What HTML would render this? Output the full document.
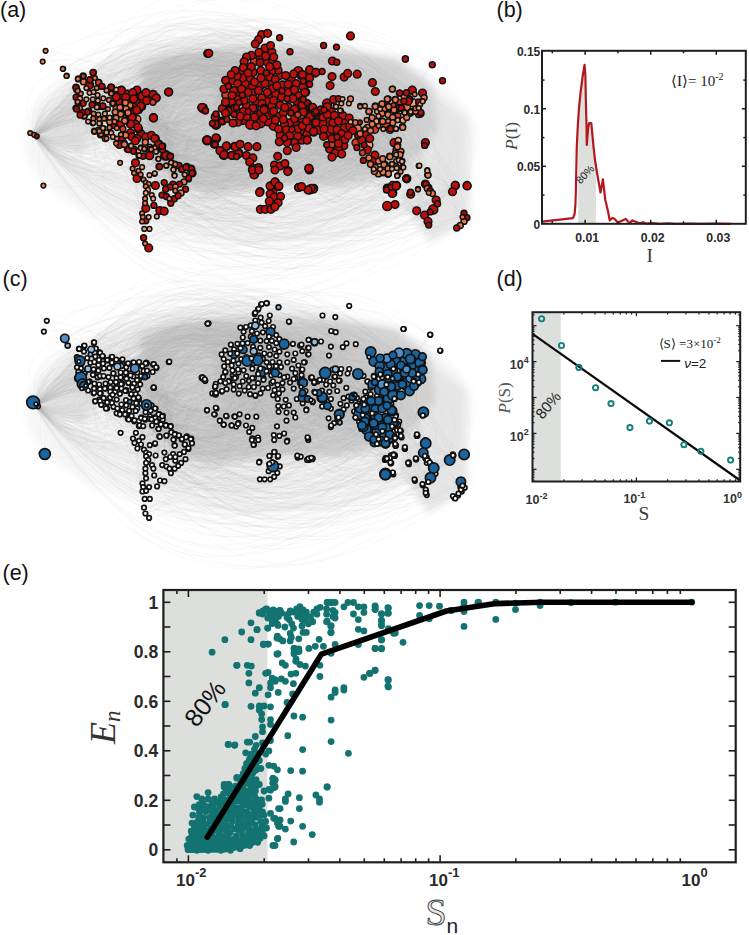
<!DOCTYPE html>
<html><head><meta charset="utf-8"><style>
html,body{margin:0;padding:0;background:#fff;width:749px;height:935px;overflow:hidden}
svg{display:block}
</style></head><body>
<svg width="749" height="935" viewBox="0 0 749 935">
<rect width="749" height="935" fill="#fff"/>
<text x="0" y="16.5" font-family='"Liberation Sans", sans-serif' font-size="21.5" fill="#111">(a)</text>
<text x="496.5" y="16.5" font-family='"Liberation Sans", sans-serif' font-size="21.5" fill="#111">(b)</text>
<text x="2.5" y="285.8" font-family='"Liberation Sans", sans-serif' font-size="21.5" fill="#111">(c)</text>
<text x="496.5" y="285.8" font-family='"Liberation Sans", sans-serif' font-size="21.5" fill="#111">(d)</text>
<text x="2.5" y="579.6" font-family='"Liberation Sans", sans-serif' font-size="21.5" fill="#111">(e)</text>
<defs><clipPath id="bclip"><rect x="578.2" y="40" width="17.7" height="184"/></clipPath></defs>
<polygon clip-path="url(#bclip)" points="542,221.6 573,218.2 574.6,214 575.4,205 575.9,190 576.2,175 576.5,160 576.8,145.6 577.9,124.2 579,108.1 580.6,92.1 582.7,76 584.6,64.8 585.4,76 585.9,102.8 586.5,124.2 586.8,145 588.1,128.4 589.1,123.1 591.3,123.1 592.4,134.9 593.4,145.6 595,160 596.9,172 600.5,192.5 602.9,179.3 605.3,200 607.9,210.8 609.7,220.4 612.6,217.9 614.1,218.5 617.8,222.6 625.8,218.9 629.5,223.3 632.4,220.4 637.6,222.6 640.5,223.3 643,222.3 646,223.6 652,223.2 660,223.8 668,223.4 676,223.8 690,223.6 700,223.8 715,223.6 730.7,223.8 730.7,224 542,224" fill="#dddfdd"/>
<polyline points="542,221.6 573,218.2 574.6,214 575.4,205 575.9,190 576.2,175 576.5,160 576.8,145.6 577.9,124.2 579,108.1 580.6,92.1 582.7,76 584.6,64.8 585.4,76 585.9,102.8 586.5,124.2 586.8,145 588.1,128.4 589.1,123.1 591.3,123.1 592.4,134.9 593.4,145.6 595,160 596.9,172 600.5,192.5 602.9,179.3 605.3,200 607.9,210.8 609.7,220.4 612.6,217.9 614.1,218.5 617.8,222.6 625.8,218.9 629.5,223.3 632.4,220.4 637.6,222.6 640.5,223.3 643,222.3 646,223.6 652,223.2 660,223.8 668,223.4 676,223.8 690,223.6 700,223.8 715,223.6 730.7,223.8" fill="none" stroke="#b2191f" stroke-width="2.2" stroke-linejoin="round"/>
<rect x="542" y="50.8" width="203.8" height="173" fill="none" stroke="#1e1e1e" stroke-width="2"/>
<line x1="552.3" y1="223.8" x2="552.3" y2="221.3" stroke="#1e1e1e" stroke-width="1.5"/>
<line x1="552.3" y1="50.8" x2="552.3" y2="53.3" stroke="#1e1e1e" stroke-width="1.5"/>
<line x1="585.1" y1="223.8" x2="585.1" y2="219.8" stroke="#1e1e1e" stroke-width="1.5"/>
<line x1="585.1" y1="50.8" x2="585.1" y2="54.8" stroke="#1e1e1e" stroke-width="1.5"/>
<line x1="617.9" y1="223.8" x2="617.9" y2="221.3" stroke="#1e1e1e" stroke-width="1.5"/>
<line x1="617.9" y1="50.8" x2="617.9" y2="53.3" stroke="#1e1e1e" stroke-width="1.5"/>
<line x1="650.7" y1="223.8" x2="650.7" y2="219.8" stroke="#1e1e1e" stroke-width="1.5"/>
<line x1="650.7" y1="50.8" x2="650.7" y2="54.8" stroke="#1e1e1e" stroke-width="1.5"/>
<line x1="683.5" y1="223.8" x2="683.5" y2="221.3" stroke="#1e1e1e" stroke-width="1.5"/>
<line x1="683.5" y1="50.8" x2="683.5" y2="53.3" stroke="#1e1e1e" stroke-width="1.5"/>
<line x1="716.3" y1="223.8" x2="716.3" y2="219.8" stroke="#1e1e1e" stroke-width="1.5"/>
<line x1="716.3" y1="50.8" x2="716.3" y2="54.8" stroke="#1e1e1e" stroke-width="1.5"/>
<line x1="542" y1="195.1" x2="544.5" y2="195.1" stroke="#1e1e1e" stroke-width="1.5"/>
<line x1="745.8" y1="195.1" x2="743.3" y2="195.1" stroke="#1e1e1e" stroke-width="1.5"/>
<line x1="542" y1="166.3" x2="546" y2="166.3" stroke="#1e1e1e" stroke-width="1.5"/>
<line x1="745.8" y1="166.3" x2="741.8" y2="166.3" stroke="#1e1e1e" stroke-width="1.5"/>
<line x1="542" y1="137.6" x2="544.5" y2="137.6" stroke="#1e1e1e" stroke-width="1.5"/>
<line x1="745.8" y1="137.6" x2="743.3" y2="137.6" stroke="#1e1e1e" stroke-width="1.5"/>
<line x1="542" y1="108.8" x2="546" y2="108.8" stroke="#1e1e1e" stroke-width="1.5"/>
<line x1="745.8" y1="108.8" x2="741.8" y2="108.8" stroke="#1e1e1e" stroke-width="1.5"/>
<line x1="542" y1="80.1" x2="544.5" y2="80.1" stroke="#1e1e1e" stroke-width="1.5"/>
<line x1="745.8" y1="80.1" x2="743.3" y2="80.1" stroke="#1e1e1e" stroke-width="1.5"/>
<text x="540.3" y="56.2" font-family='"Liberation Sans", sans-serif' font-weight="bold" fill="#2a2a2a" font-size="12" text-anchor="end">0.15</text>
<text x="540.3" y="113.7" font-family='"Liberation Sans", sans-serif' font-weight="bold" fill="#2a2a2a" font-size="12" text-anchor="end">0.1</text>
<text x="540.3" y="171.2" font-family='"Liberation Sans", sans-serif' font-weight="bold" fill="#2a2a2a" font-size="12" text-anchor="end">0.05</text>
<text x="540.3" y="228.7" font-family='"Liberation Sans", sans-serif' font-weight="bold" fill="#2a2a2a" font-size="12" text-anchor="end">0</text>
<text x="587.1" y="242.4" font-family='"Liberation Sans", sans-serif' font-weight="bold" fill="#2a2a2a" font-size="12.3" text-anchor="middle">0.01</text>
<text x="652.7" y="242.4" font-family='"Liberation Sans", sans-serif' font-weight="bold" fill="#2a2a2a" font-size="12.3" text-anchor="middle">0.02</text>
<text x="718.3" y="242.4" font-family='"Liberation Sans", sans-serif' font-weight="bold" fill="#2a2a2a" font-size="12.3" text-anchor="middle">0.03</text>
<text x="649.7" y="261.5" font-family='"Liberation Serif", serif' font-size="19.5" fill="#3a3a3a" text-anchor="middle">I</text>
<text transform="translate(517,150) rotate(-90)" font-family='"Liberation Serif", serif' font-size="17.5" fill="#444"><tspan font-style="italic">P</tspan>(I)</text>
<text x="671" y="85.7" font-family='"Liberation Serif", serif' font-size="15" fill="#222">⟨I⟩= 10<tspan font-size="10" dy="-6">-2</tspan></text>
<text transform="translate(580.5,184.5) rotate(-47)" font-family='"Liberation Sans", sans-serif' font-size="10.5" fill="#222">80%</text>
<rect x="532.5" y="312.2" width="28.299999999999955" height="169.3" fill="#dddfdd"/>
<line x1="532.5" y1="333.9" x2="740.2" y2="480.5" stroke="#0a0a0a" stroke-width="2.2"/>
<circle cx="541.6" cy="318.75" r="2.6" fill="none" stroke="#167d7a" stroke-width="1.9"/>
<circle cx="561.5" cy="345.5" r="2.6" fill="none" stroke="#167d7a" stroke-width="1.9"/>
<circle cx="578.9" cy="367.4" r="2.6" fill="none" stroke="#167d7a" stroke-width="1.9"/>
<circle cx="595.6" cy="387.7" r="2.6" fill="none" stroke="#167d7a" stroke-width="1.9"/>
<circle cx="611" cy="403.6" r="2.6" fill="none" stroke="#167d7a" stroke-width="1.9"/>
<circle cx="629.9" cy="427.6" r="2.6" fill="none" stroke="#167d7a" stroke-width="1.9"/>
<circle cx="649.5" cy="421.1" r="2.6" fill="none" stroke="#167d7a" stroke-width="1.9"/>
<circle cx="669.4" cy="422.8" r="2.6" fill="none" stroke="#167d7a" stroke-width="1.9"/>
<circle cx="683.9" cy="444.7" r="2.6" fill="none" stroke="#167d7a" stroke-width="1.9"/>
<circle cx="700.9" cy="451.2" r="2.6" fill="none" stroke="#167d7a" stroke-width="1.9"/>
<circle cx="730.6" cy="460.1" r="2.6" fill="none" stroke="#167d7a" stroke-width="1.9"/>
<rect x="532.5" y="312.2" width="207.70000000000005" height="169.3" fill="none" stroke="#1e1e1e" stroke-width="2"/>
<line x1="532.5" y1="481.5" x2="532.5" y2="477.5" stroke="#1e1e1e" stroke-width="1.2"/>
<line x1="532.5" y1="312.2" x2="532.5" y2="316.2" stroke="#1e1e1e" stroke-width="1.2"/>
<line x1="563.8" y1="481.5" x2="563.8" y2="479.3" stroke="#1e1e1e" stroke-width="1.2"/>
<line x1="563.8" y1="312.2" x2="563.8" y2="314.4" stroke="#1e1e1e" stroke-width="1.2"/>
<line x1="582.0" y1="481.5" x2="582.0" y2="479.3" stroke="#1e1e1e" stroke-width="1.2"/>
<line x1="582.0" y1="312.2" x2="582.0" y2="314.4" stroke="#1e1e1e" stroke-width="1.2"/>
<line x1="595.0" y1="481.5" x2="595.0" y2="479.3" stroke="#1e1e1e" stroke-width="1.2"/>
<line x1="595.0" y1="312.2" x2="595.0" y2="314.4" stroke="#1e1e1e" stroke-width="1.2"/>
<line x1="605.1" y1="481.5" x2="605.1" y2="479.3" stroke="#1e1e1e" stroke-width="1.2"/>
<line x1="605.1" y1="312.2" x2="605.1" y2="314.4" stroke="#1e1e1e" stroke-width="1.2"/>
<line x1="613.3" y1="481.5" x2="613.3" y2="479.3" stroke="#1e1e1e" stroke-width="1.2"/>
<line x1="613.3" y1="312.2" x2="613.3" y2="314.4" stroke="#1e1e1e" stroke-width="1.2"/>
<line x1="620.3" y1="481.5" x2="620.3" y2="479.3" stroke="#1e1e1e" stroke-width="1.2"/>
<line x1="620.3" y1="312.2" x2="620.3" y2="314.4" stroke="#1e1e1e" stroke-width="1.2"/>
<line x1="626.3" y1="481.5" x2="626.3" y2="479.3" stroke="#1e1e1e" stroke-width="1.2"/>
<line x1="626.3" y1="312.2" x2="626.3" y2="314.4" stroke="#1e1e1e" stroke-width="1.2"/>
<line x1="631.6" y1="481.5" x2="631.6" y2="479.3" stroke="#1e1e1e" stroke-width="1.2"/>
<line x1="631.6" y1="312.2" x2="631.6" y2="314.4" stroke="#1e1e1e" stroke-width="1.2"/>
<line x1="636.4" y1="481.5" x2="636.4" y2="477.5" stroke="#1e1e1e" stroke-width="1.2"/>
<line x1="636.4" y1="312.2" x2="636.4" y2="316.2" stroke="#1e1e1e" stroke-width="1.2"/>
<line x1="667.6" y1="481.5" x2="667.6" y2="479.3" stroke="#1e1e1e" stroke-width="1.2"/>
<line x1="667.6" y1="312.2" x2="667.6" y2="314.4" stroke="#1e1e1e" stroke-width="1.2"/>
<line x1="685.9" y1="481.5" x2="685.9" y2="479.3" stroke="#1e1e1e" stroke-width="1.2"/>
<line x1="685.9" y1="312.2" x2="685.9" y2="314.4" stroke="#1e1e1e" stroke-width="1.2"/>
<line x1="698.9" y1="481.5" x2="698.9" y2="479.3" stroke="#1e1e1e" stroke-width="1.2"/>
<line x1="698.9" y1="312.2" x2="698.9" y2="314.4" stroke="#1e1e1e" stroke-width="1.2"/>
<line x1="708.9" y1="481.5" x2="708.9" y2="479.3" stroke="#1e1e1e" stroke-width="1.2"/>
<line x1="708.9" y1="312.2" x2="708.9" y2="314.4" stroke="#1e1e1e" stroke-width="1.2"/>
<line x1="717.2" y1="481.5" x2="717.2" y2="479.3" stroke="#1e1e1e" stroke-width="1.2"/>
<line x1="717.2" y1="312.2" x2="717.2" y2="314.4" stroke="#1e1e1e" stroke-width="1.2"/>
<line x1="724.1" y1="481.5" x2="724.1" y2="479.3" stroke="#1e1e1e" stroke-width="1.2"/>
<line x1="724.1" y1="312.2" x2="724.1" y2="314.4" stroke="#1e1e1e" stroke-width="1.2"/>
<line x1="730.1" y1="481.5" x2="730.1" y2="479.3" stroke="#1e1e1e" stroke-width="1.2"/>
<line x1="730.1" y1="312.2" x2="730.1" y2="314.4" stroke="#1e1e1e" stroke-width="1.2"/>
<line x1="735.4" y1="481.5" x2="735.4" y2="479.3" stroke="#1e1e1e" stroke-width="1.2"/>
<line x1="735.4" y1="312.2" x2="735.4" y2="314.4" stroke="#1e1e1e" stroke-width="1.2"/>
<line x1="532.5" y1="480.1" x2="534.5" y2="480.1" stroke="#1e1e1e" stroke-width="1.2"/>
<line x1="740.2" y1="480.1" x2="738.2" y2="480.1" stroke="#1e1e1e" stroke-width="1.2"/>
<line x1="532.5" y1="477.3" x2="534.5" y2="477.3" stroke="#1e1e1e" stroke-width="1.2"/>
<line x1="740.2" y1="477.3" x2="738.2" y2="477.3" stroke="#1e1e1e" stroke-width="1.2"/>
<line x1="532.5" y1="474.9" x2="534.5" y2="474.9" stroke="#1e1e1e" stroke-width="1.2"/>
<line x1="740.2" y1="474.9" x2="738.2" y2="474.9" stroke="#1e1e1e" stroke-width="1.2"/>
<line x1="532.5" y1="472.8" x2="534.5" y2="472.8" stroke="#1e1e1e" stroke-width="1.2"/>
<line x1="740.2" y1="472.8" x2="738.2" y2="472.8" stroke="#1e1e1e" stroke-width="1.2"/>
<line x1="532.5" y1="470.9" x2="534.5" y2="470.9" stroke="#1e1e1e" stroke-width="1.2"/>
<line x1="740.2" y1="470.9" x2="738.2" y2="470.9" stroke="#1e1e1e" stroke-width="1.2"/>
<line x1="532.5" y1="469.3" x2="536.5" y2="469.3" stroke="#1e1e1e" stroke-width="1.2"/>
<line x1="740.2" y1="469.3" x2="736.2" y2="469.3" stroke="#1e1e1e" stroke-width="1.2"/>
<line x1="532.5" y1="458.5" x2="534.5" y2="458.5" stroke="#1e1e1e" stroke-width="1.2"/>
<line x1="740.2" y1="458.5" x2="738.2" y2="458.5" stroke="#1e1e1e" stroke-width="1.2"/>
<line x1="532.5" y1="452.2" x2="534.5" y2="452.2" stroke="#1e1e1e" stroke-width="1.2"/>
<line x1="740.2" y1="452.2" x2="738.2" y2="452.2" stroke="#1e1e1e" stroke-width="1.2"/>
<line x1="532.5" y1="447.7" x2="534.5" y2="447.7" stroke="#1e1e1e" stroke-width="1.2"/>
<line x1="740.2" y1="447.7" x2="738.2" y2="447.7" stroke="#1e1e1e" stroke-width="1.2"/>
<line x1="532.5" y1="444.2" x2="534.5" y2="444.2" stroke="#1e1e1e" stroke-width="1.2"/>
<line x1="740.2" y1="444.2" x2="738.2" y2="444.2" stroke="#1e1e1e" stroke-width="1.2"/>
<line x1="532.5" y1="441.4" x2="534.5" y2="441.4" stroke="#1e1e1e" stroke-width="1.2"/>
<line x1="740.2" y1="441.4" x2="738.2" y2="441.4" stroke="#1e1e1e" stroke-width="1.2"/>
<line x1="532.5" y1="439.0" x2="534.5" y2="439.0" stroke="#1e1e1e" stroke-width="1.2"/>
<line x1="740.2" y1="439.0" x2="738.2" y2="439.0" stroke="#1e1e1e" stroke-width="1.2"/>
<line x1="532.5" y1="436.9" x2="534.5" y2="436.9" stroke="#1e1e1e" stroke-width="1.2"/>
<line x1="740.2" y1="436.9" x2="738.2" y2="436.9" stroke="#1e1e1e" stroke-width="1.2"/>
<line x1="532.5" y1="435.0" x2="534.5" y2="435.0" stroke="#1e1e1e" stroke-width="1.2"/>
<line x1="740.2" y1="435.0" x2="738.2" y2="435.0" stroke="#1e1e1e" stroke-width="1.2"/>
<line x1="532.5" y1="433.4" x2="536.5" y2="433.4" stroke="#1e1e1e" stroke-width="1.2"/>
<line x1="740.2" y1="433.4" x2="736.2" y2="433.4" stroke="#1e1e1e" stroke-width="1.2"/>
<line x1="532.5" y1="422.6" x2="534.5" y2="422.6" stroke="#1e1e1e" stroke-width="1.2"/>
<line x1="740.2" y1="422.6" x2="738.2" y2="422.6" stroke="#1e1e1e" stroke-width="1.2"/>
<line x1="532.5" y1="416.3" x2="534.5" y2="416.3" stroke="#1e1e1e" stroke-width="1.2"/>
<line x1="740.2" y1="416.3" x2="738.2" y2="416.3" stroke="#1e1e1e" stroke-width="1.2"/>
<line x1="532.5" y1="411.8" x2="534.5" y2="411.8" stroke="#1e1e1e" stroke-width="1.2"/>
<line x1="740.2" y1="411.8" x2="738.2" y2="411.8" stroke="#1e1e1e" stroke-width="1.2"/>
<line x1="532.5" y1="408.3" x2="534.5" y2="408.3" stroke="#1e1e1e" stroke-width="1.2"/>
<line x1="740.2" y1="408.3" x2="738.2" y2="408.3" stroke="#1e1e1e" stroke-width="1.2"/>
<line x1="532.5" y1="405.5" x2="534.5" y2="405.5" stroke="#1e1e1e" stroke-width="1.2"/>
<line x1="740.2" y1="405.5" x2="738.2" y2="405.5" stroke="#1e1e1e" stroke-width="1.2"/>
<line x1="532.5" y1="403.1" x2="534.5" y2="403.1" stroke="#1e1e1e" stroke-width="1.2"/>
<line x1="740.2" y1="403.1" x2="738.2" y2="403.1" stroke="#1e1e1e" stroke-width="1.2"/>
<line x1="532.5" y1="401.0" x2="534.5" y2="401.0" stroke="#1e1e1e" stroke-width="1.2"/>
<line x1="740.2" y1="401.0" x2="738.2" y2="401.0" stroke="#1e1e1e" stroke-width="1.2"/>
<line x1="532.5" y1="399.1" x2="534.5" y2="399.1" stroke="#1e1e1e" stroke-width="1.2"/>
<line x1="740.2" y1="399.1" x2="738.2" y2="399.1" stroke="#1e1e1e" stroke-width="1.2"/>
<line x1="532.5" y1="397.5" x2="536.5" y2="397.5" stroke="#1e1e1e" stroke-width="1.2"/>
<line x1="740.2" y1="397.5" x2="736.2" y2="397.5" stroke="#1e1e1e" stroke-width="1.2"/>
<line x1="532.5" y1="386.7" x2="534.5" y2="386.7" stroke="#1e1e1e" stroke-width="1.2"/>
<line x1="740.2" y1="386.7" x2="738.2" y2="386.7" stroke="#1e1e1e" stroke-width="1.2"/>
<line x1="532.5" y1="380.4" x2="534.5" y2="380.4" stroke="#1e1e1e" stroke-width="1.2"/>
<line x1="740.2" y1="380.4" x2="738.2" y2="380.4" stroke="#1e1e1e" stroke-width="1.2"/>
<line x1="532.5" y1="375.9" x2="534.5" y2="375.9" stroke="#1e1e1e" stroke-width="1.2"/>
<line x1="740.2" y1="375.9" x2="738.2" y2="375.9" stroke="#1e1e1e" stroke-width="1.2"/>
<line x1="532.5" y1="372.4" x2="534.5" y2="372.4" stroke="#1e1e1e" stroke-width="1.2"/>
<line x1="740.2" y1="372.4" x2="738.2" y2="372.4" stroke="#1e1e1e" stroke-width="1.2"/>
<line x1="532.5" y1="369.6" x2="534.5" y2="369.6" stroke="#1e1e1e" stroke-width="1.2"/>
<line x1="740.2" y1="369.6" x2="738.2" y2="369.6" stroke="#1e1e1e" stroke-width="1.2"/>
<line x1="532.5" y1="367.2" x2="534.5" y2="367.2" stroke="#1e1e1e" stroke-width="1.2"/>
<line x1="740.2" y1="367.2" x2="738.2" y2="367.2" stroke="#1e1e1e" stroke-width="1.2"/>
<line x1="532.5" y1="365.1" x2="534.5" y2="365.1" stroke="#1e1e1e" stroke-width="1.2"/>
<line x1="740.2" y1="365.1" x2="738.2" y2="365.1" stroke="#1e1e1e" stroke-width="1.2"/>
<line x1="532.5" y1="363.2" x2="534.5" y2="363.2" stroke="#1e1e1e" stroke-width="1.2"/>
<line x1="740.2" y1="363.2" x2="738.2" y2="363.2" stroke="#1e1e1e" stroke-width="1.2"/>
<line x1="532.5" y1="361.6" x2="536.5" y2="361.6" stroke="#1e1e1e" stroke-width="1.2"/>
<line x1="740.2" y1="361.6" x2="736.2" y2="361.6" stroke="#1e1e1e" stroke-width="1.2"/>
<line x1="532.5" y1="350.8" x2="534.5" y2="350.8" stroke="#1e1e1e" stroke-width="1.2"/>
<line x1="740.2" y1="350.8" x2="738.2" y2="350.8" stroke="#1e1e1e" stroke-width="1.2"/>
<line x1="532.5" y1="344.5" x2="534.5" y2="344.5" stroke="#1e1e1e" stroke-width="1.2"/>
<line x1="740.2" y1="344.5" x2="738.2" y2="344.5" stroke="#1e1e1e" stroke-width="1.2"/>
<line x1="532.5" y1="340.0" x2="534.5" y2="340.0" stroke="#1e1e1e" stroke-width="1.2"/>
<line x1="740.2" y1="340.0" x2="738.2" y2="340.0" stroke="#1e1e1e" stroke-width="1.2"/>
<line x1="532.5" y1="336.5" x2="534.5" y2="336.5" stroke="#1e1e1e" stroke-width="1.2"/>
<line x1="740.2" y1="336.5" x2="738.2" y2="336.5" stroke="#1e1e1e" stroke-width="1.2"/>
<line x1="532.5" y1="333.7" x2="534.5" y2="333.7" stroke="#1e1e1e" stroke-width="1.2"/>
<line x1="740.2" y1="333.7" x2="738.2" y2="333.7" stroke="#1e1e1e" stroke-width="1.2"/>
<line x1="532.5" y1="331.3" x2="534.5" y2="331.3" stroke="#1e1e1e" stroke-width="1.2"/>
<line x1="740.2" y1="331.3" x2="738.2" y2="331.3" stroke="#1e1e1e" stroke-width="1.2"/>
<line x1="532.5" y1="329.2" x2="534.5" y2="329.2" stroke="#1e1e1e" stroke-width="1.2"/>
<line x1="740.2" y1="329.2" x2="738.2" y2="329.2" stroke="#1e1e1e" stroke-width="1.2"/>
<line x1="532.5" y1="327.3" x2="534.5" y2="327.3" stroke="#1e1e1e" stroke-width="1.2"/>
<line x1="740.2" y1="327.3" x2="738.2" y2="327.3" stroke="#1e1e1e" stroke-width="1.2"/>
<line x1="532.5" y1="325.7" x2="536.5" y2="325.7" stroke="#1e1e1e" stroke-width="1.2"/>
<line x1="740.2" y1="325.7" x2="736.2" y2="325.7" stroke="#1e1e1e" stroke-width="1.2"/>
<line x1="532.5" y1="314.9" x2="534.5" y2="314.9" stroke="#1e1e1e" stroke-width="1.2"/>
<line x1="740.2" y1="314.9" x2="738.2" y2="314.9" stroke="#1e1e1e" stroke-width="1.2"/>
<text x="509.8" y="368.8" font-family='"Liberation Sans", sans-serif' font-weight="bold" fill="#333" font-size="12.5">10<tspan font-size="9" dy="-5.5">4</tspan></text>
<text x="509.8" y="440.6" font-family='"Liberation Sans", sans-serif' font-weight="bold" fill="#333" font-size="12.5">10<tspan font-size="9" dy="-5.5">2</tspan></text>
<text x="525.6" y="504" font-family='"Liberation Sans", sans-serif' font-weight="bold" fill="#333" font-size="12.5">10<tspan font-size="9" dy="-5.5">-2</tspan></text>
<text x="623.4" y="503" font-family='"Liberation Sans", sans-serif' font-weight="bold" fill="#333" font-size="12.5">10<tspan font-size="9" dy="-5.5">-1</tspan></text>
<text x="723" y="503" font-family='"Liberation Sans", sans-serif' font-weight="bold" fill="#333" font-size="12.5">10<tspan font-size="9" dy="-5.5">0</tspan></text>
<text x="644" y="520.3" font-family='"Liberation Serif", serif' font-size="19.5" fill="#3a3a3a" text-anchor="middle">S</text>
<text transform="translate(509.5,413.5) rotate(-90)" font-family='"Liberation Serif", serif' font-size="17" fill="#555"><tspan font-style="italic">P</tspan>(S)</text>
<text x="658.6" y="348.3" font-family='"Liberation Serif", serif' font-size="13" fill="#222">⟨S⟩ =3×10<tspan font-size="9" dy="-5">-2</tspan></text>
<line x1="661" y1="360.9" x2="680.2" y2="360.9" stroke="#111" stroke-width="2"/>
<text x="684.2" y="367.7" font-family='"Liberation Sans", sans-serif' font-size="13.5" fill="#222"><tspan font-style="italic">ν</tspan>=2</text>
<text transform="translate(542.5,420) rotate(-50)" font-family='"Liberation Sans", sans-serif' font-size="15" fill="#222">80%</text>
<rect x="163.4" y="590" width="104.1" height="272.29999999999995" fill="#dddfdd"/>
<g id="edots"></g>
<polygon points="187.5,851 190,840 192,830 197,832 212,838 225,840 240,840 255,838 261,838 255,843 248,846 225,850.5 195,851" fill="#137371" stroke="#137371" stroke-width="4" stroke-linejoin="round"/>
<g fill="#137371">
<circle cx="232.4" cy="821.0" r="3.4"/>
<circle cx="238.6" cy="840.7" r="3.4"/>
<circle cx="238.6" cy="819.9" r="3.4"/>
<circle cx="227.4" cy="846.4" r="3.4"/>
<circle cx="260.7" cy="821.3" r="3.4"/>
<circle cx="235.3" cy="828.9" r="3.4"/>
<circle cx="221.5" cy="837.3" r="3.4"/>
<circle cx="259.5" cy="815.2" r="3.4"/>
<circle cx="193.4" cy="847.5" r="3.4"/>
<circle cx="257.2" cy="830.0" r="3.4"/>
<circle cx="212.3" cy="803.0" r="3.4"/>
<circle cx="238.8" cy="807.8" r="3.4"/>
<circle cx="225.1" cy="800.2" r="3.4"/>
<circle cx="230.1" cy="832.7" r="3.4"/>
<circle cx="213.1" cy="840.6" r="3.4"/>
<circle cx="226.7" cy="819.5" r="3.4"/>
<circle cx="224.3" cy="805.1" r="3.4"/>
<circle cx="227.6" cy="792.8" r="3.4"/>
<circle cx="219.3" cy="834.0" r="3.4"/>
<circle cx="203.2" cy="827.1" r="3.4"/>
<circle cx="246.1" cy="817.6" r="3.4"/>
<circle cx="228.0" cy="837.6" r="3.4"/>
<circle cx="209.7" cy="817.3" r="3.4"/>
<circle cx="203.5" cy="845.2" r="3.4"/>
<circle cx="194.6" cy="843.4" r="3.4"/>
<circle cx="220.5" cy="842.7" r="3.4"/>
<circle cx="248.4" cy="833.1" r="3.4"/>
<circle cx="245.4" cy="838.9" r="3.4"/>
<circle cx="262.6" cy="830.4" r="3.4"/>
<circle cx="236.1" cy="797.8" r="3.4"/>
<circle cx="214.9" cy="810.7" r="3.4"/>
<circle cx="249.8" cy="814.4" r="3.4"/>
<circle cx="212.4" cy="836.4" r="3.4"/>
<circle cx="249.0" cy="802.3" r="3.4"/>
<circle cx="204.3" cy="840.1" r="3.4"/>
<circle cx="210.7" cy="828.5" r="3.4"/>
<circle cx="207.0" cy="823.8" r="3.4"/>
<circle cx="196.7" cy="831.4" r="3.4"/>
<circle cx="199.5" cy="812.7" r="3.4"/>
<circle cx="218.2" cy="817.6" r="3.4"/>
<circle cx="226.6" cy="811.5" r="3.4"/>
<circle cx="212.7" cy="814.0" r="3.4"/>
<circle cx="251.6" cy="822.4" r="3.4"/>
<circle cx="236.3" cy="835.8" r="3.4"/>
<circle cx="214.1" cy="822.4" r="3.4"/>
<circle cx="220.9" cy="797.1" r="3.4"/>
<circle cx="202.6" cy="834.6" r="3.4"/>
<circle cx="214.7" cy="828.0" r="3.4"/>
<circle cx="246.4" cy="799.4" r="3.4"/>
<circle cx="230.9" cy="803.4" r="3.4"/>
<circle cx="245.7" cy="844.2" r="3.4"/>
<circle cx="252.0" cy="839.8" r="3.4"/>
<circle cx="241.7" cy="810.9" r="3.4"/>
<circle cx="205.2" cy="830.5" r="3.4"/>
<circle cx="226.6" cy="825.3" r="3.4"/>
<circle cx="248.6" cy="827.3" r="3.4"/>
<circle cx="202.4" cy="809.7" r="3.4"/>
<circle cx="242.5" cy="835.2" r="3.4"/>
<circle cx="203.2" cy="822.6" r="3.4"/>
<circle cx="239.2" cy="830.4" r="3.4"/>
<circle cx="255.5" cy="817.3" r="3.4"/>
<circle cx="254.1" cy="835.4" r="3.4"/>
<circle cx="213.4" cy="846.0" r="3.4"/>
<circle cx="225.6" cy="834.4" r="3.4"/>
<circle cx="254.7" cy="813.1" r="3.4"/>
<circle cx="217.3" cy="846.1" r="3.4"/>
<circle cx="261.6" cy="799.8" r="3.4"/>
<circle cx="220.5" cy="826.1" r="3.4"/>
<circle cx="224.5" cy="842.2" r="3.4"/>
<circle cx="207.3" cy="835.9" r="3.4"/>
<circle cx="258.2" cy="834.3" r="3.4"/>
<circle cx="262.0" cy="826.4" r="3.4"/>
<circle cx="193.5" cy="839.6" r="3.4"/>
<circle cx="196.8" cy="835.8" r="3.4"/>
<circle cx="237.0" cy="844.6" r="3.4"/>
<circle cx="233.9" cy="807.6" r="3.4"/>
<circle cx="197.4" cy="821.9" r="3.4"/>
<circle cx="208.7" cy="843.2" r="3.4"/>
<circle cx="232.1" cy="844.4" r="3.4"/>
<circle cx="235.5" cy="791.0" r="3.4"/>
<circle cx="249.4" cy="796.6" r="3.4"/>
<circle cx="205.8" cy="811.6" r="3.4"/>
<circle cx="203.7" cy="817.6" r="3.4"/>
<circle cx="241.9" cy="822.9" r="3.4"/>
<circle cx="242.3" cy="806.1" r="3.4"/>
<circle cx="199.1" cy="839.4" r="3.4"/>
<circle cx="244.7" cy="793.4" r="3.4"/>
<circle cx="223.5" cy="829.1" r="3.4"/>
<circle cx="208.1" cy="806.6" r="3.4"/>
<circle cx="243.0" cy="828.8" r="3.4"/>
<circle cx="255.3" cy="805.3" r="3.4"/>
<circle cx="200.4" cy="848.0" r="3.4"/>
<circle cx="248.2" cy="791.1" r="3.4"/>
<circle cx="219.6" cy="806.8" r="3.4"/>
<circle cx="238.9" cy="800.9" r="3.4"/>
<circle cx="223.0" cy="813.1" r="3.4"/>
<circle cx="216.4" cy="838.1" r="3.4"/>
<circle cx="230.9" cy="826.1" r="3.4"/>
<circle cx="191.9" cy="835.1" r="3.4"/>
<circle cx="233.5" cy="839.5" r="3.4"/>
<circle cx="241.4" cy="816.4" r="3.4"/>
<circle cx="198.8" cy="817.4" r="3.4"/>
<circle cx="230.2" cy="789.5" r="3.4"/>
<circle cx="229.8" cy="815.8" r="3.4"/>
<circle cx="260.2" cy="838.3" r="3.4"/>
<circle cx="257.8" cy="810.7" r="3.4"/>
<circle cx="229.9" cy="798.7" r="3.4"/>
<circle cx="234.5" cy="801.9" r="3.4"/>
<circle cx="255.3" cy="824.9" r="3.4"/>
<circle cx="212.7" cy="832.0" r="3.4"/>
<circle cx="214.2" cy="818.1" r="3.4"/>
<circle cx="238.0" cy="825.0" r="3.4"/>
<circle cx="222.4" cy="846.3" r="3.4"/>
<circle cx="221.8" cy="820.9" r="3.4"/>
<circle cx="252.2" cy="830.9" r="3.4"/>
<circle cx="236.6" cy="811.4" r="3.4"/>
<circle cx="253.9" cy="809.0" r="3.4"/>
<circle cx="210.5" cy="810.5" r="3.4"/>
<circle cx="223.5" cy="794.0" r="3.4"/>
<circle cx="194.4" cy="827.7" r="3.4"/>
<circle cx="246.4" cy="821.6" r="3.4"/>
<circle cx="241.7" cy="777.1" r="3.4"/>
<circle cx="251.7" cy="793.1" r="3.4"/>
<circle cx="232.2" cy="794.1" r="3.4"/>
<circle cx="190.7" cy="842.6" r="3.4"/>
<circle cx="242.4" cy="798.1" r="3.4"/>
<circle cx="199.6" cy="843.5" r="3.4"/>
<circle cx="227.9" cy="829.3" r="3.4"/>
<circle cx="199.2" cy="826.5" r="3.4"/>
<circle cx="223.6" cy="809.0" r="3.4"/>
<circle cx="251.2" cy="818.4" r="3.4"/>
<circle cx="227.6" cy="807.5" r="3.4"/>
<circle cx="258.5" cy="802.7" r="3.4"/>
<circle cx="241.5" cy="844.5" r="3.4"/>
<circle cx="218.4" cy="812.5" r="3.4"/>
<circle cx="253.0" cy="802.2" r="3.4"/>
<circle cx="199.2" cy="804.7" r="3.4"/>
<circle cx="240.2" cy="790.3" r="3.4"/>
<circle cx="228.9" cy="841.7" r="3.4"/>
<circle cx="219.0" cy="829.9" r="3.4"/>
<circle cx="223.5" cy="817.0" r="3.4"/>
<circle cx="251.1" cy="788.2" r="3.4"/>
<circle cx="245.0" cy="825.3" r="3.4"/>
<circle cx="262.2" cy="804.2" r="3.4"/>
<circle cx="201.0" cy="830.4" r="3.4"/>
<circle cx="210.3" cy="821.4" r="3.4"/>
<circle cx="221.6" cy="802.1" r="3.4"/>
<circle cx="247.3" cy="774.2" r="3.4"/>
<circle cx="246.1" cy="805.0" r="3.4"/>
<circle cx="237.6" cy="815.6" r="3.4"/>
<circle cx="218.1" cy="822.9" r="3.4"/>
<circle cx="249.1" cy="837.1" r="3.4"/>
<circle cx="208.7" cy="832.2" r="3.4"/>
<circle cx="212.1" cy="652.2" r="3.4"/>
<circle cx="224.9" cy="639.7" r="3.4"/>
<circle cx="241.7" cy="632.0" r="3.4"/>
<circle cx="251.0" cy="622.8" r="3.4"/>
<circle cx="256.9" cy="629.7" r="3.4"/>
<circle cx="251.0" cy="639.7" r="3.4"/>
<circle cx="267.7" cy="628.1" r="3.4"/>
<circle cx="263.3" cy="644.5" r="3.4"/>
<circle cx="267.7" cy="644.1" r="3.4"/>
<circle cx="259.3" cy="613.2" r="3.4"/>
<circle cx="265.7" cy="609.2" r="3.4"/>
<circle cx="268.9" cy="610.8" r="3.4"/>
<circle cx="262.5" cy="614.0" r="3.4"/>
<circle cx="268.9" cy="617.2" r="3.4"/>
<circle cx="272.1" cy="620.4" r="3.4"/>
<circle cx="275.3" cy="612.4" r="3.4"/>
<circle cx="278.6" cy="610.8" r="3.4"/>
<circle cx="276.9" cy="623.6" r="3.4"/>
<circle cx="276.9" cy="638.1" r="3.4"/>
<circle cx="276.9" cy="654.1" r="3.4"/>
<circle cx="236.6" cy="665.3" r="3.4"/>
<circle cx="247.3" cy="665.3" r="3.4"/>
<circle cx="251.3" cy="666.1" r="3.4"/>
<circle cx="248.9" cy="673.3" r="3.4"/>
<circle cx="248.9" cy="682.9" r="3.4"/>
<circle cx="259.3" cy="687.7" r="3.4"/>
<circle cx="265.7" cy="673.3" r="3.4"/>
<circle cx="268.1" cy="672.5" r="3.4"/>
<circle cx="272.1" cy="678.1" r="3.4"/>
<circle cx="270.5" cy="682.9" r="3.4"/>
<circle cx="275.3" cy="681.3" r="3.4"/>
<circle cx="270.5" cy="687.7" r="3.4"/>
<circle cx="272.1" cy="623.6" r="3.4"/>
<circle cx="275.3" cy="618.8" r="3.4"/>
<circle cx="259.3" cy="612.6" r="3.4"/>
<circle cx="263.0" cy="611.0" r="3.4"/>
<circle cx="266.7" cy="608.9" r="3.4"/>
<circle cx="268.9" cy="612.1" r="3.4"/>
<circle cx="267.8" cy="618.0" r="3.4"/>
<circle cx="272.1" cy="619.6" r="3.4"/>
<circle cx="275.3" cy="611.6" r="3.4"/>
<circle cx="280.1" cy="610.5" r="3.4"/>
<circle cx="278.5" cy="616.4" r="3.4"/>
<circle cx="275.3" cy="622.8" r="3.4"/>
<circle cx="278.0" cy="625.4" r="3.4"/>
<circle cx="257.1" cy="629.7" r="3.4"/>
<circle cx="267.8" cy="628.1" r="3.4"/>
<circle cx="284.9" cy="627.0" r="3.4"/>
<circle cx="288.1" cy="614.2" r="3.4"/>
<circle cx="289.2" cy="619.6" r="3.4"/>
<circle cx="291.8" cy="623.8" r="3.4"/>
<circle cx="293.5" cy="628.1" r="3.4"/>
<circle cx="290.2" cy="633.5" r="3.4"/>
<circle cx="291.3" cy="637.2" r="3.4"/>
<circle cx="290.2" cy="640.9" r="3.4"/>
<circle cx="296.7" cy="608.9" r="3.4"/>
<circle cx="299.9" cy="606.7" r="3.4"/>
<circle cx="303.1" cy="610.0" r="3.4"/>
<circle cx="306.3" cy="612.1" r="3.4"/>
<circle cx="302.0" cy="619.6" r="3.4"/>
<circle cx="305.2" cy="620.6" r="3.4"/>
<circle cx="310.5" cy="617.4" r="3.4"/>
<circle cx="312.7" cy="621.7" r="3.4"/>
<circle cx="308.4" cy="623.8" r="3.4"/>
<circle cx="302.0" cy="626.0" r="3.4"/>
<circle cx="303.1" cy="632.4" r="3.4"/>
<circle cx="306.3" cy="632.4" r="3.4"/>
<circle cx="298.8" cy="638.8" r="3.4"/>
<circle cx="316.9" cy="608.9" r="3.4"/>
<circle cx="320.2" cy="607.3" r="3.4"/>
<circle cx="316.9" cy="614.2" r="3.4"/>
<circle cx="327.6" cy="602.5" r="3.4"/>
<circle cx="331.9" cy="602.5" r="3.4"/>
<circle cx="326.6" cy="608.9" r="3.4"/>
<circle cx="326.6" cy="614.2" r="3.4"/>
<circle cx="333.0" cy="610.5" r="3.4"/>
<circle cx="333.0" cy="616.4" r="3.4"/>
<circle cx="326.6" cy="621.7" r="3.4"/>
<circle cx="330.8" cy="626.0" r="3.4"/>
<circle cx="330.8" cy="632.4" r="3.4"/>
<circle cx="277.4" cy="636.1" r="3.4"/>
<circle cx="279.6" cy="638.8" r="3.4"/>
<circle cx="282.8" cy="640.9" r="3.4"/>
<circle cx="263.5" cy="644.1" r="3.4"/>
<circle cx="268.4" cy="644.1" r="3.4"/>
<circle cx="294.0" cy="648.4" r="3.4"/>
<circle cx="298.8" cy="648.9" r="3.4"/>
<circle cx="294.0" cy="652.7" r="3.4"/>
<circle cx="298.8" cy="651.6" r="3.4"/>
<circle cx="308.9" cy="648.4" r="3.4"/>
<circle cx="315.3" cy="646.3" r="3.4"/>
<circle cx="319.1" cy="639.3" r="3.4"/>
<circle cx="323.4" cy="646.3" r="3.4"/>
<circle cx="278.0" cy="653.7" r="3.4"/>
<circle cx="296.1" cy="659.1" r="3.4"/>
<circle cx="271.0" cy="615.3" r="3.4"/>
<circle cx="273.2" cy="610.0" r="3.4"/>
<circle cx="276.4" cy="616.4" r="3.4"/>
<circle cx="281.7" cy="613.2" r="3.4"/>
<circle cx="299.9" cy="613.2" r="3.4"/>
<circle cx="297.7" cy="616.4" r="3.4"/>
<circle cx="293.5" cy="612.1" r="3.4"/>
<circle cx="290.2" cy="611.0" r="3.4"/>
<circle cx="308.4" cy="616.4" r="3.4"/>
<circle cx="313.7" cy="612.1" r="3.4"/>
<circle cx="304.1" cy="615.3" r="3.4"/>
<circle cx="287.0" cy="617.4" r="3.4"/>
<circle cx="327.1" cy="602.5" r="3.4"/>
<circle cx="331.1" cy="602.5" r="3.4"/>
<circle cx="335.1" cy="602.5" r="3.4"/>
<circle cx="347.9" cy="602.5" r="3.4"/>
<circle cx="353.5" cy="602.5" r="3.4"/>
<circle cx="343.9" cy="606.8" r="3.4"/>
<circle cx="358.3" cy="606.8" r="3.4"/>
<circle cx="363.9" cy="606.8" r="3.4"/>
<circle cx="375.1" cy="606.0" r="3.4"/>
<circle cx="375.1" cy="609.2" r="3.4"/>
<circle cx="387.9" cy="607.6" r="3.4"/>
<circle cx="387.9" cy="613.2" r="3.4"/>
<circle cx="335.1" cy="612.4" r="3.4"/>
<circle cx="335.1" cy="618.0" r="3.4"/>
<circle cx="353.5" cy="614.0" r="3.4"/>
<circle cx="363.9" cy="612.4" r="3.4"/>
<circle cx="358.3" cy="619.6" r="3.4"/>
<circle cx="381.5" cy="614.0" r="3.4"/>
<circle cx="381.5" cy="620.4" r="3.4"/>
<circle cx="381.5" cy="624.4" r="3.4"/>
<circle cx="327.1" cy="621.2" r="3.4"/>
<circle cx="331.1" cy="626.0" r="3.4"/>
<circle cx="331.1" cy="632.5" r="3.4"/>
<circle cx="358.3" cy="629.3" r="3.4"/>
<circle cx="363.9" cy="630.9" r="3.4"/>
<circle cx="393.6" cy="633.3" r="3.4"/>
<circle cx="381.5" cy="639.7" r="3.4"/>
<circle cx="358.3" cy="644.5" r="3.4"/>
<circle cx="375.1" cy="648.5" r="3.4"/>
<circle cx="381.5" cy="648.5" r="3.4"/>
<circle cx="335.1" cy="644.5" r="3.4"/>
<circle cx="331.1" cy="653.3" r="3.4"/>
<circle cx="282.2" cy="662.9" r="3.4"/>
<circle cx="285.4" cy="665.3" r="3.4"/>
<circle cx="295.8" cy="661.3" r="3.4"/>
<circle cx="299.8" cy="664.5" r="3.4"/>
<circle cx="305.4" cy="666.1" r="3.4"/>
<circle cx="319.9" cy="665.3" r="3.4"/>
<circle cx="319.9" cy="676.5" r="3.4"/>
<circle cx="291.0" cy="674.1" r="3.4"/>
<circle cx="295.8" cy="673.3" r="3.4"/>
<circle cx="275.0" cy="679.7" r="3.4"/>
<circle cx="281.4" cy="678.9" r="3.4"/>
<circle cx="285.4" cy="681.3" r="3.4"/>
<circle cx="293.4" cy="683.7" r="3.4"/>
<circle cx="343.9" cy="687.7" r="3.4"/>
<circle cx="363.9" cy="677.3" r="3.4"/>
<circle cx="369.5" cy="673.3" r="3.4"/>
<circle cx="375.1" cy="670.1" r="3.4"/>
<circle cx="387.9" cy="679.7" r="3.4"/>
<circle cx="387.9" cy="686.1" r="3.4"/>
<circle cx="335.1" cy="690.0" r="3.4"/>
<circle cx="277.4" cy="654.1" r="3.4"/>
<circle cx="294.2" cy="648.5" r="3.4"/>
<circle cx="299.0" cy="650.9" r="3.4"/>
<circle cx="294.2" cy="654.1" r="3.4"/>
<circle cx="224.9" cy="704.7" r="3.4"/>
<circle cx="251.0" cy="706.3" r="3.4"/>
<circle cx="255.3" cy="693.2" r="3.4"/>
<circle cx="268.1" cy="694.8" r="3.4"/>
<circle cx="259.3" cy="706.0" r="3.4"/>
<circle cx="264.1" cy="706.0" r="3.4"/>
<circle cx="270.5" cy="706.8" r="3.4"/>
<circle cx="259.3" cy="710.0" r="3.4"/>
<circle cx="261.7" cy="714.0" r="3.4"/>
<circle cx="261.7" cy="719.6" r="3.4"/>
<circle cx="270.5" cy="719.6" r="3.4"/>
<circle cx="270.5" cy="724.4" r="3.4"/>
<circle cx="262.5" cy="726.8" r="3.4"/>
<circle cx="262.5" cy="731.7" r="3.4"/>
<circle cx="255.3" cy="736.5" r="3.4"/>
<circle cx="247.3" cy="742.1" r="3.4"/>
<circle cx="249.7" cy="742.1" r="3.4"/>
<circle cx="228.1" cy="744.5" r="3.4"/>
<circle cx="234.5" cy="745.3" r="3.4"/>
<circle cx="256.1" cy="745.3" r="3.4"/>
<circle cx="254.5" cy="749.3" r="3.4"/>
<circle cx="270.5" cy="740.5" r="3.4"/>
<circle cx="268.9" cy="750.9" r="3.4"/>
<circle cx="245.7" cy="752.8" r="3.4"/>
<circle cx="249.7" cy="758.9" r="3.4"/>
<circle cx="252.9" cy="757.3" r="3.4"/>
<circle cx="246.5" cy="763.7" r="3.4"/>
<circle cx="249.7" cy="765.3" r="3.4"/>
<circle cx="244.9" cy="768.5" r="3.4"/>
<circle cx="256.1" cy="763.7" r="3.4"/>
<circle cx="260.9" cy="768.5" r="3.4"/>
<circle cx="268.9" cy="765.3" r="3.4"/>
<circle cx="273.7" cy="766.1" r="3.4"/>
<circle cx="252.9" cy="773.3" r="3.4"/>
<circle cx="252.9" cy="779.7" r="3.4"/>
<circle cx="243.3" cy="773.3" r="3.4"/>
<circle cx="236.9" cy="777.3" r="3.4"/>
<circle cx="244.9" cy="782.9" r="3.4"/>
<circle cx="249.7" cy="784.5" r="3.4"/>
<circle cx="272.9" cy="778.1" r="3.4"/>
<circle cx="272.9" cy="782.9" r="3.4"/>
<circle cx="224.1" cy="784.5" r="3.4"/>
<circle cx="228.9" cy="784.5" r="3.4"/>
<circle cx="225.7" cy="788.5" r="3.4"/>
<circle cx="268.9" cy="789.3" r="3.4"/>
<circle cx="273.7" cy="787.7" r="3.4"/>
<circle cx="255.3" cy="787.7" r="3.4"/>
<circle cx="251.3" cy="754.1" r="3.4"/>
<circle cx="248.9" cy="761.3" r="3.4"/>
<circle cx="247.3" cy="770.1" r="3.4"/>
<circle cx="250.5" cy="776.5" r="3.4"/>
<circle cx="256.1" cy="770.1" r="3.4"/>
<circle cx="259.3" cy="760.5" r="3.4"/>
<circle cx="257.7" cy="754.1" r="3.4"/>
<circle cx="265.7" cy="754.1" r="3.4"/>
<circle cx="262.5" cy="742.9" r="3.4"/>
<circle cx="256.1" cy="779.7" r="3.4"/>
<circle cx="259.3" cy="784.5" r="3.4"/>
<circle cx="246.5" cy="778.1" r="3.4"/>
<circle cx="240.1" cy="784.5" r="3.4"/>
<circle cx="235.3" cy="786.1" r="3.4"/>
<circle cx="278.2" cy="692.4" r="3.4"/>
<circle cx="292.6" cy="694.0" r="3.4"/>
<circle cx="287.0" cy="702.5" r="3.4"/>
<circle cx="331.1" cy="697.2" r="3.4"/>
<circle cx="335.1" cy="692.4" r="3.4"/>
<circle cx="343.9" cy="690.0" r="3.4"/>
<circle cx="293.9" cy="716.0" r="3.4"/>
<circle cx="302.6" cy="717.2" r="3.4"/>
<circle cx="331.1" cy="720.1" r="3.4"/>
<circle cx="287.8" cy="735.7" r="3.4"/>
<circle cx="331.1" cy="741.6" r="3.4"/>
<circle cx="302.6" cy="749.6" r="3.4"/>
<circle cx="348.4" cy="753.3" r="3.4"/>
<circle cx="277.4" cy="769.8" r="3.4"/>
<circle cx="290.7" cy="770.6" r="3.4"/>
<circle cx="302.6" cy="771.2" r="3.4"/>
<circle cx="275.0" cy="779.7" r="3.4"/>
<circle cx="275.0" cy="786.1" r="3.4"/>
<circle cx="327.1" cy="786.9" r="3.4"/>
<circle cx="272.9" cy="779.0" r="3.4"/>
<circle cx="272.9" cy="783.0" r="3.4"/>
<circle cx="270.5" cy="790.2" r="3.4"/>
<circle cx="264.1" cy="791.0" r="3.4"/>
<circle cx="255.3" cy="791.0" r="3.4"/>
<circle cx="254.5" cy="795.8" r="3.4"/>
<circle cx="268.9" cy="798.2" r="3.4"/>
<circle cx="278.6" cy="808.6" r="3.4"/>
<circle cx="270.5" cy="813.4" r="3.4"/>
<circle cx="273.7" cy="818.3" r="3.4"/>
<circle cx="278.6" cy="821.5" r="3.4"/>
<circle cx="278.6" cy="826.3" r="3.4"/>
<circle cx="277.8" cy="838.3" r="3.4"/>
<circle cx="272.9" cy="845.5" r="3.4"/>
<circle cx="236.9" cy="778.2" r="3.4"/>
<circle cx="224.1" cy="787.0" r="3.4"/>
<circle cx="227.3" cy="784.6" r="3.4"/>
<circle cx="196.8" cy="796.6" r="3.4"/>
<circle cx="201.7" cy="799.0" r="3.4"/>
<circle cx="208.1" cy="792.6" r="3.4"/>
<circle cx="214.5" cy="799.0" r="3.4"/>
<circle cx="217.7" cy="802.2" r="3.4"/>
<circle cx="249.7" cy="779.8" r="3.4"/>
<circle cx="252.9" cy="784.6" r="3.4"/>
<circle cx="256.1" cy="799.0" r="3.4"/>
<circle cx="262.5" cy="811.8" r="3.4"/>
<circle cx="259.3" cy="807.0" r="3.4"/>
<circle cx="249.7" cy="807.0" r="3.4"/>
<circle cx="246.5" cy="811.8" r="3.4"/>
<circle cx="243.3" cy="802.2" r="3.4"/>
<circle cx="240.1" cy="794.2" r="3.4"/>
<circle cx="243.3" cy="787.8" r="3.4"/>
<circle cx="230.5" cy="810.2" r="3.4"/>
<circle cx="233.7" cy="815.1" r="3.4"/>
<circle cx="194.4" cy="807.0" r="3.4"/>
<circle cx="192.8" cy="815.1" r="3.4"/>
<circle cx="192.0" cy="823.1" r="3.4"/>
<circle cx="191.2" cy="831.1" r="3.4"/>
<circle cx="188.8" cy="839.1" r="3.4"/>
<circle cx="187.2" cy="845.5" r="3.4"/>
<circle cx="188.0" cy="849.5" r="3.4"/>
<circle cx="196.8" cy="850.3" r="3.4"/>
<circle cx="208.1" cy="850.3" r="3.4"/>
<circle cx="220.9" cy="850.3" r="3.4"/>
<circle cx="230.5" cy="850.3" r="3.4"/>
<circle cx="240.1" cy="848.7" r="3.4"/>
<circle cx="249.7" cy="845.5" r="3.4"/>
<circle cx="257.7" cy="842.3" r="3.4"/>
<circle cx="264.1" cy="835.9" r="3.4"/>
<circle cx="266.5" cy="827.9" r="3.4"/>
<circle cx="265.7" cy="821.5" r="3.4"/>
<circle cx="264.1" cy="815.1" r="3.4"/>
<circle cx="208.1" cy="799.0" r="3.4"/>
<circle cx="212.9" cy="807.0" r="3.4"/>
<circle cx="203.3" cy="803.8" r="3.4"/>
<circle cx="198.4" cy="808.6" r="3.4"/>
<circle cx="275.0" cy="780.6" r="3.4"/>
<circle cx="275.0" cy="787.0" r="3.4"/>
<circle cx="288.1" cy="793.9" r="3.4"/>
<circle cx="285.4" cy="799.0" r="3.4"/>
<circle cx="285.4" cy="801.4" r="3.4"/>
<circle cx="299.4" cy="797.7" r="3.4"/>
<circle cx="315.9" cy="795.0" r="3.4"/>
<circle cx="319.5" cy="799.0" r="3.4"/>
<circle cx="319.5" cy="802.2" r="3.4"/>
<circle cx="327.1" cy="787.0" r="3.4"/>
<circle cx="280.1" cy="808.6" r="3.4"/>
<circle cx="299.4" cy="808.6" r="3.4"/>
<circle cx="275.0" cy="818.3" r="3.4"/>
<circle cx="280.1" cy="819.9" r="3.4"/>
<circle cx="277.4" cy="823.1" r="3.4"/>
<circle cx="280.1" cy="826.3" r="3.4"/>
<circle cx="285.4" cy="829.1" r="3.4"/>
<circle cx="290.7" cy="821.1" r="3.4"/>
<circle cx="302.6" cy="826.3" r="3.4"/>
<circle cx="312.2" cy="834.6" r="3.4"/>
<circle cx="277.4" cy="838.8" r="3.4"/>
<circle cx="275.0" cy="845.5" r="3.4"/>
<circle cx="293.7" cy="842.0" r="3.4"/>
<circle cx="375.1" cy="606.6" r="3.4"/>
<circle cx="375.1" cy="609.5" r="3.4"/>
<circle cx="388.4" cy="608.1" r="3.4"/>
<circle cx="388.4" cy="613.2" r="3.4"/>
<circle cx="381.5" cy="614.0" r="3.4"/>
<circle cx="381.5" cy="620.6" r="3.4"/>
<circle cx="381.5" cy="625.7" r="3.4"/>
<circle cx="388.4" cy="628.6" r="3.4"/>
<circle cx="395.3" cy="633.0" r="3.4"/>
<circle cx="403.0" cy="642.3" r="3.4"/>
<circle cx="381.5" cy="639.9" r="3.4"/>
<circle cx="375.1" cy="648.5" r="3.4"/>
<circle cx="381.5" cy="648.8" r="3.4"/>
<circle cx="419.6" cy="605.6" r="3.4"/>
<circle cx="429.2" cy="605.6" r="3.4"/>
<circle cx="439.5" cy="606.2" r="3.4"/>
<circle cx="419.6" cy="615.4" r="3.4"/>
<circle cx="429.2" cy="618.8" r="3.4"/>
<circle cx="450.8" cy="610.3" r="3.4"/>
<circle cx="464.0" cy="602.2" r="3.4"/>
<circle cx="464.0" cy="605.9" r="3.4"/>
<circle cx="464.0" cy="611.5" r="3.4"/>
<circle cx="464.0" cy="626.4" r="3.4"/>
<circle cx="477.9" cy="602.9" r="3.4"/>
<circle cx="375.1" cy="670.5" r="3.4"/>
<circle cx="370.0" cy="673.4" r="3.4"/>
<circle cx="388.4" cy="680.0" r="3.4"/>
<circle cx="388.4" cy="686.9" r="3.4"/>
<circle cx="451.4" cy="610.5" r="3.4"/>
<circle cx="463.7" cy="607.0" r="3.4"/>
<circle cx="478.5" cy="602.2" r="3.4"/>
<circle cx="495.8" cy="602.2" r="3.4"/>
<circle cx="495.8" cy="619.4" r="3.4"/>
<circle cx="515.5" cy="603.2" r="3.4"/>
<circle cx="515.5" cy="609.6" r="3.4"/>
<circle cx="540.1" cy="602.2" r="3.4"/>
<circle cx="540.1" cy="605.6" r="3.4"/>
<circle cx="571.1" cy="602.7" r="3.4"/>
<circle cx="615.5" cy="602.2" r="3.4"/>
<circle cx="691.8" cy="602.2" r="3.4"/>
<circle cx="237.0" cy="665.3" r="3.4"/>
<circle cx="225.3" cy="704.4" r="3.4"/>
<circle cx="228.5" cy="744.4" r="3.4"/>
<circle cx="234.9" cy="744.8" r="3.4"/>
</g>
<defs><filter id="hz" x="-20%" y="-20%" width="140%" height="140%"><feGaussianBlur stdDeviation="4"/></filter>
<g id="haze" filter="url(#hz)">
<ellipse cx="250" cy="140" rx="226" ry="104" fill="#f6f6f6"/>
<polygon points="420,80 468,120 470,220 430,242 400,200" fill="#e6e6e6"/>
<polygon points="300,55 360,52 405,62 380,85 320,85" fill="#e6e6e6"/>
<polygon points="140,66 165,56 220,50 280,48 340,50 395,58 432,85 438,130 405,168 340,188 260,185 220,192 185,188 150,160 140,110" fill="#d2d2d2"/>
<ellipse cx="192" cy="120" rx="28" ry="46" fill="#dadada"/>
<polygon points="33,135 78,82 98,128 82,152" fill="#e2e2e2"/>
</g>
<path id="edg" d="M130 103Q126 93 137 90M83 76Q122 85 131 124M310 117Q266 95 290 52M33 135Q88 112 134 150M310 84Q449 63 438 204M268 115Q308 93 329 134M433 209Q339 208 327 115M36 136Q100 92 143 156M259 52Q234 152 133 169M280 75Q321 89 314 132M272 72Q320 74 315 122M398 145Q211 298 33 135M36 136Q253 -38 387 206M254 62Q283 113 239 153M235 108Q265 88 283 119M390 108Q275 204 153 118M33 135Q90 98 134 150M302 126Q233 119 209 53M261 78Q168 179 37 136M209 53Q312 22 324 129M158 144Q195 69 277 86M111 133Q73 116 99 82M314 131Q302 133 303 122M350 36Q403 83 375 148M253 158Q255 122 288 107M252 87Q363 36 395 153M272 52Q363 34 415 111M121 124Q273 50 396 167M116 143Q200 49 303 122M264 108Q248 79 274 57M36 136Q230 42 388 189M338 148Q285 149 269 97M79 108Q135 -27 259 52M258 91Q180 155 93 104M152 195Q233 2 412 112M212 123Q251 87 290 123M76 88Q172 112 160 210M303 107Q269 150 222 121M137 102Q222 29 303 107M338 121Q330 146 307 134M149 248Q290 82 464 213M272 52Q300 84 262 104M388 99Q302 175 248 73M433 209Q205 333 36 136M395 205Q265 275 146 186M113 103Q95 168 36 136M134 99Q180 52 238 83M131 124Q208 45 284 125M131 146Q213 57 321 110M180 184Q161 105 235 71M349 118Q285 188 234 108M396 186Q183 388 33 135M344 77Q400 52 415 111M154 205Q148 142 202 107M393 185Q220 246 103 106M270 67Q189 168 90 85M79 108Q156 90 179 166M185 189Q187 232 145 244M288 84Q215 175 133 93M141 134Q88 200 33 135M146 186Q208 142 270 186M139 110Q207 29 274 111M274 197Q206 178 202 108M455 185Q296 289 226 113M166 155Q183 44 290 79M422 93Q379 144 315 122M382 104Q336 128 309 84M306 92Q273 114 242 89M427 170Q297 245 229 111M126 97Q232 37 327 115M179 165Q247 135 302 187M162 146Q242 -14 405 59M231 75Q282 67 312 108M387 206Q280 213 280 105M385 110Q324 139 283 85M126 107Q325 22 433 209M345 123Q223 257 121 108M139 155Q123 109 169 92M142 106Q189 76 216 125M315 73Q256 223 121 134M302 187Q296 153 330 149M232 95Q342 64 403 161M260 63Q254 52 265 48M296 83Q243 178 153 118M360 107Q230 253 99 106M216 125Q222 138 207 140M98 100Q203 9 303 107M429 193Q402 204 397 176M336 107Q381 87 393 134M170 156Q95 199 36 136M288 84Q367 79 369 158M309 168Q242 143 253 72M33 135Q43 84 93 99M274 57Q233 143 139 129M169 92Q284 6 348 135M260 114Q252 151 216 138M388 174Q324 163 334 99M309 78Q189 192 33 135M409 99Q337 154 277 86M265 48Q190 207 30 133M287 99Q191 172 84 116M272 72Q288 60 302 75M79 108Q151 153 144 238M36 136Q69 72 128 113M99 83Q152 102 158 159M121 90Q190 39 258 91M149 217Q138 100 256 103M298 129Q211 169 137 110M425 142Q320 196 277 86M296 83Q232 220 105 138M342 154Q325 144 337 130M216 125Q260 47 344 77M404 101Q397 155 344 146M438 204Q230 382 106 139M334 115Q286 144 253 99M173 184Q116 164 113 103M304 112Q352 68 402 108M276 94Q200 193 113 103M391 129Q312 165 243 111M393 134Q290 297 141 175M146 208Q146 87 258 40M288 92Q296 56 332 61M390 156Q231 299 103 128M322 123Q304 137 284 125M367 135Q223 228 121 90M166 155Q174 160 173 170M276 94Q247 81 259 52M226 113Q285 78 338 121M316 123Q352 69 408 101M134 99Q237 36 307 134M455 185Q255 246 116 90M166 155Q173 95 232 80M261 78Q307 109 278 156M121 134Q239 13 382 104M36 136Q214 16 380 153M267 62Q268 83 248 92M238 83Q203 149 130 133M164 211Q139 119 234 114M427 188Q365 171 375 107M36 136Q88 71 169 92M261 123Q241 127 234 108M101 135Q176 20 295 90M302 134Q160 202 67 76M268 115Q360 50 425 142M399 107Q298 217 155 173M220 151Q205 116 234 91M159 144Q94 192 36 136M405 112Q320 181 258 91M283 119Q329 53 400 93M407 179Q284 216 242 95M387 206Q186 299 36 136M229 112Q306 77 362 140M36 136Q75 110 113 137M180 184Q300 75 411 194M33 135Q37 93 79 94M120 107Q157 11 255 44M374 171Q259 204 224 89M263 119Q287 99 302 126M261 78Q306 59 327 104M411 192Q211 338 121 108M334 115Q206 222 98 95M84 116Q69 153 33 135M134 99Q103 174 33 135M149 229Q161 89 297 123M396 186Q254 306 136 163M405 113Q373 134 349 104M97 107Q176 119 169 199M387 188Q287 335 160 210M357 74Q386 75 382 104M250 78Q321 126 270 194M234 108Q385 94 457 228M132 117Q137 133 121 134M279 116Q204 151 146 93M405 59Q320 185 170 156M360 134Q331 137 319 112M312 108Q196 244 79 108M224 155Q215 210 160 210M103 128Q74 172 36 136M268 33Q327 64 297 123M36 136Q64 77 121 108M251 67Q331 51 379 116M390 129Q215 339 33 135M33 135Q208 -37 367 150M146 208Q62 171 116 97M139 110Q144 136 117 139M234 108Q177 147 121 108M36 136Q115 67 171 156M272 113Q289 87 313 107M425 145Q286 207 260 57M393 142Q401 167 374 171M261 78Q295 69 307 103M104 119Q139 116 134 150M78 102Q144 -18 265 48M396 186Q279 248 243 121M202 108Q289 47 367 120M407 117Q231 244 90 80M89 85Q170 75 170 156M290 123Q219 181 153 118M344 77Q294 252 136 163M329 134Q340 99 372 118M369 145Q258 188 235 71M103 106Q252 43 375 148M393 193Q346 174 345 123M232 155Q224 105 272 88M112 125Q182 67 260 114M97 107Q172 71 238 122M262 98Q201 140 142 96M170 156Q163 75 244 62M238 154Q205 87 278 70M134 99Q187 62 229 111M155 186Q235 105 309 190M349 118Q246 198 169 92M130 103Q201 29 288 84M36 136Q230 45 388 189M149 248Q104 122 234 91M259 52Q271 95 229 111M93 72Q229 -15 336 107M63 69Q178 4 283 85M166 155Q181 83 253 99M121 90Q101 160 33 135M149 248Q101 191 158 144M231 75Q273 42 315 73M111 93Q166 21 237 76M429 225Q394 213 407 179M137 90Q103 108 78 79M261 123Q272 98 299 95M399 93Q396 136 353 131M272 88Q239 168 155 148M274 100Q355 99 388 174M116 97Q192 19 286 75M117 139Q136 117 155 139M101 134Q157 42 253 93M109 100Q123 105 125 121M375 155Q289 156 272 72M238 122Q211 181 155 148M412 90Q277 275 120 107M117 128Q185 50 263 119M153 118Q100 163 36 136M267 92Q339 58 358 135M111 93Q171 6 260 63M310 84Q233 158 139 110M102 86Q227 27 307 140M141 106Q188 171 144 238M270 77Q247 116 203 108M224 155Q207 131 229 112M395 205Q269 209 288 84M328 122Q186 248 33 135M302 126Q253 103 272 52M125 103Q171 11 253 72M36 136Q201 -85 396 110M380 108Q395 83 422 93M343 116Q213 254 103 98M314 131Q291 123 293 99M321 110Q229 213 113 137M202 108Q242 34 310 84M121 124Q86 109 93 72M146 208Q109 141 169 92M33 135Q68 72 128 113M399 160Q264 266 141 148M428 221Q349 184 395 110M234 91Q229 174 146 183M276 94Q286 65 315 73M240 72Q304 66 333 122M253 108Q294 140 270 186M292 129Q260 178 217 138M256 103Q302 123 288 172M121 134Q90 135 93 104M127 149Q192 8 337 62M429 187Q212 293 89 85M272 62Q326 52 327 107M308 190Q255 152 303 107M33 135Q55 83 111 93M285 107Q265 186 185 175M387 104Q300 203 174 169M135 141Q180 65 262 98M83 76Q162 23 203 109M142 106Q215 60 283 113M260 114Q250 193 171 203M387 206Q254 252 162 146M307 134Q239 150 232 80M99 82Q259 17 390 129M413 103Q258 266 99 106M385 110Q305 222 215 117M166 155Q164 49 270 46M146 137Q262 57 367 150M142 96Q180 46 228 86M290 79Q338 144 273 192M134 99Q265 52 302 187M36 136Q180 -15 343 116M386 125Q304 203 246 105M332 129Q183 253 78 91M298 71Q308 93 288 107M115 118Q185 23 264 110M309 128Q258 172 226 113M393 142Q249 241 153 95M84 116Q283 -0 387 206M270 77Q317 60 341 104M128 113Q175 60 237 94M467 218Q283 335 138 171M388 174Q425 162 436 200M182 169Q196 84 283 85M251 67Q349 61 332 157M203 108Q281 66 332 139M97 107Q90 94 102 86M315 113Q260 203 166 155M467 186Q233 309 33 135M383 121Q379 112 387 104M260 85Q253 202 145 244M36 136Q54 72 113 103M145 150Q124 121 146 93M142 96Q183 19 265 48M340 111Q403 139 387 206M36 136Q248 -45 392 193M226 102Q178 150 134 99M243 111Q334 93 379 174M160 167Q281 100 388 189M116 97Q183 31 260 85M415 110Q317 272 160 167M33 135Q67 77 126 107M283 119Q244 100 267 62M36 136Q190 34 350 127M84 116Q134 12 231 75M76 109Q200 25 309 128M155 186Q245 34 412 90M226 102Q207 157 150 156M33 135Q208 -77 384 134M311 188Q239 253 162 195M303 107Q212 176 126 102M286 75Q305 85 303 107M231 75Q311 -16 405 59M332 61Q280 234 124 143M315 73Q224 143 121 91M374 143Q232 256 116 118M388 189Q212 308 116 118M332 139Q280 156 262 104M203 108Q191 168 135 141M226 113Q219 197 137 178M379 161Q307 190 275 120M375 155Q216 251 109 100M306 121Q245 209 159 144M254 108Q231 130 205 111M154 118Q322 25 387 206M265 83Q371 64 374 171M137 90Q225 136 160 210M259 170Q197 136 231 75M296 83Q288 83 286 75M295 119Q229 189 136 163M388 121Q307 169 270 83M254 108Q383 81 453 192M403 127Q318 195 238 122M260 192Q197 164 226 102M261 71Q307 83 284 125M253 93Q270 65 301 75M432 65Q373 146 275 120M132 118Q116 112 126 97M393 185Q344 212 309 168M303 112Q188 221 76 108M438 204Q272 238 240 72M258 91Q303 89 324 129M155 138Q245 88 332 144M36 136Q83 70 139 129M425 145Q257 270 142 96M141 175Q193 109 253 168M166 165Q253 86 356 143M235 71Q445 10 457 228M410 113Q315 257 171 162M126 97Q187 32 253 93M423 101Q248 213 90 80M227 119Q163 149 116 97M146 221Q135 180 170 156M393 117Q384 110 387 99M81 94Q109 76 134 99M262 98Q346 82 379 161M136 163Q98 147 97 107M133 106Q196 26 262 104M170 187Q163 86 260 57M337 137Q184 307 33 135M338 121Q193 277 33 135M169 92Q144 139 102 106M299 95Q232 202 126 135M122 140Q175 37 290 52M322 123Q251 128 246 57M253 99Q224 172 150 147M150 156Q248 -4 396 110M141 106Q281 53 390 156M243 121Q353 88 428 175M314 188Q212 212 202 108M430 191Q306 306 174 199M390 129Q339 124 348 73M128 113Q93 169 36 136M309 84Q255 161 162 146M265 83Q325 67 332 129M228 86Q292 63 309 128M156 98Q197 71 215 117M290 123Q207 178 153 94M244 100Q214 177 133 169M222 121Q258 78 308 104M433 209Q208 345 89 111M232 80Q331 23 413 103M243 121Q352 45 403 167M33 135Q167 -42 309 128M89 111Q110 85 142 96M229 112Q320 37 412 112M144 229Q134 106 256 126M99 106Q81 156 33 135M429 225Q308 229 268 115M265 83Q325 96 332 157M261 71Q350 106 299 188M287 130Q280 103 307 103M262 35Q201 161 76 97M256 126Q237 90 270 67M105 118Q208 16 315 113M126 97Q140 25 208 54M350 127Q272 169 205 111M345 139Q303 154 275 120M389 107Q307 146 272 62M175 191Q183 101 272 113M432 65Q294 252 121 96M153 118Q243 59 334 115M111 93Q212 8 283 119M116 97Q210 42 303 100M126 120Q250 8 358 135M155 139Q214 67 304 86M425 184Q231 316 130 103M169 92Q162 99 153 95M142 96Q179 39 244 62M126 120Q254 -73 409 99M282 97Q357 20 419 108M185 189Q188 98 272 62M280 38Q236 154 126 94M36 136Q45 86 93 72M253 108Q242 117 229 111M66 76Q181 29 274 111M397 185Q315 213 298 129M253 72Q258 168 166 197M138 127Q329 -23 455 185M76 88Q183 -33 274 100M203 109Q172 179 106 139M383 172Q284 270 166 197M33 135Q234 2 387 188M160 210Q128 98 245 83M138 171Q146 49 267 62M90 85Q172 103 170 187M337 137Q269 167 232 102M137 90Q100 147 33 135M372 83Q226 257 33 135M112 125Q190 30 285 107M240 72Q252 52 272 62M215 117Q169 159 111 133M284 125Q329 104 362 140M295 119Q207 196 133 106M397 185Q289 184 310 78M308 190Q238 240 170 187M428 175Q338 223 298 129M319 112Q241 242 125 144M102 86Q246 -15 350 127M287 130Q250 236 148 190M116 108Q260 -47 393 118M370 139Q254 269 130 146M146 221Q130 96 253 72M141 147Q265 21 394 143M429 187Q374 171 393 117M238 99Q182 152 133 93M277 86Q208 177 126 97M136 163Q274 55 388 189M342 134Q242 235 128 150M280 38Q309 109 258 167M298 129Q218 214 153 118M234 114Q184 157 139 110M403 127Q262 249 113 137M311 188Q321 88 420 104M260 63Q247 106 202 107M93 99Q78 138 36 136M106 133Q113 125 123 129M80 115Q68 152 33 135M309 190Q304 159 332 144M227 119Q266 84 303 122M144 149Q152 140 163 146M418 190Q246 260 141 106M337 137Q184 260 33 135M270 46Q296 63 288 92M282 91Q356 75 367 150M396 186Q196 309 36 136M316 112Q248 192 150 156M135 141Q343 4 464 221M315 112Q211 166 116 97M290 135Q266 144 250 125M170 156Q270 90 369 158M272 113Q195 187 134 99M155 138Q191 61 277 65M430 212Q228 301 121 108M232 95Q293 30 350 99M348 135Q280 169 253 99M81 94Q102 80 121 96M134 114Q197 71 250 125M175 187Q149 108 232 102M137 178Q187 54 298 129M36 136Q194 56 311 188M144 238Q112 144 203 108M153 118Q102 189 33 135M306 121Q312 109 323 117M302 75Q324 101 295 119M157 216Q111 187 132 137M272 88Q223 173 127 149M283 113Q277 87 303 81M419 115Q270 214 122 114M391 188Q338 184 337 130M111 87Q198 41 272 106M93 73Q117 73 116 97M390 129Q303 155 266 73M295 90Q313 89 312 108M287 99Q237 194 146 137M107 132Q153 58 232 95M121 124Q176 42 272 62M243 111Q334 59 375 155M79 94Q171 31 270 83M117 139Q140 127 158 144M382 104Q252 214 101 135M145 199Q88 182 93 123M137 102Q181 38 245 83M36 136Q204 -58 388 121M251 55Q305 70 302 126M287 130Q198 187 112 125M138 151Q217 20 324 129M308 190Q236 192 222 121M149 217Q191 131 287 130M250 78Q196 170 113 103M314 131Q179 245 78 102M286 75Q241 175 134 151M147 94Q284 -27 422 93M95 131Q94 105 120 107M150 156Q187 202 145 244M159 144Q202 4 337 62M295 90Q203 238 80 115M375 139Q241 203 134 99M192 173Q202 122 253 108M411 192Q338 188 343 116M298 71Q248 187 132 137M268 121Q312 97 332 144M270 46Q322 80 302 139M93 123Q240 -73 407 107M166 155Q93 199 36 136M309 128Q236 200 155 138M112 125Q246 -23 356 143M402 108Q306 300 134 173M309 116Q265 111 270 67M294 74Q364 40 402 108M235 146Q241 114 274 111M259 52Q244 162 139 129M383 173Q292 177 304 86M171 156Q164 183 137 178M293 99Q184 233 76 97M279 187Q210 270 146 183M90 80Q195 25 287 99M121 91Q95 147 33 135M267 92Q344 60 391 129M253 72Q377 48 401 172M239 102Q175 160 116 97M170 187Q283 109 396 186M101 135Q185 67 283 113M93 72Q293 0 397 185M103 128Q204 55 315 113M399 158Q253 270 130 133M308 190Q261 152 309 116M130 105Q181 18 266 73M156 98Q106 156 33 135M171 203Q156 144 217 138M396 110Q319 183 246 105M455 185Q269 277 123 129M233 123Q242 118 250 125M350 36Q241 242 33 135M240 72Q207 150 137 102M79 108Q223 -103 392 89M274 57Q341 88 296 147M375 129Q239 225 110 122M374 169Q321 170 318 117M226 113Q302 111 299 187M394 143Q282 224 232 95M442 81Q350 234 215 117M302 187Q201 258 138 151M136 163Q219 104 279 187M33 135Q32 91 76 88M323 117Q262 103 258 40M394 143Q225 230 83 103M203 109Q202 149 166 165M36 136Q63 59 134 99M384 165Q283 254 162 195M240 72Q337 18 376 121M146 208Q235 37 398 140M425 215Q284 212 243 78M282 97Q330 70 345 123M166 197Q291 104 428 175M428 175Q213 350 36 136M390 156Q283 316 155 174M253 108Q264 104 268 115M303 122Q334 90 375 106M304 86Q282 93 278 70M155 186Q307 43 453 192M151 135Q177 81 229 111M215 117Q216 79 253 72M357 128Q272 271 138 171M36 136Q32 75 93 72M384 165Q232 307 123 129M272 106Q169 195 90 85M120 102Q182 145 157 216M203 109Q176 162 119 144M121 108Q251 13 380 109M279 116Q189 196 126 94M235 71Q293 70 316 123M131 124Q87 174 33 135M306 92Q276 119 239 102M78 79Q184 105 160 210M411 194Q277 346 148 190M401 108Q289 295 127 149M63 69Q254 -61 393 123M144 229Q193 164 270 186M224 155Q185 144 202 107M202 107Q165 186 98 130M36 136Q161 -49 315 113M235 71Q193 146 110 122M132 117Q299 3 419 166M153 118Q274 -31 407 107M350 127Q275 216 171 162M327 104Q229 205 122 114M309 128Q174 273 33 135M264 110Q220 186 136 163M138 127Q174 130 166 165M250 125Q282 102 316 123M407 179Q347 199 337 137M372 161Q277 198 215 117M433 209Q207 333 121 90M116 97Q214 3 337 62M319 130Q356 63 415 111M393 193Q232 308 132 137M272 113Q292 109 302 126M238 83Q200 172 121 118M33 135Q53 69 116 97M297 123Q265 216 173 184M455 185Q310 319 146 208M83 82Q259 38 379 174M254 175Q213 234 146 208M393 185Q403 162 427 170M303 107Q263 136 237 94M455 185Q219 330 90 85M418 189Q222 284 87 112M88 121Q137 46 202 107M388 115Q335 140 293 99M280 196Q221 151 267 92M95 131Q135 96 158 144M375 91Q309 192 215 117M162 146Q92 203 33 135M467 186Q387 187 399 107M134 99Q325 36 453 192M403 167Q291 213 253 99M268 115Q287 93 313 108M315 113Q399 101 397 185M126 109Q246 50 348 135M401 108Q367 155 314 131M240 72Q196 147 115 112M132 137Q84 189 36 136M296 83Q297 157 224 155M203 108Q164 147 130 103M121 90Q253 10 327 145M357 74Q245 170 121 91M267 101Q281 69 316 72M37 136Q57 94 102 106M226 80Q185 180 93 123M279 116Q350 81 398 145M428 175Q331 186 305 92M256 126Q273 108 295 119M149 175Q150 159 166 155M234 91Q285 86 302 134M153 102Q329 -7 428 175M215 117Q167 182 101 135M106 90Q269 -11 403 127M103 106Q113 96 126 102M155 138Q303 74 418 189M274 126Q193 175 142 96M279 116Q279 96 299 95M290 79Q293 117 254 117M270 186Q224 254 144 238M332 144Q245 210 158 144M391 188Q193 291 33 135M267 92Q200 185 116 108M111 87Q188 24 246 105M298 71Q291 143 222 122M276 94Q216 186 141 106M297 123Q348 46 423 101M403 127Q396 215 311 188M153 118Q177 55 238 83M298 71Q280 81 272 62M460 226Q222 288 77 90M315 113Q228 196 153 102M127 94Q158 121 125 144M115 112Q155 117 166 155M102 106Q118 99 128 113M76 88Q294 -17 387 206M111 93Q174 75 215 124M407 179Q226 259 99 106M78 102Q119 80 135 124M375 106Q248 232 115 112M90 85Q131 82 153 118M286 75Q257 175 157 151M295 119Q268 111 265 83M234 114Q298 67 350 127M155 138Q109 132 102 86M425 145Q338 198 283 113M256 103Q231 204 133 169M163 146Q170 178 137 178M132 137Q268 72 379 174M66 76Q250 -94 395 110M392 169Q216 276 99 106M153 102Q297 18 390 157M43 62Q244 -72 356 143M110 122Q163 33 254 82M240 116Q325 66 393 137M171 203Q325 82 464 221M142 213Q107 92 232 80M296 83Q277 187 175 164M228 86Q325 7 399 107M398 120Q299 235 155 186M262 35Q343 55 332 139M145 244Q63 177 142 106M137 90Q280 -6 413 103M142 106Q186 126 159 166M229 112Q246 181 175 187M128 113Q189 40 254 108M33 135Q72 72 142 96M66 76Q117 71 110 122M309 116Q264 112 270 67M270 194Q232 146 283 113M111 87Q147 108 122 140M393 185Q274 255 172 162M272 62Q259 69 251 55M268 121Q213 208 131 146M260 85Q186 184 106 90M36 136Q170 10 316 123M309 78Q388 103 397 185M327 115Q241 182 153 118M149 184Q57 187 76 97M93 123Q155 47 229 111M419 115Q241 363 36 136M334 115Q301 260 166 197M153 95Q315 58 418 189M175 164Q203 136 238 154M309 116Q265 238 146 186M216 125Q277 125 279 186M173 170Q196 62 296 108M132 137Q155 143 159 166M146 93Q195 38 261 71M370 139Q329 153 297 123M127 149Q87 157 84 116M36 136Q74 101 121 124M393 185Q341 195 327 145M103 106Q242 13 377 112M147 101Q249 50 332 129M153 118Q139 108 146 93M345 128Q265 218 148 190M397 168Q198 355 36 136M164 183Q178 134 226 146M224 89Q248 71 272 88M455 185Q383 162 424 98M309 170Q204 221 116 143M94 114Q163 117 155 186M274 111Q229 194 143 156M33 135Q191 1 348 135M304 86Q274 139 216 125M116 97Q203 119 171 203M316 112Q355 71 396 110M270 77Q248 116 203 109M131 124Q85 161 33 135M141 147Q160 54 254 62M36 136Q112 68 158 159M330 86Q240 204 134 99M175 187Q135 180 137 139M103 106Q262 -56 419 108M229 111Q205 69 251 55M166 155Q126 141 134 99M343 116Q277 104 258 40M298 71Q308 95 285 107M126 97Q183 40 242 95M429 225Q230 275 120 102M115 118Q97 122 92 105M306 121Q287 127 285 107M155 139Q250 86 332 157M226 102Q229 77 253 72M322 123Q291 139 280 105M151 135Q171 159 155 186M310 190Q180 221 108 109M332 139Q181 254 33 135M287 130Q256 116 254 82M143 101Q202 148 160 210M36 136Q195 26 302 187M428 221Q365 196 375 129M164 183Q131 172 132 137M278 70Q388 63 401 172M329 134Q193 234 98 95M290 52Q234 149 134 99M157 151Q198 60 283 113M121 118Q161 115 166 155M309 168Q250 151 267 92M110 128Q160 159 149 217M382 104Q235 277 93 99M134 99Q265 -4 367 127M145 142Q174 83 238 99M374 143Q272 167 267 62M115 118Q218 14 309 128M313 107Q219 192 134 99M261 123Q266 83 305 92M399 158Q359 145 375 107M262 104Q251 83 272 72M164 211Q198 117 297 102M263 119Q168 162 90 93M302 134Q240 146 245 83M36 136Q200 -78 370 131M113 137Q300 -4 430 191M393 185Q329 193 319 130M302 134Q269 132 256 103M288 107Q178 195 76 97M166 155Q94 189 36 136M393 137Q323 195 283 113M270 77Q347 25 400 102M344 146Q257 184 202 108M144 229Q233 54 392 169M36 136Q53 65 121 91M227 119Q294 142 271 209M102 86Q191 -31 283 85M86 99Q117 79 139 110M284 125Q193 204 120 107M83 76Q246 35 313 189M315 122Q385 95 397 168M142 96Q292 27 401 151M286 75Q302 100 284 125M436 200Q281 253 248 92M33 135Q96 79 155 139M455 185Q214 431 36 136M411 192Q290 189 243 78M391 188Q331 177 334 115M166 166Q172 112 226 113M136 163Q166 61 272 72M332 129Q185 271 33 135M309 128Q175 282 33 135M314 132Q262 162 215 124M90 80Q83 129 33 135M132 118Q266 16 407 107M302 187Q270 153 309 128M407 179Q265 285 158 144M105 138Q67 179 33 135M387 104Q231 235 78 102M76 108Q66 136 36 136M425 145Q395 156 386 125M288 107Q276 84 298 71M132 118Q123 198 43 186M253 99Q185 166 121 96M121 124Q83 162 36 136M279 116Q299 105 315 122M126 109Q209 -39 332 77M134 99Q232 14 310 117M333 122Q278 224 164 211M277 65Q225 160 125 121M232 102Q250 167 184 182M304 112Q295 70 337 62M116 97Q161 -17 265 48M262 35Q403 45 425 184M403 127Q254 250 134 99M36 136Q188 -33 350 127M228 86Q295 53 334 115M337 47Q345 124 268 121M137 139Q293 7 387 188M309 116Q260 213 155 186M344 77Q335 121 291 113M391 149Q231 242 116 97M216 125Q259 55 319 112M436 200Q336 245 307 139M375 129Q236 256 115 112M357 147Q191 241 33 135M282 91Q228 181 127 149M259 52Q287 177 164 211M261 123Q332 18 442 81M397 185Q380 144 411 112M208 54Q268 128 185 175M428 221Q224 275 121 90M254 108Q264 133 240 144M240 116Q260 136 238 154M362 140Q274 193 242 95M367 150Q198 305 79 108M309 78Q340 101 323 136M250 125Q235 88 260 57M134 99Q170 12 262 35M116 97Q203 11 268 115M36 136Q202 14 309 190M311 188Q256 149 303 100M226 102Q294 103 288 172M383 121Q325 153 287 99M369 145Q309 149 295 90M173 184Q109 167 125 103M279 116Q185 177 111 94M272 62Q189 146 76 109M388 174Q320 180 319 112M166 155Q89 211 33 135M375 148Q198 307 33 135M120 107Q168 62 226 95M90 80Q242 -19 332 139M312 108Q200 228 82 113M272 72Q180 189 83 76M147 101Q207 50 243 121M121 118Q248 26 367 127M121 124Q149 31 232 80M244 62Q244 144 162 146M294 74Q355 81 356 143M298 71Q208 208 76 109M375 129Q382 150 363 160M226 102Q149 161 76 97M33 135Q255 -17 429 187M166 155Q188 187 154 205M298 129Q373 119 393 193M175 176Q140 184 141 148M232 80Q270 55 309 78M436 200Q235 303 130 103M250 78Q318 114 308 190M231 75Q275 64 303 100M153 118Q297 -8 401 151M272 113Q267 99 282 97M33 135Q219 24 396 150M133 93Q178 47 228 86M408 101Q352 149 306 92M272 62Q215 124 134 99M135 141Q82 170 33 135M166 197Q117 185 126 135M392 89Q344 140 279 116M130 124Q87 176 33 135M217 138Q233 86 287 99M142 96Q163 127 139 155M134 99Q187 61 242 95M128 113Q122 136 98 130M133 106Q168 62 202 107M94 92Q215 39 302 139M424 98Q331 167 229 112M171 162Q271 60 408 101M229 111Q208 179 137 178M166 155Q90 207 33 135M110 128Q155 128 155 174M126 94Q121 107 109 100M374 143Q200 288 33 135M215 124Q290 66 375 107M303 100Q362 83 364 145M139 110Q184 78 229 111M391 150Q256 243 132 137M392 89Q256 226 98 114M294 74Q319 82 312 108M427 188Q236 332 125 121M250 125Q227 192 166 155M83 76Q112 95 93 123M319 112Q191 306 33 135M253 158Q217 201 164 183M126 109Q96 172 36 136M76 87Q283 8 428 175M467 186Q300 267 260 85M89 111Q166 24 243 111M254 117Q396 41 453 192M134 99Q172 76 203 108M33 135Q48 92 93 99M155 186Q136 43 280 38M316 123Q266 160 215 124M267 101Q194 160 127 94M111 87Q198 92 175 176M396 186Q193 327 36 136M262 104Q297 104 302 139M275 79Q367 66 383 157M321 110Q403 80 419 166M251 55Q187 174 76 97M78 102Q71 136 36 136M395 100Q267 221 133 106M306 121Q178 289 33 135M158 144Q236 37 323 136M205 111Q201 163 149 175M147 94Q108 158 36 136M160 167Q174 100 242 89M130 133Q188 29 298 71M383 173Q397 179 392 193M278 203Q217 144 251 67M370 131Q368 143 356 143M294 74Q296 126 248 147M268 121Q252 82 294 74M116 118Q83 169 33 135M139 129Q233 51 333 122M36 136Q107 105 166 155M92 105Q157 7 250 78M46 51Q279 -37 393 185M356 143Q193 300 36 136M232 80Q320 100 313 189M277 65Q215 154 110 127M173 184Q142 84 244 62M33 135Q222 -95 398 145M101 135Q251 34 383 159M33 135Q168 -4 327 107M166 155Q160 68 246 57M275 79Q292 80 299 95M34 135Q102 -35 260 57M33 135Q238 -24 387 188M147 94Q211 67 250 125M84 116Q181 9 304 86M123 129Q170 154 154 205M265 83Q357 43 393 137M37 136Q200 -19 382 113M467 185Q414 205 383 157M127 149Q169 145 170 187M453 192Q349 206 313 108M126 97Q198 2 294 74M141 148Q247 -9 394 110M327 104Q275 110 254 62M315 73Q210 151 99 83M403 127Q435 165 417 211M130 146Q249 13 369 145M134 99Q275 -63 413 103M160 210Q215 92 337 137M146 183Q166 86 260 114M137 139Q83 187 33 135M128 150Q109 123 139 110M314 132Q269 164 233 123M248 111Q165 181 98 95M302 105Q224 152 153 94M260 63Q279 168 173 184M345 123Q274 177 226 102M216 125Q199 174 150 156M36 136Q50 105 82 113M433 209Q208 378 99 119M257 147Q209 140 226 95M132 137Q243 16 372 118M243 78Q333 2 389 107M82 113Q232 -73 385 110M303 112Q221 204 123 129M270 77Q255 114 216 114M425 215Q194 363 81 114M130 124Q219 17 327 104M455 185Q308 332 164 183M388 189Q394 166 419 166M63 69Q77 63 83 76M33 135Q107 97 166 155M134 173Q223 40 344 146M375 107Q279 146 255 44M367 150Q371 132 390 129M171 156Q219 89 298 115M170 187Q158 97 243 67M383 172Q287 258 171 203M262 104Q163 171 76 88M277 65Q315 66 308 104M394 110Q314 209 222 121M357 74Q241 224 89 111M134 99Q163 111 146 137M308 190Q160 224 76 97M280 105Q223 182 141 134M430 191Q206 345 33 135M341 104Q419 116 411 194M94 118Q72 158 33 135M36 136Q50 95 93 104M33 135Q54 71 116 97M288 92Q244 190 151 135M417 211Q202 298 36 136M327 145Q348 74 412 112M242 89Q167 150 79 108M288 107Q351 44 419 102M174 199Q98 168 111 87M63 69Q168 4 234 108M256 103Q223 191 146 137M309 168Q378 122 427 188M337 137Q323 149 314 132M99 82Q182 53 238 122M153 95Q243 28 315 113M305 92Q413 86 455 185M308 190Q198 147 255 44M367 150Q270 205 226 102M385 164Q283 190 226 102M126 107Q282 4 390 156M377 112Q328 150 299 95M66 76Q170 -10 229 111M136 163Q172 68 256 126M382 104Q273 201 153 118M97 107Q202 -2 298 115M142 96Q199 146 145 199M277 65Q276 78 265 83M229 111Q149 154 90 85M265 48Q302 80 268 115M467 218Q235 297 76 109M345 123Q344 107 360 107M164 211Q299 68 453 192M397 147Q299 291 146 208M279 142Q237 226 142 222M290 79Q291 155 216 138M226 102Q281 66 316 123M258 40Q281 57 270 83M155 138Q147 129 153 118M33 135Q79 103 126 135M103 106Q80 95 93 73M152 195Q176 134 238 154M116 97Q285 7 379 174M232 95Q162 156 102 86M419 115Q331 284 166 189M141 175Q214 83 327 115M372 161Q229 204 127 94M233 123Q320 37 403 127M245 83Q326 67 370 139M238 83Q266 81 280 105M33 135Q87 99 127 149M33 135Q188 75 309 190M258 91Q208 149 153 95M407 107Q386 143 345 139M97 107Q135 45 208 54M238 122Q215 185 149 175M391 188Q339 178 357 128M242 89Q214 185 124 143M156 98Q300 41 383 172M395 205Q255 332 149 175M269 97Q289 141 254 175M338 121Q230 271 107 132M90 80Q174 27 215 117M291 113Q232 171 155 139M131 124Q138 108 153 118M179 166Q174 113 226 102M302 134Q261 240 154 205M398 175Q282 268 146 208M324 129Q261 121 260 57M253 158Q226 113 272 88M274 126Q314 -6 432 65M395 110Q255 239 133 94M222 122Q241 50 310 78M263 119Q236 193 166 155M102 86Q263 -46 393 117M411 113Q349 198 274 126M290 123Q352 92 391 149M208 54Q282 45 315 112M297 123Q380 104 391 188M401 172Q199 352 36 136M215 124Q132 156 76 87M253 108Q318 91 332 157M33 135Q234 33 407 179M316 123Q403 82 428 175M391 149Q311 181 264 108M134 150Q78 192 36 136M250 78Q199 159 126 97M171 156Q145 42 262 35M345 128Q210 254 99 106M149 175Q204 39 350 36M133 106Q267 -22 379 126M132 137Q201 50 296 108M429 187Q368 164 402 108M290 79Q236 171 138 127M295 119Q319 102 332 129M254 108Q191 201 116 118M99 82Q136 87 131 124M345 128Q288 184 238 122M262 98Q259 117 240 116M425 142Q321 323 153 199M237 94Q287 77 315 122M122 114Q167 23 268 33M266 56Q293 188 160 210M467 218Q404 170 422 93M390 108Q367 138 333 122M137 178Q203 72 314 132M362 140Q322 151 321 110M128 113Q92 174 33 135M408 101Q338 215 243 121M153 118Q136 129 122 114M116 97Q92 149 36 136M238 122Q178 154 142 96M133 169Q294 59 417 211M293 99Q291 128 263 119M93 119Q296 28 436 200M226 95Q163 153 89 111M89 111Q71 147 33 135M33 135Q67 80 126 107M390 108Q235 191 90 93M173 170Q107 179 94 114M283 119Q347 113 374 171M36 136Q78 88 121 134M250 162Q207 210 155 174M93 72Q302 -24 388 189M93 73Q82 122 33 135M99 119Q74 159 33 135M260 85Q260 75 270 77M424 98Q341 156 270 83M237 94Q361 77 425 184M171 203Q81 185 79 94M464 221Q358 204 338 99M153 94Q117 187 33 135M33 135Q277 36 464 221M153 118Q232 15 327 104M282 91Q275 151 215 144M224 89Q185 144 130 105M304 86Q222 194 137 90M391 188Q208 279 97 107M304 112Q212 204 101 135M33 135Q270 -24 430 212M362 140Q323 146 303 112M415 110Q281 221 125 144M375 155Q292 185 243 111M313 108Q238 190 153 118M370 164Q262 248 144 180M146 186Q102 159 132 117M382 121Q320 159 282 97M163 150Q255 101 310 190M332 144Q300 141 295 109M274 111Q259 95 275 79M385 164Q269 266 158 159M263 119Q196 166 137 110M232 95Q317 19 382 113M293 99Q317 104 319 130M306 92Q363 60 413 103M248 73Q214 187 105 138M187 166Q186 75 278 70M268 121Q171 188 111 87M46 51Q200 74 146 221M237 94Q265 86 268 115M166 189Q241 24 398 116M243 67Q307 75 329 134M233 123Q278 95 307 139M313 189Q233 251 179 166M238 83Q301 53 349 104M315 73Q290 82 272 62M311 188Q142 319 33 135M250 78Q237 171 146 193M254 82Q320 2 405 59M115 112Q82 150 33 135M95 131Q280 -33 391 188M90 85Q225 6 350 99M238 83Q209 171 130 124M173 170Q252 111 309 190M33 135Q267 23 429 225M153 199Q155 105 248 111M332 157Q229 234 146 137M344 146Q265 190 216 114M329 134Q181 231 33 135M134 99Q122 126 93 123M33 135Q182 -53 349 118M380 109Q416 145 390 188M222 121Q280 91 332 129M372 83Q278 195 153 118M123 129Q234 39 345 128M155 186Q180 80 287 99M99 123Q158 33 248 92M302 126Q202 207 115 112M418 190Q292 293 166 189M224 89Q172 159 109 100M269 97Q212 169 131 124M375 107Q300 173 237 94M121 124Q83 165 36 136M81 114Q155 33 237 107M173 184Q227 117 279 187M298 115Q323 115 332 139M105 114Q131 115 135 141M324 110Q193 296 33 135M327 115Q413 138 429 225M33 135Q231 40 396 186M115 112Q259 36 313 189M153 94Q281 -34 432 65M334 115Q394 129 388 189M403 167Q208 264 33 135M231 75Q300 214 149 248M178 196Q74 183 90 80M240 144Q208 100 251 67M270 83Q341 44 394 105M382 104Q238 217 89 111M372 161Q223 257 130 105M369 145Q201 273 102 86M166 155Q231 83 324 110M76 87Q190 3 268 121M298 129Q255 152 215 124M330 149Q339 144 342 154M369 111Q243 278 110 118M155 174Q69 163 99 82M125 103Q282 38 383 173M312 108Q334 108 337 130M156 152Q87 198 33 135M279 129Q192 168 133 94M33 135Q73 89 126 120M95 131Q269 -69 425 145M409 100Q348 185 280 105M36 136Q193 -64 380 109M338 121Q411 122 393 193M253 99Q314 64 337 130M169 92Q279 3 392 89M262 98Q207 180 137 110M427 188Q301 231 243 111M126 109Q201 43 272 113M116 97Q272 -42 384 134M141 147Q318 24 438 204M130 133Q306 75 433 209M142 96Q112 127 78 102M330 149Q175 285 33 135M428 221Q286 370 149 217M397 185Q321 185 303 112M242 89Q259 207 144 238M235 108Q264 96 283 119M171 162Q271 38 372 161M164 211Q267 100 390 188M323 117Q194 268 76 108M155 138Q181 99 222 122M155 138Q102 139 111 87M255 44Q327 69 290 135M36 136Q173 17 307 139M309 170Q161 242 94 92M275 182Q223 223 162 195M84 116Q173 -8 288 92M268 121Q243 204 157 216M262 98Q345 39 384 133M142 213Q269 99 411 194M392 89Q242 342 33 135M36 136Q54 72 113 103M345 123Q309 109 310 70M109 100Q164 28 226 95M171 162Q125 146 143 101M191 169Q207 117 261 123M36 136Q201 19 308 190M407 107Q384 179 309 190M299 95Q321 87 324 110M293 99Q203 203 94 118M121 90Q346 -64 455 185M270 46Q298 83 256 103M36 136Q66 69 134 99M97 88Q280 -41 370 164M277 86Q209 201 95 131M363 153Q303 325 144 238M132 137Q102 121 102 86M179 165Q321 38 432 193M119 144Q156 136 179 165M150 156Q92 177 84 116M235 71Q339 34 356 143M113 103Q204 29 297 102M111 87Q183 132 146 208M372 118Q420 139 397 185M392 193Q248 277 155 139M33 135Q48 71 111 87M302 134Q200 223 103 128M360 122Q308 150 282 97M116 108Q229 -6 350 99M121 90Q211 20 285 107M349 118Q293 146 246 105M93 72Q247 -20 375 107M314 131Q253 144 245 83M298 115Q274 118 276 94M226 80Q317 5 388 99M408 101Q353 162 279 129M132 117Q180 154 145 203M238 122Q151 178 102 86M342 154Q387 120 419 166M429 187Q304 317 160 210M307 103Q281 128 247 116M455 185Q307 321 179 166M309 168Q158 263 34 135M310 117Q235 185 146 137M179 165Q137 95 208 54M224 89Q231 70 251 67M36 136Q225 -35 374 171M309 170Q157 281 36 136M36 136Q63 106 95 131M216 125Q202 176 149 184M412 112Q365 155 334 99M310 117Q292 109 295 90M259 52Q295 44 309 78M369 111Q212 258 36 136M179 165Q159 102 224 89M425 215Q378 167 415 110M121 90Q202 131 160 210M209 53Q205 106 153 118M243 111Q186 165 117 128M123 129Q316 12 453 192M309 84Q192 225 33 135M415 111Q329 168 246 105M144 180Q145 63 258 91M384 109Q267 208 132 137M36 136Q226 39 397 168M78 102Q159 49 235 108M226 102Q272 88 302 126M105 114Q78 114 76 87M133 93Q226 30 304 112M78 79Q210 -35 344 77M158 159Q108 150 103 98M404 96Q489 103 467 185M319 130Q391 125 429 187M330 149Q442 95 467 218M243 121Q231 124 229 112M142 167Q210 93 280 166M121 108Q253 -37 399 93M384 133Q301 173 244 100M391 129Q189 218 46 51M36 136Q45 86 92 105M274 126Q256 151 226 146M380 153Q293 196 274 100M268 115Q306 78 338 121M137 90Q189 49 242 89M202 107Q276 117 299 188M313 108Q291 105 296 83M254 108Q188 194 121 108M457 228Q354 233 353 131M302 105Q246 220 141 148M160 210Q183 103 293 99M404 101Q309 146 231 75M245 83Q288 222 144 238M126 135Q203 7 330 86M303 122Q214 201 125 121M83 76Q227 -38 316 123M293 99Q203 188 121 90M315 73Q347 94 322 123M162 195Q263 86 383 173M250 78Q213 168 119 144M33 135Q232 33 396 186M33 135Q83 92 138 127M121 90Q316 -28 396 186M125 144Q231 7 353 131M155 138Q252 63 332 157M130 133Q245 17 380 108M404 96Q459 134 429 193M36 136Q77 80 131 124M367 127Q356 152 332 139M166 155Q89 214 33 135M119 144Q72 180 33 135M260 209Q189 232 137 178M393 193Q351 168 372 124M399 93Q466 137 411 194M106 139Q144 84 205 111M329 134Q268 120 260 57M332 61Q319 111 268 115M310 117Q180 247 33 135M322 71Q287 160 205 111M147 94Q197 60 234 108M102 86Q185 112 166 197M404 96Q305 269 155 139M411 113Q362 177 298 129M409 99Q446 151 393 185M279 129Q240 108 266 73M396 129Q248 219 98 130M125 103Q237 80 309 168M396 186Q280 195 254 82M296 83Q339 93 348 135M126 107Q166 143 146 193M250 125Q224 183 166 155M419 115Q323 248 170 187M171 203Q96 183 102 106M149 149Q204 43 307 103M146 137Q198 67 274 111M379 126Q414 132 403 167M63 69Q125 67 123 129M134 114Q138 96 156 98M295 90Q266 138 216 114M309 78Q290 196 171 203M387 188Q298 200 268 115M159 144Q179 153 174 175M232 155Q231 223 164 211M353 131Q232 233 128 113M170 156Q124 168 95 131M121 124Q193 67 268 121M134 99Q281 -30 369 145M149 184Q179 98 268 121M392 164Q297 341 146 208M79 94Q210 5 309 128M420 113Q324 188 229 112M304 86Q231 169 126 135M33 135Q108 86 166 155M256 103Q179 188 97 107M151 135Q183 64 253 99M344 146Q305 160 284 125M98 114Q159 3 261 78M36 136Q200 31 362 140M137 119Q200 81 261 123M226 102Q109 170 46 51M261 71Q207 168 103 128M151 149Q154 44 259 52M93 123Q150 29 242 89M398 175Q314 199 275 120M254 82Q263 64 280 75M288 84Q258 96 243 67M171 203Q104 178 99 106M222 122Q332 49 425 142M407 107Q425 148 388 174M291 113Q327 106 348 135M382 104Q252 202 120 107M248 73Q290 66 295 109M254 82Q262 169 175 176M174 199Q292 82 418 190M309 78Q353 131 314 188M294 74Q330 77 319 112M301 75Q299 122 254 108M319 130Q263 127 253 72M203 108Q206 87 226 80M238 122Q240 109 253 108M33 135Q25 77 83 82M103 128Q165 38 272 62M175 187Q207 73 319 112M173 170Q308 24 426 184M90 93Q186 42 263 119M292 129Q326 122 342 154M139 155Q167 85 233 123M222 109Q301 -39 432 65M179 166Q328 52 453 192M121 124Q146 124 145 150M402 108Q278 245 124 143M255 44Q283 168 164 211M250 78Q370 88 395 205M412 90Q358 116 332 61M338 121Q275 216 162 195M348 135Q230 235 134 114M137 139Q253 8 404 96M276 94Q292 86 303 100M116 97Q164 -18 270 46M283 85Q337 126 313 189M290 79Q262 111 232 80M299 95Q412 68 426 184M145 142Q169 142 166 165M455 185Q387 167 409 99M396 167Q269 264 156 151M234 108Q307 28 377 112M299 188Q235 173 237 107M295 90Q304 98 296 108M128 150Q71 202 33 135M224 89Q194 124 156 98M166 197Q190 101 288 107M263 119Q188 184 142 96M296 83Q358 99 332 157M390 188Q281 274 166 197M119 144Q163 91 229 111M166 155Q166 67 254 62M298 129Q273 113 283 85M121 124Q146 129 150 156M376 121Q343 136 327 104M121 124Q277 54 397 175M293 99Q265 152 212 123M145 199Q203 98 314 131M243 121Q146 196 86 88M415 111Q288 246 153 118M116 118Q183 120 175 187M175 187Q186 97 275 79M401 151Q313 210 274 111M251 67Q245 75 235 71M362 140Q328 167 309 128M272 88Q298 220 164 211M97 88Q94 147 36 136M229 111Q270 71 312 108M234 108Q184 192 107 132M309 116Q345 39 412 90M315 112Q273 150 234 108M295 119Q331 76 367 120M290 123Q254 123 252 87M63 69Q248 5 369 158M272 88Q304 100 302 134M144 238Q122 108 253 99M295 143Q247 208 166 197M254 117Q274 144 252 170M202 107Q158 157 98 130M169 92Q158 136 116 118M205 111Q227 86 256 103M33 135Q67 39 153 94M298 71Q239 147 156 98M390 108Q352 170 297 123M383 172Q275 190 254 82M36 136Q195 26 302 187M36 136Q271 -49 436 200M420 113Q337 178 288 84M105 114Q235 27 338 143M93 99Q133 109 134 150M36 136Q142 -69 332 61M348 73Q212 215 33 135M250 78Q282 90 263 119M164 183Q105 158 137 102M364 145Q225 197 116 97M397 185Q199 330 99 106M102 106Q116 122 101 135M365 106Q300 159 260 85M288 84Q219 145 142 96M138 151Q196 77 283 113M158 144Q201 94 261 123M253 93Q286 92 284 125M288 107Q317 95 333 122M226 102Q229 41 290 52M83 82Q334 -56 425 215M254 82Q328 133 269 201M388 99Q317 181 237 107M208 54Q154 119 76 87M274 100Q230 212 130 146M344 77Q307 213 173 170M33 135Q78 82 137 119M106 139Q68 182 33 135M144 180Q127 153 155 139M166 155Q91 147 66 76M427 188Q233 329 103 128M419 115Q326 209 234 114M145 244Q160 93 309 116M455 185Q290 244 226 80M283 113Q254 146 216 125M162 195Q296 74 432 193M398 145Q362 186 327 145M270 83Q368 64 399 158M406 93Q309 166 202 107M146 183Q162 108 238 99M386 125Q324 165 299 95M367 135Q243 203 141 106M285 107Q270 187 191 169M363 160Q189 290 36 136M348 135Q288 158 269 97M234 108Q149 163 95 78M392 193Q183 348 33 135M464 213Q218 354 36 136M121 118Q248 -37 382 113M348 73Q312 222 160 210M290 123Q330 53 395 99M375 155Q358 168 342 154M149 229Q112 106 237 76M153 118Q271 -9 367 135M105 118Q249 35 310 190M338 143Q261 181 226 102M110 127Q175 29 254 117M401 151Q387 144 390 129M166 155Q163 74 243 67M147 101Q179 48 232 80M375 106Q378 127 357 128M272 72Q355 81 379 161M155 138Q262 -23 398 116M268 121Q273 155 239 153M76 87Q161 9 266 56M149 248Q135 129 254 117M126 120Q148 117 155 138M166 155Q124 153 115 112M83 76Q200 -20 268 115M137 178Q88 162 115 118M33 135Q30 69 95 78M397 185Q285 326 162 195M309 84Q263 191 155 147M90 93Q275 -15 392 164M155 147Q257 -19 407 107M145 203Q175 123 261 123M36 136Q238 -6 391 188M240 116Q248 202 162 195M264 108Q255 107 253 99M315 112Q355 101 356 143M111 93Q96 107 79 94M111 87Q96 105 78 91M295 90Q353 50 400 102M151 149Q147 64 231 75M297 102Q289 214 178 196M270 83Q287 59 309 78M162 146Q152 54 243 67M99 83Q184 30 216 125M276 94Q208 188 134 99M138 151Q113 127 134 99M99 106Q137 -28 258 40M126 120Q125 140 105 138M234 91Q307 114 279 186M330 149Q271 177 247 116M83 82Q230 12 332 139M134 99Q204 154 146 221M329 134Q231 269 119 144M400 93Q442 146 390 188M156 98Q243 25 315 112M146 221Q130 104 247 116M254 175Q207 209 172 162M345 123Q351 168 311 188M36 136Q79 79 137 119M274 57Q319 58 338 99M295 119Q303 100 321 110M125 144Q252 -44 403 127M310 70Q280 89 266 56M233 123Q229 27 324 46M316 112Q187 270 33 135M79 108Q156 -0 272 62M79 108Q156 50 216 125M166 155Q150 88 209 53M238 99Q324 24 409 100M212 123Q131 177 79 94M121 90Q193 30 278 70M309 116Q292 106 306 92M391 150Q294 174 280 75M272 113Q299 94 316 123M338 121Q347 132 338 143M166 197Q169 56 305 92M420 104Q295 223 141 148M267 62Q250 155 156 151M133 169Q135 141 162 146M372 124Q295 164 275 79M314 132Q389 107 396 186M400 93Q346 120 332 61M323 117Q227 216 139 110M159 166Q214 63 318 117M425 145Q265 271 132 117M155 186Q137 163 163 150M169 199Q158 72 286 75M234 108Q256 199 164 211M144 238Q215 32 419 108M36 136Q209 -54 404 112M253 72Q350 -3 401 108M344 77Q263 229 132 118M370 164Q279 150 274 57M272 72Q361 65 391 149M254 117Q325 95 375 148M315 112Q252 223 143 156M237 94Q267 66 304 86M316 123Q275 116 280 75M258 40Q217 138 121 90M324 46Q288 90 235 71M311 188Q194 233 113 137M212 123Q260 79 316 112M250 78Q238 84 235 71M142 96Q178 18 262 35M158 159Q268 2 442 81M274 197Q182 114 280 38M344 146Q199 201 99 82M127 94Q225 23 312 108M171 203Q305 83 433 209M186 167Q186 83 267 62M209 53Q322 79 279 186M299 95Q278 119 253 99M205 111Q211 85 238 83M137 119Q167 84 205 111M307 134Q170 246 33 135M105 114Q92 112 93 99M316 72Q280 126 215 117M272 72Q273 177 170 156M295 119Q206 174 134 99M141 134Q177 47 270 67M166 189Q111 158 134 99M153 94Q133 130 93 123M137 178Q121 166 134 150M263 119Q270 89 299 95M407 179Q297 213 274 100M277 65Q228 163 142 96M390 129Q433 141 425 184M121 124Q167 121 160 167M83 82Q237 29 342 154M170 156Q172 66 261 78M99 131Q243 6 408 101M134 99Q186 136 162 195M297 102Q276 110 272 88M391 188Q355 168 367 127M338 121Q311 121 299 95M250 78Q346 -5 407 107M375 148Q277 180 261 78M83 103Q192 7 303 99M80 115Q156 3 277 65M33 135Q165 -41 318 117M279 129Q324 98 356 143M146 221Q276 64 417 211M238 99Q324 17 408 101M396 186Q212 302 126 102M159 166Q97 161 93 99M227 146Q201 216 137 178M258 40Q282 72 264 108M276 94Q248 96 235 71M102 106Q199 43 295 109M162 146Q269 7 422 93M130 105Q167 83 203 108M245 83Q335 42 413 103M464 221Q283 337 137 178M179 166Q161 62 262 35M267 62Q288 58 290 79M387 99Q225 260 33 135M116 97Q266 8 413 103M360 107Q218 261 94 92M404 101Q331 159 253 108M287 130Q165 209 90 85M63 69Q189 -2 256 126M244 62Q256 68 254 82M141 106Q134 111 126 107M432 193Q301 253 254 117M254 117Q162 201 83 103M298 115Q348 91 375 139M298 129Q220 196 128 150M455 185Q222 350 33 135M261 78Q288 189 174 199M153 118Q122 137 102 106M137 110Q242 -9 372 83M36 136Q102 98 156 152M79 94Q161 -19 252 87M309 190Q216 186 237 94M393 185Q182 333 90 93M270 186Q224 217 180 184M348 73Q344 259 164 211M380 109Q326 150 295 90M330 86Q339 111 319 130M98 95Q90 150 36 136M126 107Q189 143 164 211M253 93Q323 124 279 187M290 52Q278 183 151 149M149 248Q97 82 270 67M338 99Q258 227 154 118M337 130Q210 227 116 97M282 91Q375 59 390 156M391 188Q219 298 139 110M234 91Q251 80 267 92M215 117Q197 156 155 147M33 135Q94 96 144 149M123 129Q84 188 36 136M142 96Q105 160 36 136M313 108Q240 220 120 163M234 108Q249 82 274 100M244 100Q208 176 139 129M134 150Q150 23 272 62M267 62Q348 43 396 110M43 186Q47 78 153 95M298 129Q236 117 251 55M248 73Q367 71 387 188M331 112Q357 90 382 113M253 72Q268 64 275 79M153 95Q287 -29 413 103M141 175Q294 80 417 211M314 132Q248 201 159 166M268 121Q277 104 296 108M367 120Q378 134 364 145M121 114Q185 21 262 104M115 118Q156 75 203 109M155 186Q149 102 232 102M383 157Q197 351 36 136M279 116Q190 183 113 103M237 107Q180 173 110 122M137 139Q117 145 112 125M216 114Q381 61 464 213M209 53Q289 33 315 112M376 121Q291 166 250 78M342 154Q240 162 254 62M412 112Q322 236 216 125M160 210Q208 115 315 122M135 124Q157 43 232 80M99 119Q205 44 315 113M254 175Q212 217 164 183M382 121Q272 257 146 137M375 91Q332 142 288 92M33 135Q199 -26 389 107M36 136Q265 10 433 209M132 137Q183 63 270 83M146 183Q308 37 467 185M311 188Q202 221 130 133M240 116Q281 74 334 99M237 94Q353 59 388 174M141 106Q202 44 267 101M364 145Q370 125 391 129M274 57Q315 67 321 110M216 125Q231 80 276 94M382 121Q297 185 215 117M36 136Q207 -90 405 112M286 75Q203 182 92 105M90 80Q172 81 171 162M215 117Q162 158 116 108M419 102Q361 206 274 126M169 199Q211 145 260 192M243 78Q210 170 126 120M432 65Q338 157 224 89M280 135Q255 213 174 199M149 149Q335 8 428 221M460 226Q199 405 33 135M128 150Q311 27 425 215M302 187Q222 241 160 167M153 95Q197 -5 290 52M427 188Q216 345 113 103M268 115Q248 142 222 122M256 126Q163 197 80 115M149 175Q124 163 132 137M274 111Q283 44 350 36M259 170Q253 124 296 108M146 208Q237 105 367 150M344 146Q244 271 141 148M159 144Q197 47 298 71M83 82Q228 13 349 118M162 195Q169 102 261 123M33 135Q252 -25 425 184M36 136Q204 -100 398 116M254 62Q255 51 265 48M315 73Q338 96 322 123M126 102Q189 102 175 164M270 67Q338 100 309 170M369 145Q239 263 130 124M307 139Q321 66 392 89M388 174Q266 203 261 78M155 148Q252 -9 406 93M170 156Q232 60 344 77M254 62Q256 47 270 46M121 91Q307 45 430 191M99 106Q171 32 266 73M302 75Q300 109 267 101M146 193Q154 131 216 138M137 102Q192 8 275 79M131 124Q170 86 215 117M412 90Q366 198 274 126M357 128Q223 212 121 90M33 135Q46 92 84 116M275 182Q225 246 173 184M226 102Q298 116 314 188M433 209Q335 223 309 128M163 146Q92 211 33 135M427 170Q236 268 111 93M307 134Q170 227 33 135M324 110Q298 119 282 97M162 195Q222 121 280 196M407 179Q319 203 315 113M81 114Q165 20 275 79M227 119Q205 88 240 72M121 91Q126 174 43 186M171 156Q149 76 231 75M306 92Q291 117 264 108M166 155Q174 93 235 108M226 113Q227 84 253 72M233 123Q222 110 232 95M36 136Q69 90 121 114M106 90Q225 33 314 131M226 113Q311 10 401 108M256 103Q266 117 250 125M94 92Q120 94 125 121M367 135Q340 154 319 130M330 149Q286 157 263 119M308 104Q239 181 141 147M98 130Q143 113 166 155M159 144Q93 206 36 136M169 92Q138 108 111 87M332 144Q276 178 243 121M166 197Q149 67 280 75M407 179Q310 196 272 106M36 136Q182 -25 329 134M390 129Q252 223 133 106M274 111Q200 148 134 99M356 143Q218 213 98 114M113 103Q150 114 138 151M102 106Q243 6 344 146M392 193Q194 290 36 136M254 108Q193 175 133 106M396 186Q199 271 33 135M293 99Q346 53 382 113M145 199Q144 135 207 140M116 97Q175 76 215 124M102 106Q264 12 383 157M175 164Q89 172 102 86M383 121Q393 96 415 111M120 102Q272 -22 415 111M337 62Q223 202 79 94M331 112Q283 131 275 79M428 175Q416 199 393 185M103 98Q303 -38 427 170M442 81Q352 146 253 93M308 104Q263 125 238 83M222 121Q300 58 385 110M209 53Q192 120 126 102M208 54Q211 96 169 92M121 91Q125 119 98 130M261 123Q307 88 350 127M142 96Q109 168 36 136M245 83Q322 54 353 131M350 99Q297 156 235 108M370 131Q318 168 275 120M139 129Q229 15 319 130M355 123Q220 199 111 87M121 90Q242 25 332 129M262 104Q262 152 214 144M308 104Q351 58 390 108M90 80Q110 93 98 114M243 121Q330 60 380 153M147 94Q203 30 270 83M424 98Q339 156 265 83M33 135Q232 37 396 186M247 116Q215 167 157 151M369 112Q243 195 120 107M126 97Q268 -41 409 100M436 200Q240 299 121 114M277 65Q275 96 244 100M111 87Q160 95 159 144M215 117Q195 172 137 178M309 116Q261 209 170 156M360 134Q335 174 302 139M158 144Q231 72 314 132M314 131Q297 123 302 105M99 106Q163 43 237 94M146 221Q159 130 250 125M372 161Q243 241 153 118M125 144Q70 134 78 79M287 130Q178 227 84 116M424 98Q267 204 109 100M93 73Q153 -55 262 35M433 209Q336 202 312 108M334 99Q393 106 385 164M111 93Q193 1 283 85M464 213Q232 329 84 116M390 188Q189 322 36 136M274 126Q326 28 415 94M231 75Q267 55 296 83M316 112Q424 85 453 192M134 99Q204 35 264 108M332 139Q213 213 120 107M375 155Q197 298 36 136M283 85Q323 83 333 122M270 77Q186 158 86 99M171 162Q219 92 303 107M428 175Q355 193 349 118M235 71Q378 41 396 186M256 126Q204 166 146 137M268 121Q274 85 310 78M36 136Q9 86 63 69M283 85Q385 64 397 168M182 169Q184 113 240 116M33 135Q180 7 338 121M137 119Q171 22 270 46M407 179Q291 209 215 117M288 172Q215 126 266 56M148 190Q74 172 98 100M375 155Q225 304 110 127M390 188Q194 276 33 135M226 80Q273 37 306 92M407 179Q415 198 395 205M121 90Q248 79 313 189M304 112Q265 139 238 99M349 118Q222 216 121 90M166 155Q222 76 313 108M288 107Q262 196 175 164M126 102Q269 29 396 129M274 165Q236 229 164 211M116 97Q171 21 259 52M232 95Q326 1 413 103M102 86Q133 102 132 137M387 99Q352 147 297 123M389 107Q220 233 33 135M212 123Q234 79 282 91M33 135Q57 49 137 90M467 186Q311 263 253 99M324 110Q305 134 283 113M99 82Q167 101 142 167M90 80Q123 82 121 114M116 97Q98 161 36 136M308 190Q231 172 267 101M274 57Q207 160 97 107M33 135Q188 -79 375 107M353 131Q195 258 33 135M145 244Q252 134 396 186M338 143Q269 217 173 184M216 114Q237 107 250 125M358 135Q195 246 33 135M99 131Q158 87 222 121M155 138Q160 158 142 167M115 112Q125 104 134 114M253 72Q326 48 369 112M404 101Q320 159 266 73M413 103Q346 135 302 75M92 105Q254 -66 419 102M109 100Q187 63 254 117M36 136Q174 9 307 140M33 135Q83 78 156 98M76 97Q151 118 162 195M174 169Q225 82 314 131M166 155Q277 51 419 108M360 106Q292 246 166 155M260 63Q310 62 319 112M322 123Q255 230 156 152M332 77Q335 109 302 105M130 133Q153 129 157 151M311 188Q206 248 134 151M113 103Q86 152 33 135M94 131Q159 48 240 116M235 108Q288 137 280 196M270 67Q365 66 400 155M106 133Q183 50 288 92M390 129Q398 134 394 143M36 136Q44 66 111 87M79 94Q81 139 36 136M404 96Q325 207 229 111M337 137Q241 129 262 35M463 217Q286 261 245 83M357 74Q303 141 234 91M90 80Q87 131 36 136M36 136Q88 101 128 150M356 143Q274 170 260 85M175 176Q123 146 153 94M307 139Q168 246 33 135M131 124Q248 31 309 168M93 119Q148 112 171 162M430 212Q206 337 137 90M36 136Q93 105 145 142M283 119Q238 113 243 67M393 185Q184 309 99 82M106 133Q197 0 303 122M134 114Q173 144 137 178M141 147Q171 153 164 183M372 124Q238 260 134 99M405 59Q257 251 93 73M125 121Q130 116 137 119M126 120Q204 58 283 119M264 108Q202 153 141 106M383 173Q376 136 405 112M272 72Q256 161 166 155M272 62Q345 63 348 135M432 65Q337 119 268 33M90 80Q239 -23 323 136M279 129Q281 85 322 71M89 111Q220 -4 323 136M267 92Q273 143 224 155M279 116Q296 107 302 126M232 102Q178 141 133 93M403 127Q265 277 130 124M332 61Q299 128 232 95M272 106Q266 79 294 74M270 77Q318 84 304 131M80 115Q184 6 295 109M110 118Q147 115 163 150M121 114Q203 -5 303 100M272 88Q356 80 401 151M280 75Q187 167 90 80M126 107Q171 29 259 52M247 116Q348 92 407 179M78 79Q184 79 173 184M226 146Q224 103 267 101M261 78Q253 165 166 155M307 140Q257 143 242 95M268 115Q373 68 427 170M186 167Q175 193 149 184M332 129Q225 203 126 120M174 175Q320 41 455 185M98 114Q122 87 156 98M258 40Q269 86 229 111M33 135Q216 1 393 142M261 123Q242 171 191 169M409 99Q312 168 251 67M277 65Q331 119 275 170M293 99Q314 101 306 121M295 90Q189 203 90 85M256 103Q248 120 234 108M103 128Q168 62 238 122M130 124Q169 149 148 190M263 119Q334 40 411 113M234 91Q328 30 413 103M321 110Q191 254 36 136M171 162Q272 71 393 134M309 116Q213 174 125 103M261 123Q174 188 116 97M318 117Q204 195 94 114M261 71Q297 53 306 92M272 113Q335 58 401 108M33 135Q158 -27 312 108M264 108Q178 161 106 90M147 101Q178 58 226 80M254 175Q222 152 250 125M146 137Q107 133 121 96M270 83Q219 160 153 95M274 111Q287 92 308 104M130 146Q90 154 81 114M377 112Q343 156 297 123M116 118Q244 -55 384 109M433 209Q221 303 116 97M345 128Q421 126 436 200M115 118Q169 41 239 102M261 71Q227 85 209 53M267 101Q254 121 234 108M268 115Q201 163 139 110M254 62Q395 55 411 194M107 132Q180 24 268 121M455 185Q211 329 78 79M146 137Q264 -29 410 113M264 110Q204 198 123 129M345 123Q332 115 334 99M418 190Q193 391 33 135M397 185Q241 275 154 118M384 165Q273 315 144 180M121 124Q115 109 130 105M250 125Q190 191 121 134M224 89Q236 95 234 108M269 97Q328 72 353 131M102 86Q223 21 323 117M36 136Q66 81 127 94M393 142Q284 201 245 83M112 125Q117 100 142 96M276 94Q186 185 80 115M420 113Q330 194 233 123M175 191Q153 80 258 40M130 133Q97 137 79 108M134 151Q313 -7 455 185M432 65Q361 180 253 99M405 59Q290 241 125 103M319 130Q264 158 239 102M226 80Q229 70 240 72M33 135Q44 94 82 113M94 131Q175 39 290 79M257 147Q226 194 170 187M342 134Q390 139 391 188M126 120Q299 13 393 193M279 129Q336 36 415 111M94 131Q257 25 383 172M150 147Q189 60 263 119M179 166Q297 94 407 179M407 179Q324 216 298 129M363 160Q387 165 391 188M333 122Q300 87 324 46M102 106Q188 25 282 97M122 114Q264 -54 419 102M160 210Q201 136 270 186M203 108Q153 146 121 90M299 188Q243 280 144 238M155 139Q185 86 244 100M330 86Q213 284 36 136M36 136Q215 12 393 137M222 122Q220 70 272 72M143 101Q252 20 372 83M174 199Q242 24 403 120M379 116Q206 278 78 79M310 190Q262 128 316 72M425 142Q288 294 155 139M268 121Q334 78 367 150M412 112Q273 255 126 120M248 73Q354 67 374 171M103 98Q116 99 115 112M274 100Q263 106 253 99M316 123Q278 162 247 116M269 97Q276 193 180 184M100 118Q73 154 33 135M100 118Q137 111 141 148M245 83Q314 65 329 134M130 103Q298 35 407 179M429 225Q265 311 166 155M126 120Q178 26 270 83M374 171Q305 134 357 74M174 199Q83 176 83 82M116 97Q123 107 116 118M268 121Q225 122 232 80M348 73Q304 141 242 89M374 169Q253 276 155 148M415 111Q237 292 36 136M226 95Q201 143 153 118M174 169Q292 85 397 185M142 106Q213 26 293 99M81 114Q98 109 110 122M369 112Q285 178 228 86M265 83Q282 77 295 90M428 175Q384 181 370 139M237 76Q233 106 202 107M34 135Q76 94 123 129M76 97Q203 -9 310 117M394 143Q215 285 78 102M329 134Q291 116 309 78M403 161Q254 280 139 129M298 71Q368 79 344 146M266 56Q324 91 279 142M387 99Q287 275 137 139M266 56Q276 80 253 93M285 107Q301 108 297 123M358 135Q203 268 76 109M36 136Q265 8 433 209M412 112Q312 158 251 67M43 186Q23 114 97 107M415 94Q369 121 330 86M316 72Q299 206 171 162M237 107Q219 70 260 63M309 128Q434 99 460 226M398 116Q333 211 256 126M123 129Q164 14 265 83M334 99Q343 114 328 122M134 99Q181 64 234 91M309 170Q222 245 162 146M296 147Q266 135 280 105M407 107Q254 267 121 90M121 96Q163 131 137 178M232 155Q223 233 146 221M258 40Q218 140 112 125M229 111Q351 44 419 166M407 107Q232 261 36 136M298 71Q339 117 309 170M117 139Q130 122 146 137M279 116Q247 210 155 174M153 94Q187 56 232 80M76 97Q169 121 142 213M269 97Q254 80 267 62M315 112Q272 154 229 111M274 111Q266 109 267 101M243 78Q309 64 314 132M94 118Q124 104 132 137M429 225Q234 274 134 99M235 71Q251 76 248 92M166 155Q156 45 266 56M152 195Q229 131 309 190M92 105Q183 121 160 210M137 119Q246 64 338 143M283 113Q267 136 243 121M80 98Q144 22 226 80M134 99Q211 20 310 70M78 79Q194 29 274 126M119 144Q230 65 345 139M388 174Q357 132 400 102M83 103Q258 -7 379 161M270 46Q265 58 251 55M303 107Q315 115 309 128M388 169Q223 245 116 97M159 166Q285 73 391 188M263 119Q313 63 369 112M203 108Q245 67 288 107M332 144Q246 148 244 62M33 135Q48 69 111 94M338 143Q343 108 376 121M215 124Q326 95 391 188M390 156Q286 194 237 94M403 167Q247 301 153 118M267 92Q375 90 425 184M280 105Q256 179 179 166M261 78Q289 52 322 71M215 124Q214 56 280 38M375 139Q251 160 262 35M99 106Q186 16 282 97M348 73Q311 116 270 77M397 147Q293 167 237 76M134 99Q183 130 170 187M274 126Q190 176 121 108M36 136Q61 89 113 103M133 93Q203 7 283 85M390 129Q299 233 215 124M237 107Q193 96 208 54M234 108Q233 165 180 184M315 112Q224 209 125 121M280 135Q226 200 144 180M309 168Q194 216 147 101M246 155Q222 124 242 89M411 194Q261 269 205 111M137 102Q263 -36 387 104M87 112Q91 87 116 90M212 123Q235 215 144 238M252 87Q196 152 125 103M404 112Q308 170 243 78M125 144Q97 114 133 93M383 172Q366 170 363 153M155 147Q160 104 203 109M310 70Q279 180 164 183M216 125Q265 86 315 122M383 121Q282 181 240 72M226 102Q331 58 390 156M301 75Q244 199 130 124M133 94Q219 46 295 109M207 140Q176 61 258 40M233 123Q332 82 388 174M395 99Q320 153 278 70M115 112Q212 -7 313 108M111 93Q202 -1 324 46M110 122Q134 115 146 137M81 94Q94 103 84 116M111 94Q199 36 288 92M375 107Q450 110 455 185M126 94Q215 24 275 120M415 111Q430 159 390 188M133 106Q261 33 362 140M248 73Q280 56 310 78M302 139Q346 82 403 127M116 97Q214 36 307 103M33 135Q244 -53 391 188M76 87Q233 17 332 157M169 92Q270 32 345 123M36 136Q155 -36 303 112M272 88Q252 109 226 95M93 72Q188 31 262 104M375 107Q319 159 282 91M166 155Q139 173 125 144M98 130Q150 17 248 92M297 123Q221 155 169 92M270 83Q255 78 254 62M313 107Q257 124 243 67M130 133Q300 32 395 205M33 135Q65 54 137 102M264 110Q287 86 312 108M93 123Q71 157 36 136M115 118Q165 72 226 102M227 119Q282 89 323 136M332 61Q344 88 324 110M314 131Q336 47 412 90M243 78Q240 115 203 109M254 82Q343 65 363 153M429 187Q323 205 303 100M290 123Q346 104 363 160M430 212Q209 323 103 98M314 132Q374 92 425 142M274 197Q214 218 173 170M120 163Q188 60 303 107M298 129Q383 112 411 194M137 110Q168 67 203 108M372 161Q278 163 248 73M121 91Q276 25 309 190M283 119Q241 191 166 155M141 134Q113 120 121 90M78 102Q123 25 208 54M234 114Q229 176 170 156M164 183Q174 166 192 173M323 136Q349 75 404 112M229 112Q224 194 146 221M411 194Q188 392 36 136M126 109Q129 101 137 102M270 46Q337 32 334 99M267 92Q175 173 90 85M36 136Q35 81 90 85M36 136Q71 72 126 120M270 77Q349 69 338 148M127 94Q102 165 33 135M174 199Q171 155 214 144M455 185Q364 239 332 139M427 188Q253 234 134 99M89 85Q92 145 33 135M420 104Q488 149 433 209M303 107Q266 134 226 113M79 94Q201 25 303 122M260 85Q287 125 253 158M115 112Q330 7 429 225M144 238Q65 189 80 98M139 110Q178 156 146 208M367 127Q285 193 232 102M425 142Q408 168 379 161M36 136Q46 98 82 113M107 132Q71 158 33 135M409 99Q243 323 36 136M394 143Q246 302 125 121M453 192Q257 261 116 108M33 135Q202 12 314 188M255 44Q347 24 389 107M315 73Q281 113 234 91M224 89Q221 148 163 146M33 135Q50 73 111 93M425 184Q392 188 396 155M387 190Q294 160 344 77M425 142Q319 183 298 71M387 206Q164 398 33 135M303 112Q395 101 392 193M36 136Q209 -37 384 134M395 205Q178 357 33 135M388 174Q230 296 106 139M33 135Q73 90 128 113M134 173Q164 47 280 105M164 211Q119 181 159 144M33 135Q239 -28 388 189M251 67Q347 34 410 113M139 110Q101 175 36 136M166 189Q145 75 260 57M396 150Q284 270 166 155M227 146Q227 97 276 94M83 76Q216 -36 295 119M403 127Q271 239 139 129M94 118Q186 9 299 95M262 104Q239 101 243 78M327 107Q281 155 234 108M418 189Q191 407 33 135M372 83Q296 253 145 142M102 86Q95 145 36 136M272 88Q249 115 228 86M36 136Q195 -86 382 113M232 95Q247 77 270 83M111 87Q279 14 384 165M237 94Q327 27 375 129M157 151Q304 -9 427 171M297 123Q370 134 387 206M115 118Q84 175 33 135M262 104Q260 65 298 71M467 186Q398 190 367 127M103 106Q193 -18 316 72M332 129Q225 210 125 121M388 169Q232 244 142 96M83 82Q178 -22 280 75M205 111Q321 47 375 167M388 169Q218 281 108 109M146 186Q203 111 280 166M126 107Q185 81 233 123M453 192Q296 277 166 155M396 129Q321 173 295 90M349 118Q365 116 370 131M43 62Q131 45 141 134M310 190Q210 156 260 63M428 221Q181 411 36 136M86 88Q208 -14 284 125M119 144Q244 25 394 110M391 149Q341 175 309 128M137 102Q274 -8 393 123M36 136Q203 -59 412 90M76 109Q112 44 169 92M134 99Q208 21 302 75M171 162Q166 91 235 71M33 135Q43 64 111 87M309 128Q268 263 148 190M99 82Q206 12 306 92M288 172Q224 130 260 63M144 149Q157 53 250 78M272 72Q274 86 260 85M397 147Q336 171 295 119M106 90Q121 103 114 122M238 99Q272 91 274 126M102 106Q158 35 244 62M160 210Q225 127 309 190M383 159Q200 269 33 135M78 102Q151 -32 272 62M207 140Q194 92 243 78M87 112Q189 2 295 109M286 75Q351 41 380 108" fill="none" stroke="#b0b0b0" stroke-opacity="0.09" stroke-width="0.8"/></defs>
<use href="#haze"/><use href="#edg"/>
<g stroke="#111" stroke-width="1.5">
<circle cx="303.6" cy="86.5" r="4.55" fill="#bf0f0b"/>
<circle cx="309.2" cy="115.7" r="4.55" fill="#bf0f0b"/>
<circle cx="244.6" cy="83.3" r="4.55" fill="#bf0f0b"/>
<circle cx="270.2" cy="82.7" r="4.55" fill="#bf0f0b"/>
<circle cx="273.7" cy="125.6" r="4.55" fill="#bf0f0b"/>
<circle cx="267.6" cy="121.1" r="4.55" fill="#bf0f0b"/>
<circle cx="232.0" cy="102.0" r="4.55" fill="#bf0f0b"/>
<circle cx="250.3" cy="124.6" r="4.55" fill="#bf0f0b"/>
<circle cx="232.4" cy="80.1" r="4.55" fill="#bf0f0b"/>
<circle cx="260.6" cy="123.1" r="4.55" fill="#bf0f0b"/>
<circle cx="259.8" cy="85.4" r="4.55" fill="#bf0f0b"/>
<circle cx="290.4" cy="78.5" r="4.55" fill="#a00c09"/>
<circle cx="269.4" cy="96.8" r="4.55" fill="#bf0f0b"/>
<circle cx="298.3" cy="71.2" r="4.55" fill="#bf0f0b"/>
<circle cx="310.4" cy="117.1" r="4.55" fill="#bf0f0b"/>
<circle cx="318.6" cy="129.5" r="4.55" fill="#bf0f0b"/>
<circle cx="301.7" cy="134.5" r="4.55" fill="#d63f27"/>
<circle cx="301.9" cy="139.5" r="4.55" fill="#bf0f0b"/>
<circle cx="327.6" cy="121.9" r="4.55" fill="#bf0f0b"/>
<circle cx="329.5" cy="134.3" r="4.55" fill="#bf0f0b"/>
<circle cx="322.2" cy="123.2" r="4.55" fill="#bf0f0b"/>
<circle cx="345.0" cy="123.1" r="4.55" fill="#bf0f0b"/>
<circle cx="133.7" cy="99.3" r="4.55" fill="#bf0f0b"/>
<circle cx="141.7" cy="96.0" r="4.55" fill="#bf0f0b"/>
<circle cx="165.6" cy="155.4" r="4.55" fill="#bf0f0b"/>
<circle cx="216.1" cy="124.6" r="4.55" fill="#bf0f0b"/>
<circle cx="229.3" cy="110.8" r="4.55" fill="#bf0f0b"/>
<circle cx="207.1" cy="140.3" r="4.55" fill="#bf0f0b"/>
<circle cx="223.9" cy="154.7" r="4.55" fill="#bf0f0b"/>
<circle cx="165.6" cy="155.3" r="4.55" fill="#bf0f0b"/>
<circle cx="327.2" cy="103.5" r="4.55" fill="#bf0f0b"/>
<circle cx="308.8" cy="128.2" r="4.55" fill="#bf0f0b"/>
<circle cx="332.0" cy="129.0" r="4.55" fill="#bf0f0b"/>
<circle cx="344.9" cy="128.2" r="4.55" fill="#bf0f0b"/>
<circle cx="387.3" cy="206.0" r="4.55" fill="#bf0f0b"/>
<circle cx="433.2" cy="209.4" r="4.55" fill="#bf0f0b"/>
<circle cx="134.0" cy="99.4" r="4.55" fill="#bf0f0b"/>
<circle cx="260.2" cy="113.9" r="3.85" fill="#a00c09"/>
<circle cx="266.8" cy="101.3" r="3.85" fill="#bf0f0b"/>
<circle cx="252.3" cy="87.0" r="3.85" fill="#bf0f0b"/>
<circle cx="265.1" cy="48.1" r="3.85" fill="#bf0f0b"/>
<circle cx="254.4" cy="61.5" r="3.85" fill="#d63f27"/>
<circle cx="250.3" cy="78.2" r="3.85" fill="#bf0f0b"/>
<circle cx="246.4" cy="105.3" r="3.85" fill="#bf0f0b"/>
<circle cx="222.3" cy="108.6" r="3.85" fill="#bf0f0b"/>
<circle cx="271.9" cy="52.0" r="3.85" fill="#bf0f0b"/>
<circle cx="243.0" cy="120.6" r="3.85" fill="#a00c09"/>
<circle cx="282.5" cy="84.9" r="3.85" fill="#bf0f0b"/>
<circle cx="253.3" cy="72.3" r="3.85" fill="#bf0f0b"/>
<circle cx="267.5" cy="115.4" r="3.85" fill="#bf0f0b"/>
<circle cx="290.0" cy="122.8" r="3.85" fill="#bf0f0b"/>
<circle cx="279.9" cy="75.4" r="3.85" fill="#bf0f0b"/>
<circle cx="278.1" cy="70.2" r="3.85" fill="#bf0f0b"/>
<circle cx="304.0" cy="131.5" r="3.85" fill="#bf0f0b"/>
<circle cx="260.0" cy="57.5" r="3.85" fill="#bf0f0b"/>
<circle cx="297.8" cy="136.2" r="3.85" fill="#bf0f0b"/>
<circle cx="246.8" cy="116.5" r="3.85" fill="#bf0f0b"/>
<circle cx="225.7" cy="95.1" r="3.85" fill="#d63f27"/>
<circle cx="240.2" cy="71.8" r="3.85" fill="#bf0f0b"/>
<circle cx="267.2" cy="62.0" r="3.85" fill="#bf0f0b"/>
<circle cx="297.3" cy="102.2" r="3.85" fill="#a00c09"/>
<circle cx="256.1" cy="102.9" r="3.85" fill="#bf0f0b"/>
<circle cx="237.9" cy="122.2" r="3.85" fill="#bf0f0b"/>
<circle cx="275.7" cy="94.1" r="3.85" fill="#bf0f0b"/>
<circle cx="233.0" cy="123.0" r="3.85" fill="#bf0f0b"/>
<circle cx="271.9" cy="105.9" r="3.85" fill="#bf0f0b"/>
<circle cx="271.6" cy="71.6" r="3.85" fill="#bf0f0b"/>
<circle cx="272.4" cy="88.3" r="3.85" fill="#bf0f0b"/>
<circle cx="242.5" cy="78.0" r="3.85" fill="#bf0f0b"/>
<circle cx="258.8" cy="52.4" r="3.85" fill="#bf0f0b"/>
<circle cx="261.6" cy="97.8" r="3.85" fill="#bf0f0b"/>
<circle cx="260.0" cy="62.6" r="3.85" fill="#a00c09"/>
<circle cx="280.2" cy="135.2" r="3.85" fill="#bf0f0b"/>
<circle cx="284.5" cy="124.6" r="3.85" fill="#bf0f0b"/>
<circle cx="253.3" cy="92.8" r="3.85" fill="#bf0f0b"/>
<circle cx="278.5" cy="116.4" r="3.85" fill="#bf0f0b"/>
<circle cx="237.2" cy="94.5" r="3.85" fill="#a00c09"/>
<circle cx="237.2" cy="76.0" r="3.85" fill="#bf0f0b"/>
<circle cx="272.5" cy="62.0" r="3.85" fill="#bf0f0b"/>
<circle cx="297.1" cy="123.5" r="3.85" fill="#a00c09"/>
<circle cx="235.1" cy="70.6" r="3.85" fill="#bf0f0b"/>
<circle cx="262.0" cy="103.7" r="3.85" fill="#bf0f0b"/>
<circle cx="307.0" cy="133.8" r="3.85" fill="#bf0f0b"/>
<circle cx="307.7" cy="104.2" r="3.85" fill="#a00c09"/>
<circle cx="317.9" cy="117.4" r="3.85" fill="#bf0f0b"/>
<circle cx="342.8" cy="115.5" r="3.85" fill="#bf0f0b"/>
<circle cx="349.2" cy="118.1" r="3.85" fill="#bf0f0b"/>
<circle cx="332.9" cy="122.4" r="3.85" fill="#bf0f0b"/>
<circle cx="329.6" cy="149.0" r="3.85" fill="#bf0f0b"/>
<circle cx="322.8" cy="116.9" r="3.85" fill="#bf0f0b"/>
<circle cx="332.0" cy="143.8" r="3.85" fill="#d63f27"/>
<circle cx="343.8" cy="145.7" r="3.85" fill="#bf0f0b"/>
<circle cx="323.5" cy="136.3" r="3.85" fill="#bf0f0b"/>
<circle cx="337.1" cy="129.7" r="3.85" fill="#bf0f0b"/>
<circle cx="374.9" cy="155.2" r="3.85" fill="#bf0f0b"/>
<circle cx="412.9" cy="102.7" r="3.85" fill="#f3a47c"/>
<circle cx="406.6" cy="106.9" r="3.85" fill="#e9784e"/>
<circle cx="357.5" cy="128.4" r="3.85" fill="#e9784e"/>
<circle cx="355.9" cy="142.8" r="3.85" fill="#d63f27"/>
<circle cx="374.9" cy="129.3" r="3.85" fill="#d63f27"/>
<circle cx="366.7" cy="134.9" r="3.85" fill="#bf0f0b"/>
<circle cx="369.0" cy="144.9" r="3.85" fill="#f3a47c"/>
<circle cx="386.0" cy="125.1" r="3.85" fill="#d63f27"/>
<circle cx="140.8" cy="133.6" r="3.85" fill="#bf0f0b"/>
<circle cx="136.9" cy="90.0" r="3.85" fill="#bf0f0b"/>
<circle cx="137.0" cy="119.2" r="3.85" fill="#e9784e"/>
<circle cx="149.6" cy="155.7" r="3.85" fill="#bf0f0b"/>
<circle cx="120.6" cy="124.0" r="3.85" fill="#bf0f0b"/>
<circle cx="89.6" cy="84.8" r="3.85" fill="#bf0f0b"/>
<circle cx="121.4" cy="90.4" r="3.85" fill="#bf0f0b"/>
<circle cx="116.1" cy="96.8" r="3.85" fill="#bf0f0b"/>
<circle cx="120.9" cy="96.0" r="3.85" fill="#bf0f0b"/>
<circle cx="126.5" cy="94.4" r="3.85" fill="#bf0f0b"/>
<circle cx="132.9" cy="93.6" r="3.85" fill="#bf0f0b"/>
<circle cx="146.5" cy="93.6" r="3.85" fill="#bf0f0b"/>
<circle cx="152.9" cy="94.4" r="3.85" fill="#bf0f0b"/>
<circle cx="156.1" cy="97.6" r="3.85" fill="#bf0f0b"/>
<circle cx="168.6" cy="92.0" r="3.85" fill="#bf0f0b"/>
<circle cx="120.1" cy="102.5" r="3.85" fill="#bf0f0b"/>
<circle cx="125.7" cy="102.5" r="3.85" fill="#bf0f0b"/>
<circle cx="130.5" cy="103.3" r="3.85" fill="#bf0f0b"/>
<circle cx="136.9" cy="102.5" r="3.85" fill="#bf0f0b"/>
<circle cx="143.3" cy="100.9" r="3.85" fill="#bf0f0b"/>
<circle cx="141.7" cy="106.5" r="3.85" fill="#bf0f0b"/>
<circle cx="126.5" cy="107.3" r="3.85" fill="#bf0f0b"/>
<circle cx="132.9" cy="106.5" r="3.85" fill="#bf0f0b"/>
<circle cx="138.5" cy="109.7" r="3.85" fill="#bf0f0b"/>
<circle cx="128.1" cy="112.9" r="3.85" fill="#bf0f0b"/>
<circle cx="133.7" cy="113.7" r="3.85" fill="#bf0f0b"/>
<circle cx="132.1" cy="117.7" r="3.85" fill="#bf0f0b"/>
<circle cx="130.5" cy="124.1" r="3.85" fill="#bf0f0b"/>
<circle cx="135.3" cy="124.1" r="3.85" fill="#bf0f0b"/>
<circle cx="138.5" cy="128.9" r="3.85" fill="#bf0f0b"/>
<circle cx="153.4" cy="117.7" r="3.85" fill="#bf0f0b"/>
<circle cx="130.5" cy="132.9" r="3.85" fill="#bf0f0b"/>
<circle cx="132.1" cy="136.9" r="3.85" fill="#bf0f0b"/>
<circle cx="136.9" cy="138.5" r="3.85" fill="#bf0f0b"/>
<circle cx="145.7" cy="136.9" r="3.85" fill="#bf0f0b"/>
<circle cx="151.3" cy="135.3" r="3.85" fill="#bf0f0b"/>
<circle cx="155.3" cy="138.5" r="3.85" fill="#bf0f0b"/>
<circle cx="158.5" cy="144.1" r="3.85" fill="#bf0f0b"/>
<circle cx="135.3" cy="140.9" r="3.85" fill="#bf0f0b"/>
<circle cx="165.7" cy="155.3" r="3.85" fill="#bf0f0b"/>
<circle cx="121.7" cy="140.1" r="3.85" fill="#bf0f0b"/>
<circle cx="135.5" cy="162.8" r="3.85" fill="#bf0f0b"/>
<circle cx="137.0" cy="178.5" r="3.85" fill="#bf0f0b"/>
<circle cx="192.1" cy="173.0" r="3.85" fill="#bf0f0b"/>
<circle cx="155.4" cy="185.5" r="3.85" fill="#bf0f0b"/>
<circle cx="145.8" cy="208.3" r="3.85" fill="#bf0f0b"/>
<circle cx="159.8" cy="210.5" r="3.85" fill="#bf0f0b"/>
<circle cx="164.2" cy="211.2" r="3.85" fill="#bf0f0b"/>
<circle cx="148.7" cy="247.9" r="3.85" fill="#bf0f0b"/>
<circle cx="119.4" cy="144.4" r="3.85" fill="#bf0f0b"/>
<circle cx="134.1" cy="150.3" r="3.85" fill="#bf0f0b"/>
<circle cx="159.0" cy="144.4" r="3.85" fill="#bf0f0b"/>
<circle cx="153.6" cy="118.0" r="3.85" fill="#bf0f0b"/>
<circle cx="201.7" cy="107.8" r="3.85" fill="#bf0f0b"/>
<circle cx="215.5" cy="116.8" r="3.85" fill="#bf0f0b"/>
<circle cx="225.7" cy="102.4" r="3.85" fill="#bf0f0b"/>
<circle cx="216.7" cy="138.5" r="3.85" fill="#bf0f0b"/>
<circle cx="220.3" cy="150.5" r="3.85" fill="#bf0f0b"/>
<circle cx="226.9" cy="146.3" r="3.85" fill="#bf0f0b"/>
<circle cx="234.7" cy="146.3" r="3.85" fill="#bf0f0b"/>
<circle cx="231.7" cy="155.3" r="3.85" fill="#bf0f0b"/>
<circle cx="238.9" cy="152.9" r="3.85" fill="#bf0f0b"/>
<circle cx="154.8" cy="138.5" r="3.85" fill="#bf0f0b"/>
<circle cx="158.4" cy="144.5" r="3.85" fill="#bf0f0b"/>
<circle cx="190.9" cy="169.1" r="3.85" fill="#bf0f0b"/>
<circle cx="207.7" cy="53.5" r="3.85" fill="#bf0f0b"/>
<circle cx="261.7" cy="34.6" r="3.85" fill="#bf0f0b"/>
<circle cx="267.6" cy="33.3" r="3.85" fill="#bf0f0b"/>
<circle cx="258.5" cy="39.7" r="3.85" fill="#bf0f0b"/>
<circle cx="255.3" cy="43.9" r="3.85" fill="#bf0f0b"/>
<circle cx="270.5" cy="45.5" r="3.85" fill="#bf0f0b"/>
<circle cx="251.3" cy="55.4" r="3.85" fill="#bf0f0b"/>
<circle cx="246.5" cy="57.0" r="3.85" fill="#bf0f0b"/>
<circle cx="244.1" cy="61.8" r="3.85" fill="#bf0f0b"/>
<circle cx="265.7" cy="56.2" r="3.85" fill="#bf0f0b"/>
<circle cx="273.7" cy="57.0" r="3.85" fill="#bf0f0b"/>
<circle cx="276.9" cy="65.1" r="3.85" fill="#bf0f0b"/>
<circle cx="269.7" cy="66.7" r="3.85" fill="#bf0f0b"/>
<circle cx="260.9" cy="70.7" r="3.85" fill="#bf0f0b"/>
<circle cx="251.3" cy="66.7" r="3.85" fill="#bf0f0b"/>
<circle cx="243.3" cy="67.5" r="3.85" fill="#bf0f0b"/>
<circle cx="231.2" cy="74.7" r="3.85" fill="#bf0f0b"/>
<circle cx="225.6" cy="80.3" r="3.85" fill="#bf0f0b"/>
<circle cx="237.6" cy="83.5" r="3.85" fill="#bf0f0b"/>
<circle cx="254.5" cy="81.9" r="3.85" fill="#bf0f0b"/>
<circle cx="269.7" cy="77.1" r="3.85" fill="#bf0f0b"/>
<circle cx="275.3" cy="79.5" r="3.85" fill="#bf0f0b"/>
<circle cx="285.7" cy="75.5" r="3.85" fill="#bf0f0b"/>
<circle cx="293.7" cy="73.9" r="3.85" fill="#bf0f0b"/>
<circle cx="300.9" cy="75.5" r="3.85" fill="#bf0f0b"/>
<circle cx="309.7" cy="69.9" r="3.85" fill="#bf0f0b"/>
<circle cx="315.3" cy="73.1" r="3.85" fill="#bf0f0b"/>
<circle cx="308.9" cy="77.9" r="3.85" fill="#bf0f0b"/>
<circle cx="296.1" cy="83.5" r="3.85" fill="#bf0f0b"/>
<circle cx="288.1" cy="84.3" r="3.85" fill="#bf0f0b"/>
<circle cx="225.6" cy="101.9" r="3.85" fill="#bf0f0b"/>
<circle cx="233.6" cy="90.7" r="3.85" fill="#bf0f0b"/>
<circle cx="238.4" cy="99.5" r="3.85" fill="#bf0f0b"/>
<circle cx="248.1" cy="92.3" r="3.85" fill="#bf0f0b"/>
<circle cx="258.5" cy="90.7" r="3.85" fill="#bf0f0b"/>
<circle cx="264.9" cy="83.5" r="3.85" fill="#bf0f0b"/>
<circle cx="276.9" cy="85.9" r="3.85" fill="#bf0f0b"/>
<circle cx="281.7" cy="97.1" r="3.85" fill="#bf0f0b"/>
<circle cx="288.1" cy="92.3" r="3.85" fill="#bf0f0b"/>
<circle cx="294.5" cy="89.9" r="3.85" fill="#bf0f0b"/>
<circle cx="299.3" cy="95.5" r="3.85" fill="#bf0f0b"/>
<circle cx="305.7" cy="92.3" r="3.85" fill="#bf0f0b"/>
<circle cx="302.5" cy="100.3" r="3.85" fill="#bf0f0b"/>
<circle cx="292.9" cy="98.7" r="3.85" fill="#bf0f0b"/>
<circle cx="280.1" cy="105.1" r="3.85" fill="#bf0f0b"/>
<circle cx="273.7" cy="100.3" r="3.85" fill="#bf0f0b"/>
<circle cx="264.1" cy="108.3" r="3.85" fill="#bf0f0b"/>
<circle cx="254.5" cy="108.3" r="3.85" fill="#bf0f0b"/>
<circle cx="244.1" cy="100.3" r="3.85" fill="#bf0f0b"/>
<circle cx="233.6" cy="108.3" r="3.85" fill="#bf0f0b"/>
<circle cx="228.8" cy="111.5" r="3.85" fill="#bf0f0b"/>
<circle cx="203.2" cy="107.5" r="3.85" fill="#bf0f0b"/>
<circle cx="312.1" cy="107.5" r="3.85" fill="#bf0f0b"/>
<circle cx="318.6" cy="111.5" r="3.85" fill="#bf0f0b"/>
<circle cx="296.1" cy="108.3" r="3.85" fill="#bf0f0b"/>
<circle cx="288.1" cy="106.7" r="3.85" fill="#bf0f0b"/>
<circle cx="304.1" cy="111.5" r="3.85" fill="#bf0f0b"/>
<circle cx="248.1" cy="73.1" r="3.85" fill="#bf0f0b"/>
<circle cx="260.9" cy="77.9" r="3.85" fill="#bf0f0b"/>
<circle cx="241.7" cy="89.1" r="3.85" fill="#bf0f0b"/>
<circle cx="267.3" cy="92.3" r="3.85" fill="#bf0f0b"/>
<circle cx="252.9" cy="98.7" r="3.85" fill="#bf0f0b"/>
<circle cx="232.0" cy="95.5" r="3.85" fill="#bf0f0b"/>
<circle cx="272.1" cy="113.1" r="3.85" fill="#bf0f0b"/>
<circle cx="283.3" cy="113.1" r="3.85" fill="#bf0f0b"/>
<circle cx="224.0" cy="89.1" r="3.85" fill="#bf0f0b"/>
<circle cx="203.2" cy="109.0" r="3.85" fill="#bf0f0b"/>
<circle cx="215.2" cy="117.0" r="3.85" fill="#bf0f0b"/>
<circle cx="215.2" cy="124.2" r="3.85" fill="#bf0f0b"/>
<circle cx="222.4" cy="121.0" r="3.85" fill="#bf0f0b"/>
<circle cx="228.8" cy="111.4" r="3.85" fill="#bf0f0b"/>
<circle cx="235.2" cy="108.2" r="3.85" fill="#bf0f0b"/>
<circle cx="243.3" cy="111.4" r="3.85" fill="#bf0f0b"/>
<circle cx="252.9" cy="108.2" r="3.85" fill="#bf0f0b"/>
<circle cx="264.1" cy="109.8" r="3.85" fill="#bf0f0b"/>
<circle cx="273.7" cy="111.4" r="3.85" fill="#bf0f0b"/>
<circle cx="284.9" cy="107.4" r="3.85" fill="#bf0f0b"/>
<circle cx="294.5" cy="109.0" r="3.85" fill="#bf0f0b"/>
<circle cx="302.5" cy="106.6" r="3.85" fill="#bf0f0b"/>
<circle cx="312.1" cy="108.2" r="3.85" fill="#bf0f0b"/>
<circle cx="315.3" cy="113.0" r="3.85" fill="#bf0f0b"/>
<circle cx="256.1" cy="125.8" r="3.85" fill="#bf0f0b"/>
<circle cx="263.3" cy="118.6" r="3.85" fill="#bf0f0b"/>
<circle cx="254.5" cy="117.0" r="3.85" fill="#bf0f0b"/>
<circle cx="275.3" cy="120.2" r="3.85" fill="#bf0f0b"/>
<circle cx="283.3" cy="119.4" r="3.85" fill="#bf0f0b"/>
<circle cx="294.5" cy="118.6" r="3.85" fill="#bf0f0b"/>
<circle cx="302.5" cy="121.8" r="3.85" fill="#bf0f0b"/>
<circle cx="315.3" cy="121.8" r="3.85" fill="#bf0f0b"/>
<circle cx="286.5" cy="129.8" r="3.85" fill="#bf0f0b"/>
<circle cx="297.7" cy="129.0" r="3.85" fill="#bf0f0b"/>
<circle cx="308.9" cy="128.2" r="3.85" fill="#bf0f0b"/>
<circle cx="313.7" cy="132.2" r="3.85" fill="#bf0f0b"/>
<circle cx="278.5" cy="129.0" r="3.85" fill="#bf0f0b"/>
<circle cx="289.7" cy="135.4" r="3.85" fill="#bf0f0b"/>
<circle cx="294.5" cy="142.6" r="3.85" fill="#bf0f0b"/>
<circle cx="307.3" cy="139.4" r="3.85" fill="#bf0f0b"/>
<circle cx="279.3" cy="141.8" r="3.85" fill="#bf0f0b"/>
<circle cx="287.3" cy="142.6" r="3.85" fill="#bf0f0b"/>
<circle cx="287.3" cy="150.7" r="3.85" fill="#bf0f0b"/>
<circle cx="296.1" cy="147.5" r="3.85" fill="#bf0f0b"/>
<circle cx="207.2" cy="140.2" r="3.85" fill="#bf0f0b"/>
<circle cx="216.0" cy="137.8" r="3.85" fill="#bf0f0b"/>
<circle cx="214.4" cy="144.3" r="3.85" fill="#bf0f0b"/>
<circle cx="226.4" cy="145.9" r="3.85" fill="#bf0f0b"/>
<circle cx="235.2" cy="146.7" r="3.85" fill="#bf0f0b"/>
<circle cx="240.1" cy="144.3" r="3.85" fill="#bf0f0b"/>
<circle cx="248.1" cy="146.7" r="3.85" fill="#bf0f0b"/>
<circle cx="256.9" cy="146.7" r="3.85" fill="#bf0f0b"/>
<circle cx="220.0" cy="150.7" r="3.85" fill="#bf0f0b"/>
<circle cx="224.0" cy="154.7" r="3.85" fill="#bf0f0b"/>
<circle cx="232.0" cy="155.5" r="3.85" fill="#bf0f0b"/>
<circle cx="238.4" cy="153.9" r="3.85" fill="#bf0f0b"/>
<circle cx="246.5" cy="155.5" r="3.85" fill="#bf0f0b"/>
<circle cx="252.9" cy="157.9" r="3.85" fill="#bf0f0b"/>
<circle cx="249.7" cy="161.9" r="3.85" fill="#bf0f0b"/>
<circle cx="252.9" cy="168.3" r="3.85" fill="#bf0f0b"/>
<circle cx="258.5" cy="167.5" r="3.85" fill="#bf0f0b"/>
<circle cx="254.5" cy="174.7" r="3.85" fill="#bf0f0b"/>
<circle cx="277.7" cy="156.3" r="3.85" fill="#bf0f0b"/>
<circle cx="274.5" cy="165.1" r="3.85" fill="#bf0f0b"/>
<circle cx="280.1" cy="165.9" r="3.85" fill="#bf0f0b"/>
<circle cx="284.9" cy="163.5" r="3.85" fill="#bf0f0b"/>
<circle cx="288.1" cy="170.7" r="3.85" fill="#bf0f0b"/>
<circle cx="308.9" cy="168.3" r="3.85" fill="#bf0f0b"/>
<circle cx="270.5" cy="185.9" r="3.85" fill="#bf0f0b"/>
<circle cx="275.3" cy="181.9" r="3.85" fill="#bf0f0b"/>
<circle cx="278.5" cy="186.7" r="3.85" fill="#bf0f0b"/>
<circle cx="260.1" cy="191.5" r="3.85" fill="#bf0f0b"/>
<circle cx="298.5" cy="187.5" r="3.85" fill="#bf0f0b"/>
<circle cx="309.7" cy="189.9" r="3.85" fill="#bf0f0b"/>
<circle cx="313.7" cy="188.3" r="3.85" fill="#bf0f0b"/>
<circle cx="272.9" cy="192.3" r="3.85" fill="#bf0f0b"/>
<circle cx="225.6" cy="113.0" r="3.85" fill="#bf0f0b"/>
<circle cx="240.1" cy="116.2" r="3.85" fill="#bf0f0b"/>
<circle cx="254.0" cy="174.8" r="3.85" fill="#bf0f0b"/>
<circle cx="252.4" cy="170.0" r="3.85" fill="#bf0f0b"/>
<circle cx="258.8" cy="170.0" r="3.85" fill="#bf0f0b"/>
<circle cx="274.9" cy="170.0" r="3.85" fill="#bf0f0b"/>
<circle cx="287.7" cy="171.6" r="3.85" fill="#bf0f0b"/>
<circle cx="309.3" cy="170.0" r="3.85" fill="#bf0f0b"/>
<circle cx="259.6" cy="192.4" r="3.85" fill="#bf0f0b"/>
<circle cx="270.1" cy="186.0" r="3.85" fill="#bf0f0b"/>
<circle cx="274.9" cy="182.0" r="3.85" fill="#bf0f0b"/>
<circle cx="278.9" cy="186.0" r="3.85" fill="#bf0f0b"/>
<circle cx="270.1" cy="194.0" r="3.85" fill="#bf0f0b"/>
<circle cx="274.1" cy="197.2" r="3.85" fill="#bf0f0b"/>
<circle cx="280.5" cy="196.4" r="3.85" fill="#bf0f0b"/>
<circle cx="278.1" cy="202.8" r="3.85" fill="#bf0f0b"/>
<circle cx="269.3" cy="201.2" r="3.85" fill="#bf0f0b"/>
<circle cx="260.4" cy="209.3" r="3.85" fill="#bf0f0b"/>
<circle cx="265.2" cy="209.3" r="3.85" fill="#bf0f0b"/>
<circle cx="270.9" cy="209.3" r="3.85" fill="#bf0f0b"/>
<circle cx="274.9" cy="206.8" r="3.85" fill="#bf0f0b"/>
<circle cx="298.9" cy="187.3" r="3.85" fill="#bf0f0b"/>
<circle cx="309.3" cy="190.0" r="3.85" fill="#bf0f0b"/>
<circle cx="313.3" cy="189.2" r="3.85" fill="#bf0f0b"/>
<circle cx="350.5" cy="35.9" r="3.85" fill="#bf0f0b"/>
<circle cx="332.4" cy="61.0" r="3.85" fill="#bf0f0b"/>
<circle cx="309.6" cy="69.9" r="3.85" fill="#bf0f0b"/>
<circle cx="316.0" cy="72.3" r="3.85" fill="#bf0f0b"/>
<circle cx="302.4" cy="74.7" r="3.85" fill="#bf0f0b"/>
<circle cx="309.6" cy="77.9" r="3.85" fill="#bf0f0b"/>
<circle cx="304.8" cy="92.3" r="3.85" fill="#bf0f0b"/>
<circle cx="302.4" cy="105.1" r="3.85" fill="#bf0f0b"/>
<circle cx="312.8" cy="108.3" r="3.85" fill="#bf0f0b"/>
<circle cx="332.0" cy="76.6" r="3.85" fill="#bf0f0b"/>
<circle cx="330.1" cy="85.6" r="3.85" fill="#bf0f0b"/>
<circle cx="344.1" cy="77.1" r="3.85" fill="#bf0f0b"/>
<circle cx="347.7" cy="73.4" r="3.85" fill="#bf0f0b"/>
<circle cx="357.2" cy="74.2" r="3.85" fill="#bf0f0b"/>
<circle cx="372.4" cy="82.7" r="3.85" fill="#bf0f0b"/>
<circle cx="375.3" cy="91.5" r="3.85" fill="#bf0f0b"/>
<circle cx="412.1" cy="90.4" r="3.85" fill="#bf0f0b"/>
<circle cx="408.9" cy="99.5" r="3.85" fill="#bf0f0b"/>
<circle cx="333.6" cy="99.5" r="3.85" fill="#bf0f0b"/>
<circle cx="331.2" cy="111.5" r="3.85" fill="#bf0f0b"/>
<circle cx="303.2" cy="112.2" r="3.85" fill="#bf0f0b"/>
<circle cx="312.8" cy="107.4" r="3.85" fill="#bf0f0b"/>
<circle cx="315.2" cy="112.2" r="3.85" fill="#bf0f0b"/>
<circle cx="316.0" cy="122.6" r="3.85" fill="#bf0f0b"/>
<circle cx="313.6" cy="131.4" r="3.85" fill="#bf0f0b"/>
<circle cx="302.4" cy="125.8" r="3.85" fill="#bf0f0b"/>
<circle cx="307.2" cy="140.2" r="3.85" fill="#bf0f0b"/>
<circle cx="306.4" cy="121.0" r="3.85" fill="#bf0f0b"/>
<circle cx="320.8" cy="109.8" r="3.85" fill="#bf0f0b"/>
<circle cx="327.2" cy="106.6" r="3.85" fill="#bf0f0b"/>
<circle cx="324.0" cy="129.0" r="3.85" fill="#bf0f0b"/>
<circle cx="327.2" cy="114.6" r="3.85" fill="#bf0f0b"/>
<circle cx="334.4" cy="115.4" r="3.85" fill="#bf0f0b"/>
<circle cx="338.4" cy="121.0" r="3.85" fill="#bf0f0b"/>
<circle cx="349.7" cy="126.6" r="3.85" fill="#bf0f0b"/>
<circle cx="352.9" cy="130.6" r="3.85" fill="#bf0f0b"/>
<circle cx="332.0" cy="138.6" r="3.85" fill="#bf0f0b"/>
<circle cx="341.7" cy="133.8" r="3.85" fill="#bf0f0b"/>
<circle cx="344.9" cy="139.4" r="3.85" fill="#bf0f0b"/>
<circle cx="348.1" cy="135.4" r="3.85" fill="#bf0f0b"/>
<circle cx="338.4" cy="148.3" r="3.85" fill="#bf0f0b"/>
<circle cx="335.2" cy="153.1" r="3.85" fill="#bf0f0b"/>
<circle cx="341.7" cy="153.9" r="3.85" fill="#bf0f0b"/>
<circle cx="332.0" cy="157.1" r="3.85" fill="#bf0f0b"/>
<circle cx="338.4" cy="143.4" r="3.85" fill="#bf0f0b"/>
<circle cx="361.7" cy="140.2" r="3.85" fill="#bf0f0b"/>
<circle cx="369.7" cy="138.6" r="3.85" fill="#bf0f0b"/>
<circle cx="367.3" cy="149.9" r="3.85" fill="#bf0f0b"/>
<circle cx="372.1" cy="161.1" r="3.85" fill="#bf0f0b"/>
<circle cx="308.8" cy="168.3" r="3.85" fill="#bf0f0b"/>
<circle cx="311.2" cy="188.3" r="3.85" fill="#bf0f0b"/>
<circle cx="308.0" cy="189.9" r="3.85" fill="#bf0f0b"/>
<circle cx="301.6" cy="186.7" r="3.85" fill="#bf0f0b"/>
<circle cx="389.7" cy="188.3" r="3.85" fill="#bf0f0b"/>
<circle cx="396.1" cy="185.9" r="3.85" fill="#bf0f0b"/>
<circle cx="392.9" cy="193.1" r="3.85" fill="#bf0f0b"/>
<circle cx="412.3" cy="90.2" r="3.85" fill="#bf0f0b"/>
<circle cx="422.5" cy="93.1" r="3.85" fill="#bf0f0b"/>
<circle cx="408.7" cy="99.8" r="3.85" fill="#bf0f0b"/>
<circle cx="408.0" cy="101.3" r="3.85" fill="#bf0f0b"/>
<circle cx="420.1" cy="113.4" r="3.85" fill="#bf0f0b"/>
<circle cx="390.0" cy="129.4" r="3.85" fill="#e9784e"/>
<circle cx="394.0" cy="142.7" r="3.85" fill="#bf0f0b"/>
<circle cx="425.4" cy="142.5" r="3.85" fill="#bf0f0b"/>
<circle cx="406.7" cy="178.8" r="3.85" fill="#bf0f0b"/>
<circle cx="392.7" cy="185.4" r="3.85" fill="#bf0f0b"/>
<circle cx="396.7" cy="185.4" r="3.85" fill="#bf0f0b"/>
<circle cx="387.3" cy="188.1" r="3.85" fill="#bf0f0b"/>
<circle cx="425.4" cy="184.1" r="3.85" fill="#bf0f0b"/>
<circle cx="455.4" cy="185.4" r="3.85" fill="#bf0f0b"/>
<circle cx="467.0" cy="185.4" r="3.85" fill="#bf0f0b"/>
<circle cx="406.7" cy="178.5" r="3.85" fill="#bf0f0b"/>
<circle cx="387.6" cy="189.1" r="3.85" fill="#bf0f0b"/>
<circle cx="391.3" cy="188.4" r="3.85" fill="#bf0f0b"/>
<circle cx="396.1" cy="185.9" r="3.85" fill="#bf0f0b"/>
<circle cx="392.3" cy="193.5" r="3.85" fill="#bf0f0b"/>
<circle cx="395.0" cy="204.5" r="3.85" fill="#bf0f0b"/>
<circle cx="410.7" cy="194.2" r="3.85" fill="#bf0f0b"/>
<circle cx="436.1" cy="200.1" r="3.85" fill="#bf0f0b"/>
<circle cx="416.7" cy="210.8" r="3.85" fill="#bf0f0b"/>
<circle cx="424.6" cy="215.2" r="3.85" fill="#bf0f0b"/>
<circle cx="428.0" cy="221.4" r="3.85" fill="#bf0f0b"/>
<circle cx="455.2" cy="185.4" r="3.85" fill="#bf0f0b"/>
<circle cx="452.5" cy="191.7" r="3.85" fill="#bf0f0b"/>
<circle cx="467.2" cy="185.9" r="3.85" fill="#bf0f0b"/>
<circle cx="121.3" cy="90.1" r="3.85" fill="#bf0f0b"/>
<circle cx="127.4" cy="94.1" r="3.85" fill="#bf0f0b"/>
<circle cx="132.7" cy="92.7" r="3.85" fill="#bf0f0b"/>
<circle cx="142.0" cy="96.1" r="3.85" fill="#bf0f0b"/>
<circle cx="146.0" cy="92.7" r="3.85" fill="#bf0f0b"/>
<circle cx="146.7" cy="100.7" r="3.85" fill="#bf0f0b"/>
<circle cx="153.4" cy="94.7" r="3.85" fill="#bf0f0b"/>
<circle cx="156.1" cy="98.1" r="3.85" fill="#bf0f0b"/>
<circle cx="140.7" cy="106.1" r="3.85" fill="#bf0f0b"/>
<circle cx="136.7" cy="110.1" r="3.85" fill="#bf0f0b"/>
<circle cx="116.0" cy="96.7" r="3.85" fill="#bf0f0b"/>
<circle cx="132.0" cy="117.4" r="3.85" fill="#bf0f0b"/>
<circle cx="130.7" cy="124.1" r="3.85" fill="#bf0f0b"/>
<circle cx="138.0" cy="127.4" r="3.85" fill="#bf0f0b"/>
<circle cx="112.0" cy="124.8" r="3.85" fill="#bf0f0b"/>
<circle cx="168.7" cy="92.1" r="3.85" fill="#bf0f0b"/>
<circle cx="153.4" cy="117.8" r="3.85" fill="#bf0f0b"/>
<circle cx="202.1" cy="107.4" r="3.85" fill="#bf0f0b"/>
<circle cx="208.8" cy="53.3" r="3.85" fill="#bf0f0b"/>
<circle cx="89.2" cy="85.3" r="3.85" fill="#bf0f0b"/>
<circle cx="121.2" cy="90.6" r="3.85" fill="#bf0f0b"/>
<circle cx="133.7" cy="98.9" r="3.85" fill="#bf0f0b"/>
<circle cx="116.1" cy="97.0" r="3.85" fill="#bf0f0b"/>
<circle cx="125.7" cy="97.3" r="3.85" fill="#bf0f0b"/>
<circle cx="290.9" cy="112.9" r="2.95" fill="#bf0f0b"/>
<circle cx="307.1" cy="102.7" r="2.95" fill="#a00c09"/>
<circle cx="287.1" cy="98.8" r="2.95" fill="#bf0f0b"/>
<circle cx="282.0" cy="90.8" r="2.95" fill="#bf0f0b"/>
<circle cx="248.3" cy="111.5" r="2.95" fill="#bf0f0b"/>
<circle cx="242.3" cy="95.1" r="2.95" fill="#bf0f0b"/>
<circle cx="228.4" cy="86.2" r="2.95" fill="#bf0f0b"/>
<circle cx="266.3" cy="72.9" r="2.95" fill="#bf0f0b"/>
<circle cx="291.9" cy="129.5" r="2.95" fill="#bf0f0b"/>
<circle cx="297.8" cy="114.8" r="2.95" fill="#d63f27"/>
<circle cx="284.6" cy="138.2" r="2.95" fill="#bf0f0b"/>
<circle cx="326.7" cy="144.8" r="2.95" fill="#bf0f0b"/>
<circle cx="337.1" cy="137.0" r="2.95" fill="#bf0f0b"/>
<circle cx="362.5" cy="152.7" r="2.95" fill="#d63f27"/>
<circle cx="376.1" cy="121.4" r="2.95" fill="#f3a47c"/>
<circle cx="397.9" cy="115.6" r="2.95" fill="#d63f27"/>
<circle cx="403.0" cy="120.2" r="2.95" fill="#f3a47c"/>
<circle cx="363.4" cy="160.4" r="2.95" fill="#bf0f0b"/>
<circle cx="398.3" cy="140.4" r="2.95" fill="#f3a47c"/>
<circle cx="399.6" cy="102.5" r="2.95" fill="#d63f27"/>
<circle cx="83.2" cy="103.3" r="2.95" fill="#bf0f0b"/>
<circle cx="145.3" cy="142.3" r="2.95" fill="#e9784e"/>
<circle cx="83.4" cy="81.7" r="2.95" fill="#e9784e"/>
<circle cx="122.9" cy="129.0" r="2.95" fill="#d63f27"/>
<circle cx="152.9" cy="102.2" r="2.95" fill="#d63f27"/>
<circle cx="78.4" cy="78.9" r="2.95" fill="#e9784e"/>
<circle cx="83.2" cy="76.0" r="2.95" fill="#e9784e"/>
<circle cx="93.2" cy="72.5" r="2.95" fill="#bf0f0b"/>
<circle cx="90.1" cy="80.0" r="2.95" fill="#bf0f0b"/>
<circle cx="98.8" cy="82.4" r="2.95" fill="#bf0f0b"/>
<circle cx="102.0" cy="86.4" r="2.95" fill="#bf0f0b"/>
<circle cx="110.9" cy="87.2" r="2.95" fill="#bf0f0b"/>
<circle cx="76.8" cy="89.6" r="2.95" fill="#e9784e"/>
<circle cx="76.0" cy="87.2" r="2.95" fill="#a00c09"/>
<circle cx="92.8" cy="104.1" r="2.95" fill="#e9784e"/>
<circle cx="99.3" cy="106.5" r="2.95" fill="#bf0f0b"/>
<circle cx="102.5" cy="106.5" r="2.95" fill="#bf0f0b"/>
<circle cx="79.2" cy="108.1" r="2.95" fill="#e9784e"/>
<circle cx="76.0" cy="108.1" r="2.95" fill="#a00c09"/>
<circle cx="116.1" cy="108.1" r="2.95" fill="#e9784e"/>
<circle cx="120.9" cy="108.1" r="2.95" fill="#e9784e"/>
<circle cx="88.8" cy="111.3" r="2.95" fill="#bf0f0b"/>
<circle cx="84.0" cy="116.1" r="2.95" fill="#e9784e"/>
<circle cx="80.8" cy="113.7" r="2.95" fill="#a00c09"/>
<circle cx="115.3" cy="112.1" r="2.95" fill="#e9784e"/>
<circle cx="121.7" cy="113.7" r="2.95" fill="#e9784e"/>
<circle cx="115.3" cy="117.7" r="2.95" fill="#e9784e"/>
<circle cx="120.9" cy="118.5" r="2.95" fill="#e9784e"/>
<circle cx="125.7" cy="120.1" r="2.95" fill="#e9784e"/>
<circle cx="109.7" cy="121.7" r="2.95" fill="#e9784e"/>
<circle cx="125.4" cy="120.9" r="2.95" fill="#e9784e"/>
<circle cx="125.7" cy="135.3" r="2.95" fill="#e9784e"/>
<circle cx="124.1" cy="143.3" r="2.95" fill="#e9784e"/>
<circle cx="162.5" cy="149.7" r="2.95" fill="#bf0f0b"/>
<circle cx="170.5" cy="156.1" r="2.95" fill="#bf0f0b"/>
<circle cx="127.3" cy="148.9" r="2.95" fill="#bf0f0b"/>
<circle cx="133.7" cy="151.3" r="2.95" fill="#bf0f0b"/>
<circle cx="159.0" cy="166.4" r="2.95" fill="#bf0f0b"/>
<circle cx="170.0" cy="156.2" r="2.95" fill="#bf0f0b"/>
<circle cx="181.8" cy="169.4" r="2.95" fill="#bf0f0b"/>
<circle cx="178.9" cy="165.7" r="2.95" fill="#bf0f0b"/>
<circle cx="186.9" cy="166.4" r="2.95" fill="#bf0f0b"/>
<circle cx="191.3" cy="168.6" r="2.95" fill="#bf0f0b"/>
<circle cx="188.4" cy="178.9" r="2.95" fill="#bf0f0b"/>
<circle cx="184.0" cy="181.9" r="2.95" fill="#e9784e"/>
<circle cx="179.6" cy="184.1" r="2.95" fill="#bf0f0b"/>
<circle cx="185.5" cy="189.2" r="2.95" fill="#bf0f0b"/>
<circle cx="181.1" cy="192.9" r="2.95" fill="#e9784e"/>
<circle cx="173.0" cy="184.1" r="2.95" fill="#bf0f0b"/>
<circle cx="175.2" cy="187.0" r="2.95" fill="#e9784e"/>
<circle cx="170.0" cy="187.0" r="2.95" fill="#bf0f0b"/>
<circle cx="164.2" cy="182.6" r="2.95" fill="#bf0f0b"/>
<circle cx="165.6" cy="189.2" r="2.95" fill="#bf0f0b"/>
<circle cx="162.0" cy="195.1" r="2.95" fill="#bf0f0b"/>
<circle cx="166.4" cy="196.5" r="2.95" fill="#bf0f0b"/>
<circle cx="174.4" cy="198.7" r="2.95" fill="#bf0f0b"/>
<circle cx="170.8" cy="203.2" r="2.95" fill="#bf0f0b"/>
<circle cx="178.1" cy="195.8" r="2.95" fill="#bf0f0b"/>
<circle cx="153.9" cy="205.4" r="2.95" fill="#bf0f0b"/>
<circle cx="145.8" cy="220.8" r="2.95" fill="#bf0f0b"/>
<circle cx="143.6" cy="237.7" r="2.95" fill="#bf0f0b"/>
<circle cx="124.5" cy="144.4" r="2.95" fill="#e9784e"/>
<circle cx="128.2" cy="149.5" r="2.95" fill="#bf0f0b"/>
<circle cx="162.7" cy="145.9" r="2.95" fill="#bf0f0b"/>
<circle cx="142.9" cy="156.2" r="2.95" fill="#bf0f0b"/>
<circle cx="79.5" cy="108.4" r="2.95" fill="#e9784e"/>
<circle cx="76.5" cy="109.0" r="2.95" fill="#a00c09"/>
<circle cx="84.3" cy="115.6" r="2.95" fill="#e9784e"/>
<circle cx="87.3" cy="112.0" r="2.95" fill="#bf0f0b"/>
<circle cx="92.1" cy="104.8" r="2.95" fill="#bf0f0b"/>
<circle cx="99.3" cy="106.0" r="2.95" fill="#bf0f0b"/>
<circle cx="102.9" cy="106.0" r="2.95" fill="#bf0f0b"/>
<circle cx="94.5" cy="131.2" r="2.95" fill="#e9784e"/>
<circle cx="100.5" cy="134.8" r="2.95" fill="#e9784e"/>
<circle cx="105.3" cy="138.5" r="2.95" fill="#e9784e"/>
<circle cx="82.5" cy="112.6" r="2.95" fill="#a00c09"/>
<circle cx="80.1" cy="115.0" r="2.95" fill="#bf0f0b"/>
<circle cx="205.3" cy="110.8" r="2.95" fill="#bf0f0b"/>
<circle cx="212.5" cy="123.4" r="2.95" fill="#bf0f0b"/>
<circle cx="222.1" cy="121.6" r="2.95" fill="#bf0f0b"/>
<circle cx="234.1" cy="114.4" r="2.95" fill="#bf0f0b"/>
<circle cx="226.9" cy="119.2" r="2.95" fill="#bf0f0b"/>
<circle cx="236.5" cy="107.2" r="2.95" fill="#bf0f0b"/>
<circle cx="238.9" cy="102.4" r="2.95" fill="#bf0f0b"/>
<circle cx="214.9" cy="144.5" r="2.95" fill="#bf0f0b"/>
<circle cx="236.5" cy="156.5" r="2.95" fill="#bf0f0b"/>
<circle cx="162.0" cy="146.3" r="2.95" fill="#bf0f0b"/>
<circle cx="170.4" cy="156.5" r="2.95" fill="#bf0f0b"/>
<circle cx="159.6" cy="166.7" r="2.95" fill="#bf0f0b"/>
<circle cx="174.6" cy="164.3" r="2.95" fill="#bf0f0b"/>
<circle cx="178.8" cy="165.5" r="2.95" fill="#bf0f0b"/>
<circle cx="181.8" cy="169.1" r="2.95" fill="#bf0f0b"/>
<circle cx="186.0" cy="167.3" r="2.95" fill="#bf0f0b"/>
<circle cx="192.1" cy="173.3" r="2.95" fill="#bf0f0b"/>
<circle cx="188.5" cy="178.1" r="2.95" fill="#bf0f0b"/>
<circle cx="279.6" cy="37.8" r="2.95" fill="#bf0f0b"/>
<circle cx="290.0" cy="51.8" r="2.95" fill="#bf0f0b"/>
<circle cx="308.9" cy="84.3" r="2.95" fill="#bf0f0b"/>
<circle cx="216.0" cy="113.9" r="2.95" fill="#bf0f0b"/>
<circle cx="323.6" cy="45.5" r="2.95" fill="#bf0f0b"/>
<circle cx="336.5" cy="47.1" r="2.95" fill="#bf0f0b"/>
<circle cx="336.8" cy="62.2" r="2.95" fill="#bf0f0b"/>
<circle cx="405.4" cy="59.0" r="2.95" fill="#bf0f0b"/>
<circle cx="322.1" cy="71.5" r="2.95" fill="#bf0f0b"/>
<circle cx="303.2" cy="81.1" r="2.95" fill="#bf0f0b"/>
<circle cx="309.6" cy="84.3" r="2.95" fill="#bf0f0b"/>
<circle cx="303.2" cy="99.5" r="2.95" fill="#bf0f0b"/>
<circle cx="316.0" cy="111.5" r="2.95" fill="#bf0f0b"/>
<circle cx="392.4" cy="89.1" r="2.95" fill="#bf0f0b"/>
<circle cx="399.3" cy="93.1" r="2.95" fill="#d63f27"/>
<circle cx="404.1" cy="96.3" r="2.95" fill="#e9784e"/>
<circle cx="338.4" cy="98.7" r="2.95" fill="#bf0f0b"/>
<circle cx="324.0" cy="109.9" r="2.95" fill="#bf0f0b"/>
<circle cx="350.5" cy="99.0" r="2.95" fill="#e9784e"/>
<circle cx="369.2" cy="111.5" r="2.95" fill="#e9784e"/>
<circle cx="375.3" cy="105.9" r="2.95" fill="#e9784e"/>
<circle cx="386.5" cy="104.3" r="2.95" fill="#bf0f0b"/>
<circle cx="388.1" cy="99.0" r="2.95" fill="#e9784e"/>
<circle cx="395.3" cy="99.5" r="2.95" fill="#e9784e"/>
<circle cx="389.7" cy="108.3" r="2.95" fill="#e9784e"/>
<circle cx="396.1" cy="109.9" r="2.95" fill="#e9784e"/>
<circle cx="401.7" cy="108.3" r="2.95" fill="#bf0f0b"/>
<circle cx="418.6" cy="101.9" r="2.95" fill="#bf0f0b"/>
<circle cx="412.1" cy="111.5" r="2.95" fill="#e9784e"/>
<circle cx="355.3" cy="122.6" r="2.95" fill="#e9784e"/>
<circle cx="357.7" cy="135.4" r="2.95" fill="#bf0f0b"/>
<circle cx="360.1" cy="133.8" r="2.95" fill="#e9784e"/>
<circle cx="356.9" cy="147.5" r="2.95" fill="#bf0f0b"/>
<circle cx="364.1" cy="145.1" r="2.95" fill="#a00c09"/>
<circle cx="368.9" cy="111.4" r="2.95" fill="#e9784e"/>
<circle cx="375.3" cy="106.6" r="2.95" fill="#e9784e"/>
<circle cx="384.9" cy="109.8" r="2.95" fill="#e9784e"/>
<circle cx="388.9" cy="106.6" r="2.95" fill="#e9784e"/>
<circle cx="394.5" cy="109.8" r="2.95" fill="#e9784e"/>
<circle cx="399.3" cy="107.4" r="2.95" fill="#bf0f0b"/>
<circle cx="410.5" cy="113.0" r="2.95" fill="#e9784e"/>
<circle cx="415.3" cy="111.4" r="2.95" fill="#e9784e"/>
<circle cx="418.6" cy="114.6" r="2.95" fill="#bf0f0b"/>
<circle cx="372.1" cy="117.8" r="2.95" fill="#e9784e"/>
<circle cx="381.7" cy="121.0" r="2.95" fill="#e9784e"/>
<circle cx="392.9" cy="117.8" r="2.95" fill="#e9784e"/>
<circle cx="402.5" cy="126.6" r="2.95" fill="#e9784e"/>
<circle cx="390.5" cy="129.0" r="2.95" fill="#bf0f0b"/>
<circle cx="372.1" cy="124.2" r="2.95" fill="#e9784e"/>
<circle cx="367.3" cy="127.4" r="2.95" fill="#e9784e"/>
<circle cx="370.5" cy="130.6" r="2.95" fill="#e9784e"/>
<circle cx="397.7" cy="145.1" r="2.95" fill="#e9784e"/>
<circle cx="396.1" cy="149.9" r="2.95" fill="#e9784e"/>
<circle cx="400.9" cy="151.5" r="2.95" fill="#e9784e"/>
<circle cx="389.7" cy="156.3" r="2.95" fill="#e9784e"/>
<circle cx="399.3" cy="157.9" r="2.95" fill="#e9784e"/>
<circle cx="378.5" cy="161.1" r="2.95" fill="#e9784e"/>
<circle cx="384.9" cy="164.3" r="2.95" fill="#e9784e"/>
<circle cx="396.1" cy="166.7" r="2.95" fill="#e9784e"/>
<circle cx="368.9" cy="157.9" r="2.95" fill="#e9784e"/>
<circle cx="370.5" cy="164.3" r="2.95" fill="#e9784e"/>
<circle cx="375.3" cy="167.5" r="2.95" fill="#e9784e"/>
<circle cx="383.3" cy="172.3" r="2.95" fill="#e9784e"/>
<circle cx="388.1" cy="173.9" r="2.95" fill="#e9784e"/>
<circle cx="378.5" cy="173.9" r="2.95" fill="#e9784e"/>
<circle cx="406.5" cy="178.7" r="2.95" fill="#bf0f0b"/>
<circle cx="386.5" cy="189.9" r="2.95" fill="#bf0f0b"/>
<circle cx="410.5" cy="192.3" r="2.95" fill="#bf0f0b"/>
<circle cx="405.4" cy="59.0" r="2.95" fill="#bf0f0b"/>
<circle cx="432.3" cy="64.8" r="2.95" fill="#bf0f0b"/>
<circle cx="442.5" cy="80.8" r="2.95" fill="#bf0f0b"/>
<circle cx="392.4" cy="89.1" r="2.95" fill="#e9784e"/>
<circle cx="399.8" cy="93.1" r="2.95" fill="#bf0f0b"/>
<circle cx="406.4" cy="92.8" r="2.95" fill="#bf0f0b"/>
<circle cx="404.0" cy="101.1" r="2.95" fill="#bf0f0b"/>
<circle cx="387.3" cy="99.1" r="2.95" fill="#e9784e"/>
<circle cx="395.4" cy="99.8" r="2.95" fill="#e9784e"/>
<circle cx="382.0" cy="104.4" r="2.95" fill="#e9784e"/>
<circle cx="389.3" cy="107.1" r="2.95" fill="#e9784e"/>
<circle cx="394.7" cy="110.4" r="2.95" fill="#e9784e"/>
<circle cx="401.4" cy="108.4" r="2.95" fill="#bf0f0b"/>
<circle cx="384.0" cy="109.1" r="2.95" fill="#e9784e"/>
<circle cx="415.4" cy="110.4" r="2.95" fill="#e9784e"/>
<circle cx="424.1" cy="97.8" r="2.95" fill="#e9784e"/>
<circle cx="420.7" cy="112.4" r="2.95" fill="#bf0f0b"/>
<circle cx="382.0" cy="104.0" r="2.95" fill="#e9784e"/>
<circle cx="388.7" cy="106.7" r="2.95" fill="#e9784e"/>
<circle cx="394.0" cy="110.0" r="2.95" fill="#e9784e"/>
<circle cx="401.4" cy="108.0" r="2.95" fill="#bf0f0b"/>
<circle cx="410.0" cy="112.7" r="2.95" fill="#e9784e"/>
<circle cx="415.4" cy="111.3" r="2.95" fill="#e9784e"/>
<circle cx="406.7" cy="117.4" r="2.95" fill="#e9784e"/>
<circle cx="382.0" cy="113.4" r="2.95" fill="#e9784e"/>
<circle cx="388.0" cy="114.7" r="2.95" fill="#e9784e"/>
<circle cx="392.7" cy="117.4" r="2.95" fill="#e9784e"/>
<circle cx="382.7" cy="121.4" r="2.95" fill="#e9784e"/>
<circle cx="392.7" cy="122.7" r="2.95" fill="#e9784e"/>
<circle cx="402.7" cy="127.4" r="2.95" fill="#e9784e"/>
<circle cx="397.4" cy="146.7" r="2.95" fill="#e9784e"/>
<circle cx="395.4" cy="153.4" r="2.95" fill="#e9784e"/>
<circle cx="400.0" cy="154.7" r="2.95" fill="#e9784e"/>
<circle cx="382.7" cy="158.7" r="2.95" fill="#e9784e"/>
<circle cx="390.0" cy="156.7" r="2.95" fill="#e9784e"/>
<circle cx="384.0" cy="164.8" r="2.95" fill="#e9784e"/>
<circle cx="388.0" cy="168.8" r="2.95" fill="#e9784e"/>
<circle cx="383.3" cy="172.8" r="2.95" fill="#e9784e"/>
<circle cx="388.0" cy="174.1" r="2.95" fill="#e9784e"/>
<circle cx="424.7" cy="145.4" r="2.95" fill="#a00c09"/>
<circle cx="427.8" cy="174.8" r="2.95" fill="#e9784e"/>
<circle cx="428.7" cy="187.4" r="2.95" fill="#bf0f0b"/>
<circle cx="374.4" cy="171.5" r="2.95" fill="#e9784e"/>
<circle cx="383.2" cy="172.2" r="2.95" fill="#e9784e"/>
<circle cx="388.4" cy="173.7" r="2.95" fill="#e9784e"/>
<circle cx="428.0" cy="175.1" r="2.95" fill="#e9784e"/>
<circle cx="425.8" cy="184.0" r="2.95" fill="#bf0f0b"/>
<circle cx="427.3" cy="188.4" r="2.95" fill="#e9784e"/>
<circle cx="430.2" cy="190.6" r="2.95" fill="#a00c09"/>
<circle cx="432.4" cy="193.5" r="2.95" fill="#e9784e"/>
<circle cx="437.6" cy="203.8" r="2.95" fill="#bf0f0b"/>
<circle cx="430.2" cy="211.9" r="2.95" fill="#a00c09"/>
<circle cx="428.7" cy="225.1" r="2.95" fill="#a00c09"/>
<circle cx="464.0" cy="213.3" r="2.95" fill="#a00c09"/>
<circle cx="466.9" cy="217.7" r="2.95" fill="#a00c09"/>
<circle cx="464.0" cy="221.4" r="2.95" fill="#e9784e"/>
<circle cx="460.3" cy="225.5" r="2.95" fill="#e9784e"/>
<circle cx="456.7" cy="228.0" r="2.95" fill="#bf0f0b"/>
<circle cx="111.3" cy="87.4" r="2.95" fill="#bf0f0b"/>
<circle cx="130.0" cy="105.4" r="2.95" fill="#e9784e"/>
<circle cx="125.4" cy="102.7" r="2.95" fill="#e9784e"/>
<circle cx="120.0" cy="107.4" r="2.95" fill="#e9784e"/>
<circle cx="111.3" cy="92.7" r="2.95" fill="#e9784e"/>
<circle cx="112.7" cy="103.4" r="2.95" fill="#e9784e"/>
<circle cx="115.3" cy="112.1" r="2.95" fill="#e9784e"/>
<circle cx="120.7" cy="114.1" r="2.95" fill="#e9784e"/>
<circle cx="126.0" cy="108.7" r="2.95" fill="#e9784e"/>
<circle cx="128.0" cy="112.8" r="2.95" fill="#e9784e"/>
<circle cx="124.7" cy="120.8" r="2.95" fill="#e9784e"/>
<circle cx="116.0" cy="118.1" r="2.95" fill="#e9784e"/>
<circle cx="205.5" cy="110.7" r="2.95" fill="#bf0f0b"/>
<circle cx="93.2" cy="72.8" r="2.95" fill="#bf0f0b"/>
<circle cx="90.0" cy="79.7" r="2.95" fill="#bf0f0b"/>
<circle cx="98.5" cy="82.5" r="2.95" fill="#d63f27"/>
<circle cx="101.7" cy="86.4" r="2.95" fill="#bf0f0b"/>
<circle cx="111.3" cy="87.2" r="2.95" fill="#bf0f0b"/>
<circle cx="76.1" cy="87.7" r="2.95" fill="#a00c09"/>
<circle cx="79.3" cy="94.1" r="2.95" fill="#bf0f0b"/>
<circle cx="76.1" cy="97.3" r="2.95" fill="#a00c09"/>
<circle cx="366.6" cy="119.9" r="2.35" fill="#e9784e"/>
<circle cx="393.6" cy="105.1" r="2.35" fill="#d63f27"/>
<circle cx="359.9" cy="122.4" r="2.35" fill="#bf0f0b"/>
<circle cx="414.7" cy="94.3" r="2.35" fill="#e9784e"/>
<circle cx="350.6" cy="121.9" r="2.35" fill="#f3a47c"/>
<circle cx="400.6" cy="171.7" r="2.35" fill="#e9784e"/>
<circle cx="116.8" cy="128.1" r="2.35" fill="#e9784e"/>
<circle cx="107.9" cy="109.0" r="2.35" fill="#e9784e"/>
<circle cx="108.9" cy="99.9" r="2.35" fill="#e9784e"/>
<circle cx="97.9" cy="100.5" r="2.35" fill="#f3a47c"/>
<circle cx="95.0" cy="78.0" r="2.35" fill="#e9784e"/>
<circle cx="88.1" cy="121.5" r="2.35" fill="#f3a47c"/>
<circle cx="116.1" cy="89.6" r="2.35" fill="#f3a47c"/>
<circle cx="96.7" cy="88.0" r="2.35" fill="#e9784e"/>
<circle cx="63.2" cy="68.8" r="2.35" fill="#e9784e"/>
<circle cx="66.7" cy="75.7" r="2.35" fill="#e9784e"/>
<circle cx="80.8" cy="93.6" r="2.35" fill="#e9784e"/>
<circle cx="86.4" cy="88.0" r="2.35" fill="#f3a47c"/>
<circle cx="89.6" cy="92.8" r="2.35" fill="#f3a47c"/>
<circle cx="93.6" cy="92.0" r="2.35" fill="#f3a47c"/>
<circle cx="97.6" cy="95.2" r="2.35" fill="#f3a47c"/>
<circle cx="103.3" cy="98.4" r="2.35" fill="#f3a47c"/>
<circle cx="106.5" cy="90.4" r="2.35" fill="#e9784e"/>
<circle cx="111.3" cy="93.6" r="2.35" fill="#e9784e"/>
<circle cx="80.0" cy="98.4" r="2.35" fill="#f3a47c"/>
<circle cx="86.4" cy="99.3" r="2.35" fill="#f3a47c"/>
<circle cx="92.8" cy="99.3" r="2.35" fill="#f3a47c"/>
<circle cx="77.6" cy="102.5" r="2.35" fill="#e9784e"/>
<circle cx="96.8" cy="107.3" r="2.35" fill="#f3a47c"/>
<circle cx="112.9" cy="103.3" r="2.35" fill="#e9784e"/>
<circle cx="93.6" cy="113.7" r="2.35" fill="#e9784e"/>
<circle cx="98.4" cy="114.5" r="2.35" fill="#f3a47c"/>
<circle cx="104.9" cy="113.7" r="2.35" fill="#f3a47c"/>
<circle cx="93.6" cy="118.5" r="2.35" fill="#e9784e"/>
<circle cx="100.1" cy="118.5" r="2.35" fill="#f3a47c"/>
<circle cx="104.9" cy="118.5" r="2.35" fill="#f3a47c"/>
<circle cx="109.7" cy="117.7" r="2.35" fill="#f3a47c"/>
<circle cx="92.8" cy="123.3" r="2.35" fill="#f3a47c"/>
<circle cx="100.1" cy="123.3" r="2.35" fill="#f3a47c"/>
<circle cx="114.5" cy="121.7" r="2.35" fill="#e9784e"/>
<circle cx="94.4" cy="131.3" r="2.35" fill="#e9784e"/>
<circle cx="98.4" cy="129.7" r="2.35" fill="#f3a47c"/>
<circle cx="103.3" cy="128.1" r="2.35" fill="#f3a47c"/>
<circle cx="109.7" cy="127.3" r="2.35" fill="#f3a47c"/>
<circle cx="100.9" cy="134.5" r="2.35" fill="#e9784e"/>
<circle cx="106.5" cy="132.9" r="2.35" fill="#f3a47c"/>
<circle cx="111.3" cy="132.9" r="2.35" fill="#f3a47c"/>
<circle cx="106.5" cy="138.5" r="2.35" fill="#e9784e"/>
<circle cx="112.9" cy="136.9" r="2.35" fill="#f3a47c"/>
<circle cx="116.9" cy="138.5" r="2.35" fill="#e9784e"/>
<circle cx="120.9" cy="134.5" r="2.35" fill="#e9784e"/>
<circle cx="130.5" cy="145.7" r="2.35" fill="#f3a47c"/>
<circle cx="140.9" cy="147.3" r="2.35" fill="#f3a47c"/>
<circle cx="144.9" cy="149.7" r="2.35" fill="#f3a47c"/>
<circle cx="149.7" cy="146.5" r="2.35" fill="#e9784e"/>
<circle cx="156.1" cy="151.3" r="2.35" fill="#f3a47c"/>
<circle cx="138.5" cy="156.1" r="2.35" fill="#e9784e"/>
<circle cx="116.1" cy="143.3" r="2.35" fill="#e9784e"/>
<circle cx="120.1" cy="162.8" r="2.35" fill="#e9784e"/>
<circle cx="132.6" cy="168.6" r="2.35" fill="#e9784e"/>
<circle cx="142.1" cy="167.2" r="2.35" fill="#f3a47c"/>
<circle cx="134.1" cy="173.0" r="2.35" fill="#e9784e"/>
<circle cx="138.5" cy="170.8" r="2.35" fill="#e9784e"/>
<circle cx="140.7" cy="174.5" r="2.35" fill="#e9784e"/>
<circle cx="149.5" cy="175.2" r="2.35" fill="#f3a47c"/>
<circle cx="154.6" cy="173.8" r="2.35" fill="#f3a47c"/>
<circle cx="166.4" cy="165.7" r="2.35" fill="#f3a47c"/>
<circle cx="158.3" cy="158.8" r="2.35" fill="#f3a47c"/>
<circle cx="171.5" cy="162.0" r="2.35" fill="#f3a47c"/>
<circle cx="175.2" cy="164.2" r="2.35" fill="#e9784e"/>
<circle cx="173.7" cy="169.4" r="2.35" fill="#f3a47c"/>
<circle cx="174.4" cy="175.2" r="2.35" fill="#f3a47c"/>
<circle cx="184.7" cy="174.5" r="2.35" fill="#e9784e"/>
<circle cx="175.2" cy="190.7" r="2.35" fill="#e9784e"/>
<circle cx="169.3" cy="198.7" r="2.35" fill="#e9784e"/>
<circle cx="143.6" cy="179.7" r="2.35" fill="#e9784e"/>
<circle cx="145.8" cy="182.6" r="2.35" fill="#e9784e"/>
<circle cx="148.7" cy="184.1" r="2.35" fill="#e9784e"/>
<circle cx="145.8" cy="186.3" r="2.35" fill="#e9784e"/>
<circle cx="148.0" cy="189.9" r="2.35" fill="#f3a47c"/>
<circle cx="145.8" cy="192.9" r="2.35" fill="#f3a47c"/>
<circle cx="151.7" cy="195.1" r="2.35" fill="#f3a47c"/>
<circle cx="153.2" cy="198.7" r="2.35" fill="#f3a47c"/>
<circle cx="145.1" cy="198.7" r="2.35" fill="#e9784e"/>
<circle cx="145.1" cy="203.2" r="2.35" fill="#e9784e"/>
<circle cx="156.8" cy="216.4" r="2.35" fill="#f3a47c"/>
<circle cx="142.1" cy="213.4" r="2.35" fill="#e9784e"/>
<circle cx="142.9" cy="217.1" r="2.35" fill="#e9784e"/>
<circle cx="148.7" cy="217.1" r="2.35" fill="#f3a47c"/>
<circle cx="142.1" cy="221.5" r="2.35" fill="#e9784e"/>
<circle cx="144.3" cy="228.9" r="2.35" fill="#f3a47c"/>
<circle cx="149.5" cy="228.9" r="2.35" fill="#f3a47c"/>
<circle cx="145.1" cy="243.5" r="2.35" fill="#e9784e"/>
<circle cx="131.1" cy="145.9" r="2.35" fill="#f3a47c"/>
<circle cx="138.5" cy="151.0" r="2.35" fill="#f3a47c"/>
<circle cx="140.7" cy="148.1" r="2.35" fill="#f3a47c"/>
<circle cx="144.3" cy="148.8" r="2.35" fill="#e9784e"/>
<circle cx="149.5" cy="148.8" r="2.35" fill="#e9784e"/>
<circle cx="154.6" cy="147.3" r="2.35" fill="#e9784e"/>
<circle cx="156.8" cy="151.0" r="2.35" fill="#f3a47c"/>
<circle cx="139.2" cy="155.4" r="2.35" fill="#f3a47c"/>
<circle cx="30.2" cy="133.0" r="2.35" fill="#e9784e"/>
<circle cx="34.2" cy="134.8" r="2.35" fill="#e9784e"/>
<circle cx="36.8" cy="136.3" r="2.35" fill="#a00c09"/>
<circle cx="43.4" cy="185.6" r="2.35" fill="#e9784e"/>
<circle cx="77.7" cy="101.8" r="2.35" fill="#e9784e"/>
<circle cx="96.9" cy="107.2" r="2.35" fill="#f3a47c"/>
<circle cx="93.3" cy="118.6" r="2.35" fill="#e9784e"/>
<circle cx="93.3" cy="122.8" r="2.35" fill="#f3a47c"/>
<circle cx="99.3" cy="119.2" r="2.35" fill="#e9784e"/>
<circle cx="104.1" cy="118.6" r="2.35" fill="#e9784e"/>
<circle cx="99.3" cy="123.4" r="2.35" fill="#f3a47c"/>
<circle cx="102.9" cy="128.2" r="2.35" fill="#f3a47c"/>
<circle cx="99.3" cy="131.2" r="2.35" fill="#e9784e"/>
<circle cx="106.5" cy="132.4" r="2.35" fill="#f3a47c"/>
<circle cx="109.5" cy="127.6" r="2.35" fill="#e9784e"/>
<circle cx="154.8" cy="148.1" r="2.35" fill="#f3a47c"/>
<circle cx="156.0" cy="151.7" r="2.35" fill="#f3a47c"/>
<circle cx="151.2" cy="149.3" r="2.35" fill="#e9784e"/>
<circle cx="158.4" cy="158.9" r="2.35" fill="#f3a47c"/>
<circle cx="166.2" cy="165.5" r="2.35" fill="#f3a47c"/>
<circle cx="171.0" cy="162.5" r="2.35" fill="#f3a47c"/>
<circle cx="173.4" cy="169.7" r="2.35" fill="#f3a47c"/>
<circle cx="184.8" cy="174.5" r="2.35" fill="#f3a47c"/>
<circle cx="174.6" cy="175.7" r="2.35" fill="#f3a47c"/>
<circle cx="154.8" cy="173.3" r="2.35" fill="#f3a47c"/>
<circle cx="342.5" cy="99.0" r="2.35" fill="#f3a47c"/>
<circle cx="341.3" cy="103.5" r="2.35" fill="#f3a47c"/>
<circle cx="335.6" cy="106.7" r="2.35" fill="#f3a47c"/>
<circle cx="340.9" cy="110.7" r="2.35" fill="#f3a47c"/>
<circle cx="348.9" cy="103.5" r="2.35" fill="#f3a47c"/>
<circle cx="360.1" cy="105.9" r="2.35" fill="#e9784e"/>
<circle cx="364.9" cy="105.9" r="2.35" fill="#f3a47c"/>
<circle cx="380.1" cy="108.3" r="2.35" fill="#f3a47c"/>
<circle cx="404.1" cy="112.3" r="2.35" fill="#f3a47c"/>
<circle cx="415.3" cy="108.3" r="2.35" fill="#e9784e"/>
<circle cx="376.9" cy="111.5" r="2.35" fill="#f3a47c"/>
<circle cx="340.1" cy="110.6" r="2.35" fill="#f3a47c"/>
<circle cx="336.0" cy="106.6" r="2.35" fill="#f3a47c"/>
<circle cx="360.1" cy="106.6" r="2.35" fill="#e9784e"/>
<circle cx="380.1" cy="109.0" r="2.35" fill="#f3a47c"/>
<circle cx="404.1" cy="112.2" r="2.35" fill="#f3a47c"/>
<circle cx="378.5" cy="116.2" r="2.35" fill="#f3a47c"/>
<circle cx="388.1" cy="121.0" r="2.35" fill="#e9784e"/>
<circle cx="397.7" cy="120.2" r="2.35" fill="#f3a47c"/>
<circle cx="396.1" cy="129.0" r="2.35" fill="#f3a47c"/>
<circle cx="383.3" cy="129.0" r="2.35" fill="#f3a47c"/>
<circle cx="378.5" cy="125.8" r="2.35" fill="#e9784e"/>
<circle cx="364.9" cy="129.0" r="2.35" fill="#f3a47c"/>
<circle cx="396.1" cy="154.7" r="2.35" fill="#f3a47c"/>
<circle cx="402.5" cy="161.1" r="2.35" fill="#f3a47c"/>
<circle cx="396.1" cy="161.1" r="2.35" fill="#f3a47c"/>
<circle cx="391.3" cy="164.3" r="2.35" fill="#f3a47c"/>
<circle cx="402.5" cy="166.7" r="2.35" fill="#f3a47c"/>
<circle cx="380.1" cy="169.1" r="2.35" fill="#f3a47c"/>
<circle cx="373.7" cy="169.1" r="2.35" fill="#f3a47c"/>
<circle cx="397.7" cy="175.5" r="2.35" fill="#f3a47c"/>
<circle cx="418.6" cy="165.9" r="2.35" fill="#f3a47c"/>
<circle cx="417.8" cy="189.1" r="2.35" fill="#f3a47c"/>
<circle cx="410.7" cy="111.8" r="2.35" fill="#f3a47c"/>
<circle cx="418.7" cy="107.8" r="2.35" fill="#f3a47c"/>
<circle cx="420.1" cy="104.4" r="2.35" fill="#f3a47c"/>
<circle cx="422.7" cy="101.1" r="2.35" fill="#f3a47c"/>
<circle cx="404.7" cy="112.4" r="2.35" fill="#f3a47c"/>
<circle cx="404.7" cy="112.7" r="2.35" fill="#f3a47c"/>
<circle cx="418.7" cy="108.0" r="2.35" fill="#f3a47c"/>
<circle cx="422.7" cy="101.3" r="2.35" fill="#f3a47c"/>
<circle cx="396.0" cy="128.7" r="2.35" fill="#f3a47c"/>
<circle cx="398.7" cy="160.1" r="2.35" fill="#f3a47c"/>
<circle cx="402.0" cy="161.4" r="2.35" fill="#f3a47c"/>
<circle cx="392.0" cy="164.1" r="2.35" fill="#f3a47c"/>
<circle cx="396.7" cy="168.1" r="2.35" fill="#f3a47c"/>
<circle cx="403.4" cy="167.4" r="2.35" fill="#f3a47c"/>
<circle cx="397.4" cy="175.4" r="2.35" fill="#f3a47c"/>
<circle cx="392.0" cy="168.8" r="2.35" fill="#f3a47c"/>
<circle cx="419.4" cy="165.7" r="2.35" fill="#f3a47c"/>
<circle cx="427.4" cy="170.1" r="2.35" fill="#f3a47c"/>
<circle cx="418.1" cy="188.8" r="2.35" fill="#f3a47c"/>
<circle cx="397.2" cy="175.9" r="2.35" fill="#f3a47c"/>
<circle cx="427.3" cy="170.7" r="2.35" fill="#f3a47c"/>
<circle cx="418.0" cy="189.5" r="2.35" fill="#e9784e"/>
<circle cx="428.7" cy="192.8" r="2.35" fill="#e9784e"/>
<circle cx="462.5" cy="217.0" r="2.35" fill="#e9784e"/>
<circle cx="45.6" cy="50.8" r="2.35" fill="#e9784e"/>
<circle cx="42.7" cy="61.6" r="2.35" fill="#e9784e"/>
<circle cx="62.8" cy="68.8" r="2.35" fill="#e9784e"/>
<circle cx="66.5" cy="76.0" r="2.35" fill="#e9784e"/>
<circle cx="78.0" cy="78.9" r="2.35" fill="#e9784e"/>
<circle cx="83.3" cy="76.1" r="2.35" fill="#d63f27"/>
<circle cx="77.7" cy="90.9" r="2.35" fill="#e9784e"/>
</g>
<use href="#haze" transform="translate(1.5,270) scale(0.992,1)"/><use href="#edg" transform="translate(1.5,270) scale(0.992,1)"/>
<g stroke="#111" stroke-width="1.7">
<circle cx="79.3" cy="348.9" r="2.25" fill="#fff"/>
<circle cx="84.1" cy="346.0" r="2.25" fill="#fff"/>
<circle cx="93.9" cy="342.5" r="2.25" fill="#fff"/>
<circle cx="99.5" cy="352.4" r="2.25" fill="#fff"/>
<circle cx="102.7" cy="356.4" r="2.25" fill="#fff"/>
<circle cx="111.6" cy="357.2" r="2.25" fill="#fff"/>
<circle cx="121.9" cy="360.4" r="2.25" fill="#fff"/>
<circle cx="77.7" cy="359.6" r="2.25" fill="#fff"/>
<circle cx="76.9" cy="357.2" r="2.25" fill="#fff"/>
<circle cx="81.7" cy="363.6" r="2.25" fill="#fff"/>
<circle cx="87.2" cy="358.0" r="2.25" fill="#fff"/>
<circle cx="90.4" cy="362.8" r="2.25" fill="#fff"/>
<circle cx="94.4" cy="362.0" r="2.25" fill="#fff"/>
<circle cx="98.4" cy="365.2" r="2.25" fill="#fff"/>
<circle cx="103.9" cy="368.4" r="2.25" fill="#fff"/>
<circle cx="107.1" cy="360.4" r="2.25" fill="#fff"/>
<circle cx="111.9" cy="363.6" r="2.25" fill="#fff"/>
<circle cx="121.4" cy="366.0" r="2.25" fill="#fff"/>
<circle cx="127.0" cy="364.4" r="2.25" fill="#fff"/>
<circle cx="133.3" cy="363.6" r="2.25" fill="#fff"/>
<circle cx="142.1" cy="366.0" r="2.25" fill="#fff"/>
<circle cx="146.8" cy="363.6" r="2.25" fill="#fff"/>
<circle cx="153.2" cy="364.4" r="2.25" fill="#fff"/>
<circle cx="156.4" cy="367.6" r="2.25" fill="#fff"/>
<circle cx="168.8" cy="362.0" r="2.25" fill="#fff"/>
<circle cx="80.9" cy="368.4" r="2.25" fill="#fff"/>
<circle cx="93.6" cy="369.3" r="2.25" fill="#fff"/>
<circle cx="78.5" cy="372.5" r="2.25" fill="#fff"/>
<circle cx="93.6" cy="374.1" r="2.25" fill="#fff"/>
<circle cx="100.0" cy="376.5" r="2.25" fill="#fff"/>
<circle cx="103.1" cy="376.5" r="2.25" fill="#fff"/>
<circle cx="97.6" cy="377.3" r="2.25" fill="#fff"/>
<circle cx="76.9" cy="378.1" r="2.25" fill="#fff"/>
<circle cx="113.5" cy="373.3" r="2.25" fill="#fff"/>
<circle cx="120.6" cy="372.5" r="2.25" fill="#fff"/>
<circle cx="126.2" cy="372.5" r="2.25" fill="#fff"/>
<circle cx="130.9" cy="373.3" r="2.25" fill="#fff"/>
<circle cx="137.3" cy="372.5" r="2.25" fill="#fff"/>
<circle cx="143.7" cy="370.9" r="2.25" fill="#fff"/>
<circle cx="142.1" cy="376.5" r="2.25" fill="#fff"/>
<circle cx="116.6" cy="378.1" r="2.25" fill="#fff"/>
<circle cx="121.4" cy="378.1" r="2.25" fill="#fff"/>
<circle cx="127.0" cy="377.3" r="2.25" fill="#fff"/>
<circle cx="133.3" cy="376.5" r="2.25" fill="#fff"/>
<circle cx="138.9" cy="379.7" r="2.25" fill="#fff"/>
<circle cx="89.6" cy="381.3" r="2.25" fill="#fff"/>
<circle cx="84.9" cy="386.1" r="2.25" fill="#fff"/>
<circle cx="94.4" cy="383.7" r="2.25" fill="#fff"/>
<circle cx="99.2" cy="384.5" r="2.25" fill="#fff"/>
<circle cx="105.5" cy="383.7" r="2.25" fill="#fff"/>
<circle cx="115.8" cy="382.1" r="2.25" fill="#fff"/>
<circle cx="122.2" cy="383.7" r="2.25" fill="#fff"/>
<circle cx="128.6" cy="382.9" r="2.25" fill="#fff"/>
<circle cx="134.1" cy="383.7" r="2.25" fill="#fff"/>
<circle cx="94.4" cy="388.5" r="2.25" fill="#fff"/>
<circle cx="100.8" cy="388.5" r="2.25" fill="#fff"/>
<circle cx="105.5" cy="388.5" r="2.25" fill="#fff"/>
<circle cx="110.3" cy="387.7" r="2.25" fill="#fff"/>
<circle cx="115.8" cy="387.7" r="2.25" fill="#fff"/>
<circle cx="121.4" cy="388.5" r="2.25" fill="#fff"/>
<circle cx="126.2" cy="390.1" r="2.25" fill="#fff"/>
<circle cx="132.5" cy="387.7" r="2.25" fill="#fff"/>
<circle cx="93.6" cy="393.3" r="2.25" fill="#fff"/>
<circle cx="100.8" cy="393.3" r="2.25" fill="#fff"/>
<circle cx="110.3" cy="391.7" r="2.25" fill="#fff"/>
<circle cx="115.1" cy="391.7" r="2.25" fill="#fff"/>
<circle cx="125.9" cy="390.9" r="2.25" fill="#fff"/>
<circle cx="130.9" cy="394.1" r="2.25" fill="#fff"/>
<circle cx="135.7" cy="394.1" r="2.25" fill="#fff"/>
<circle cx="138.9" cy="398.9" r="2.25" fill="#fff"/>
<circle cx="153.7" cy="387.7" r="2.25" fill="#fff"/>
<circle cx="95.2" cy="401.3" r="2.25" fill="#fff"/>
<circle cx="99.2" cy="399.7" r="2.25" fill="#fff"/>
<circle cx="103.9" cy="398.1" r="2.25" fill="#fff"/>
<circle cx="110.3" cy="397.3" r="2.25" fill="#fff"/>
<circle cx="101.5" cy="404.5" r="2.25" fill="#fff"/>
<circle cx="107.1" cy="402.9" r="2.25" fill="#fff"/>
<circle cx="111.9" cy="402.9" r="2.25" fill="#fff"/>
<circle cx="107.1" cy="408.5" r="2.25" fill="#fff"/>
<circle cx="113.5" cy="406.9" r="2.25" fill="#fff"/>
<circle cx="117.4" cy="408.5" r="2.25" fill="#fff"/>
<circle cx="121.4" cy="404.5" r="2.25" fill="#fff"/>
<circle cx="126.2" cy="405.3" r="2.25" fill="#fff"/>
<circle cx="132.5" cy="406.9" r="2.25" fill="#fff"/>
<circle cx="137.3" cy="408.5" r="2.25" fill="#fff"/>
<circle cx="146.0" cy="406.9" r="2.25" fill="#fff"/>
<circle cx="151.6" cy="405.3" r="2.25" fill="#fff"/>
<circle cx="155.6" cy="408.5" r="2.25" fill="#fff"/>
<circle cx="158.8" cy="414.1" r="2.25" fill="#fff"/>
<circle cx="124.6" cy="413.3" r="2.25" fill="#fff"/>
<circle cx="130.9" cy="415.7" r="2.25" fill="#fff"/>
<circle cx="135.7" cy="410.9" r="2.25" fill="#fff"/>
<circle cx="141.3" cy="417.3" r="2.25" fill="#fff"/>
<circle cx="145.2" cy="419.7" r="2.25" fill="#fff"/>
<circle cx="150.0" cy="416.5" r="2.25" fill="#fff"/>
<circle cx="156.4" cy="421.3" r="2.25" fill="#fff"/>
<circle cx="162.7" cy="419.7" r="2.25" fill="#fff"/>
<circle cx="165.9" cy="425.3" r="2.25" fill="#fff"/>
<circle cx="170.7" cy="426.1" r="2.25" fill="#fff"/>
<circle cx="127.8" cy="418.9" r="2.25" fill="#fff"/>
<circle cx="134.1" cy="421.3" r="2.25" fill="#fff"/>
<circle cx="138.9" cy="426.1" r="2.25" fill="#fff"/>
<circle cx="122.2" cy="410.1" r="2.25" fill="#fff"/>
<circle cx="116.6" cy="413.3" r="2.25" fill="#fff"/>
<circle cx="120.6" cy="432.8" r="2.25" fill="#fff"/>
<circle cx="135.9" cy="432.8" r="2.25" fill="#fff"/>
<circle cx="133.0" cy="438.6" r="2.25" fill="#fff"/>
<circle cx="142.5" cy="437.2" r="2.25" fill="#fff"/>
<circle cx="134.5" cy="443.0" r="2.25" fill="#fff"/>
<circle cx="138.9" cy="440.8" r="2.25" fill="#fff"/>
<circle cx="141.0" cy="444.5" r="2.25" fill="#fff"/>
<circle cx="137.4" cy="448.5" r="2.25" fill="#fff"/>
<circle cx="149.8" cy="445.2" r="2.25" fill="#fff"/>
<circle cx="154.9" cy="443.8" r="2.25" fill="#fff"/>
<circle cx="159.3" cy="436.4" r="2.25" fill="#fff"/>
<circle cx="166.5" cy="435.7" r="2.25" fill="#fff"/>
<circle cx="158.5" cy="428.8" r="2.25" fill="#fff"/>
<circle cx="165.8" cy="425.4" r="2.25" fill="#fff"/>
<circle cx="170.2" cy="426.2" r="2.25" fill="#fff"/>
<circle cx="171.6" cy="432.0" r="2.25" fill="#fff"/>
<circle cx="175.3" cy="434.2" r="2.25" fill="#fff"/>
<circle cx="181.8" cy="439.4" r="2.25" fill="#fff"/>
<circle cx="178.9" cy="435.7" r="2.25" fill="#fff"/>
<circle cx="186.9" cy="436.4" r="2.25" fill="#fff"/>
<circle cx="191.3" cy="438.6" r="2.25" fill="#fff"/>
<circle cx="192.0" cy="443.0" r="2.25" fill="#fff"/>
<circle cx="173.8" cy="439.4" r="2.25" fill="#fff"/>
<circle cx="174.6" cy="445.2" r="2.25" fill="#fff"/>
<circle cx="184.7" cy="444.5" r="2.25" fill="#fff"/>
<circle cx="188.4" cy="448.9" r="2.25" fill="#fff"/>
<circle cx="184.0" cy="451.9" r="2.25" fill="#fff"/>
<circle cx="179.7" cy="454.1" r="2.25" fill="#fff"/>
<circle cx="185.5" cy="459.2" r="2.25" fill="#fff"/>
<circle cx="181.1" cy="462.9" r="2.25" fill="#fff"/>
<circle cx="175.3" cy="460.7" r="2.25" fill="#fff"/>
<circle cx="173.1" cy="454.1" r="2.25" fill="#fff"/>
<circle cx="175.3" cy="457.0" r="2.25" fill="#fff"/>
<circle cx="170.2" cy="457.0" r="2.25" fill="#fff"/>
<circle cx="164.4" cy="452.6" r="2.25" fill="#fff"/>
<circle cx="165.8" cy="459.2" r="2.25" fill="#fff"/>
<circle cx="162.2" cy="465.1" r="2.25" fill="#fff"/>
<circle cx="166.5" cy="466.5" r="2.25" fill="#fff"/>
<circle cx="169.5" cy="468.7" r="2.25" fill="#fff"/>
<circle cx="174.6" cy="468.7" r="2.25" fill="#fff"/>
<circle cx="170.9" cy="473.2" r="2.25" fill="#fff"/>
<circle cx="178.2" cy="465.8" r="2.25" fill="#fff"/>
<circle cx="155.6" cy="455.5" r="2.25" fill="#fff"/>
<circle cx="144.0" cy="449.7" r="2.25" fill="#fff"/>
<circle cx="146.1" cy="452.6" r="2.25" fill="#fff"/>
<circle cx="149.1" cy="454.1" r="2.25" fill="#fff"/>
<circle cx="146.1" cy="456.3" r="2.25" fill="#fff"/>
<circle cx="148.3" cy="459.9" r="2.25" fill="#fff"/>
<circle cx="146.1" cy="462.9" r="2.25" fill="#fff"/>
<circle cx="152.0" cy="465.1" r="2.25" fill="#fff"/>
<circle cx="153.4" cy="468.7" r="2.25" fill="#fff"/>
<circle cx="145.4" cy="468.7" r="2.25" fill="#fff"/>
<circle cx="145.4" cy="473.2" r="2.25" fill="#fff"/>
<circle cx="154.2" cy="475.4" r="2.25" fill="#fff"/>
<circle cx="146.1" cy="478.3" r="2.25" fill="#fff"/>
<circle cx="160.0" cy="480.5" r="2.25" fill="#fff"/>
<circle cx="164.4" cy="481.2" r="2.25" fill="#fff"/>
<circle cx="157.1" cy="486.4" r="2.25" fill="#fff"/>
<circle cx="142.5" cy="483.4" r="2.25" fill="#fff"/>
<circle cx="143.2" cy="487.1" r="2.25" fill="#fff"/>
<circle cx="149.1" cy="487.1" r="2.25" fill="#fff"/>
<circle cx="142.5" cy="491.5" r="2.25" fill="#fff"/>
<circle cx="146.1" cy="490.8" r="2.25" fill="#fff"/>
<circle cx="144.7" cy="498.9" r="2.25" fill="#fff"/>
<circle cx="149.8" cy="498.9" r="2.25" fill="#fff"/>
<circle cx="144.0" cy="507.7" r="2.25" fill="#fff"/>
<circle cx="145.4" cy="513.5" r="2.25" fill="#fff"/>
<circle cx="149.1" cy="517.9" r="2.25" fill="#fff"/>
<circle cx="119.9" cy="414.4" r="2.25" fill="#fff"/>
<circle cx="125.0" cy="414.4" r="2.25" fill="#fff"/>
<circle cx="128.7" cy="419.5" r="2.25" fill="#fff"/>
<circle cx="131.6" cy="415.9" r="2.25" fill="#fff"/>
<circle cx="134.5" cy="420.3" r="2.25" fill="#fff"/>
<circle cx="138.9" cy="421.0" r="2.25" fill="#fff"/>
<circle cx="141.0" cy="418.1" r="2.25" fill="#fff"/>
<circle cx="144.7" cy="418.8" r="2.25" fill="#fff"/>
<circle cx="149.8" cy="418.8" r="2.25" fill="#fff"/>
<circle cx="154.9" cy="417.3" r="2.25" fill="#fff"/>
<circle cx="157.1" cy="421.0" r="2.25" fill="#fff"/>
<circle cx="159.3" cy="414.4" r="2.25" fill="#fff"/>
<circle cx="162.9" cy="415.9" r="2.25" fill="#fff"/>
<circle cx="139.6" cy="425.4" r="2.25" fill="#fff"/>
<circle cx="143.2" cy="426.2" r="2.25" fill="#fff"/>
<circle cx="35.4" cy="404.8" r="2.25" fill="#fff"/>
<circle cx="38.0" cy="406.3" r="2.25" fill="#fff"/>
<circle cx="78.6" cy="371.8" r="2.25" fill="#fff"/>
<circle cx="77.4" cy="379.0" r="2.25" fill="#fff"/>
<circle cx="85.1" cy="385.6" r="2.25" fill="#fff"/>
<circle cx="88.1" cy="382.0" r="2.25" fill="#fff"/>
<circle cx="92.9" cy="374.8" r="2.25" fill="#fff"/>
<circle cx="97.6" cy="377.2" r="2.25" fill="#fff"/>
<circle cx="100.0" cy="376.0" r="2.25" fill="#fff"/>
<circle cx="103.6" cy="376.0" r="2.25" fill="#fff"/>
<circle cx="94.1" cy="388.6" r="2.25" fill="#fff"/>
<circle cx="94.1" cy="392.8" r="2.25" fill="#fff"/>
<circle cx="100.0" cy="389.2" r="2.25" fill="#fff"/>
<circle cx="104.8" cy="388.6" r="2.25" fill="#fff"/>
<circle cx="100.0" cy="393.4" r="2.25" fill="#fff"/>
<circle cx="103.6" cy="398.2" r="2.25" fill="#fff"/>
<circle cx="95.2" cy="401.2" r="2.25" fill="#fff"/>
<circle cx="100.0" cy="401.2" r="2.25" fill="#fff"/>
<circle cx="101.2" cy="404.8" r="2.25" fill="#fff"/>
<circle cx="106.0" cy="408.5" r="2.25" fill="#fff"/>
<circle cx="107.2" cy="402.4" r="2.25" fill="#fff"/>
<circle cx="110.1" cy="397.6" r="2.25" fill="#fff"/>
<circle cx="153.9" cy="388.0" r="2.25" fill="#fff"/>
<circle cx="201.6" cy="377.8" r="2.25" fill="#fff"/>
<circle cx="205.1" cy="380.8" r="2.25" fill="#fff"/>
<circle cx="215.3" cy="386.8" r="2.25" fill="#fff"/>
<circle cx="215.9" cy="394.6" r="2.25" fill="#fff"/>
<circle cx="212.3" cy="393.4" r="2.25" fill="#fff"/>
<circle cx="221.8" cy="391.6" r="2.25" fill="#fff"/>
<circle cx="225.4" cy="372.4" r="2.25" fill="#fff"/>
<circle cx="229.0" cy="380.8" r="2.25" fill="#fff"/>
<circle cx="233.7" cy="384.4" r="2.25" fill="#fff"/>
<circle cx="226.6" cy="389.2" r="2.25" fill="#fff"/>
<circle cx="236.1" cy="377.2" r="2.25" fill="#fff"/>
<circle cx="238.5" cy="372.4" r="2.25" fill="#fff"/>
<circle cx="206.9" cy="410.3" r="2.25" fill="#fff"/>
<circle cx="216.5" cy="408.5" r="2.25" fill="#fff"/>
<circle cx="214.7" cy="414.5" r="2.25" fill="#fff"/>
<circle cx="220.0" cy="420.5" r="2.25" fill="#fff"/>
<circle cx="223.6" cy="424.7" r="2.25" fill="#fff"/>
<circle cx="226.6" cy="416.3" r="2.25" fill="#fff"/>
<circle cx="234.3" cy="416.3" r="2.25" fill="#fff"/>
<circle cx="231.4" cy="425.3" r="2.25" fill="#fff"/>
<circle cx="238.5" cy="422.9" r="2.25" fill="#fff"/>
<circle cx="236.1" cy="426.5" r="2.25" fill="#fff"/>
<circle cx="155.1" cy="408.5" r="2.25" fill="#fff"/>
<circle cx="158.6" cy="414.5" r="2.25" fill="#fff"/>
<circle cx="162.2" cy="416.3" r="2.25" fill="#fff"/>
<circle cx="165.8" cy="425.3" r="2.25" fill="#fff"/>
<circle cx="170.6" cy="426.5" r="2.25" fill="#fff"/>
<circle cx="155.1" cy="418.1" r="2.25" fill="#fff"/>
<circle cx="156.3" cy="421.7" r="2.25" fill="#fff"/>
<circle cx="151.5" cy="419.3" r="2.25" fill="#fff"/>
<circle cx="158.6" cy="428.9" r="2.25" fill="#fff"/>
<circle cx="159.8" cy="436.7" r="2.25" fill="#fff"/>
<circle cx="166.4" cy="435.5" r="2.25" fill="#fff"/>
<circle cx="171.2" cy="432.5" r="2.25" fill="#fff"/>
<circle cx="174.7" cy="434.3" r="2.25" fill="#fff"/>
<circle cx="178.9" cy="435.5" r="2.25" fill="#fff"/>
<circle cx="173.5" cy="439.7" r="2.25" fill="#fff"/>
<circle cx="181.9" cy="439.1" r="2.25" fill="#fff"/>
<circle cx="186.1" cy="437.3" r="2.25" fill="#fff"/>
<circle cx="190.8" cy="439.1" r="2.25" fill="#fff"/>
<circle cx="192.0" cy="443.3" r="2.25" fill="#fff"/>
<circle cx="184.9" cy="444.5" r="2.25" fill="#fff"/>
<circle cx="174.7" cy="445.7" r="2.25" fill="#fff"/>
<circle cx="155.1" cy="443.3" r="2.25" fill="#fff"/>
<circle cx="188.4" cy="448.1" r="2.25" fill="#fff"/>
<circle cx="207.5" cy="323.5" r="2.25" fill="#fff"/>
<circle cx="261.1" cy="304.6" r="2.25" fill="#fff"/>
<circle cx="267.0" cy="303.3" r="2.25" fill="#fff"/>
<circle cx="257.9" cy="309.7" r="2.25" fill="#fff"/>
<circle cx="254.7" cy="313.9" r="2.25" fill="#fff"/>
<circle cx="289.2" cy="321.8" r="2.25" fill="#fff"/>
<circle cx="269.8" cy="315.5" r="2.25" fill="#fff"/>
<circle cx="250.8" cy="325.4" r="2.25" fill="#fff"/>
<circle cx="246.0" cy="327.0" r="2.25" fill="#fff"/>
<circle cx="243.6" cy="331.8" r="2.25" fill="#fff"/>
<circle cx="265.1" cy="326.2" r="2.25" fill="#fff"/>
<circle cx="273.0" cy="327.0" r="2.25" fill="#fff"/>
<circle cx="276.2" cy="335.1" r="2.25" fill="#fff"/>
<circle cx="269.0" cy="336.7" r="2.25" fill="#fff"/>
<circle cx="260.3" cy="340.7" r="2.25" fill="#fff"/>
<circle cx="250.8" cy="336.7" r="2.25" fill="#fff"/>
<circle cx="242.8" cy="337.5" r="2.25" fill="#fff"/>
<circle cx="230.9" cy="344.7" r="2.25" fill="#fff"/>
<circle cx="225.3" cy="350.3" r="2.25" fill="#fff"/>
<circle cx="237.2" cy="353.5" r="2.25" fill="#fff"/>
<circle cx="269.0" cy="347.1" r="2.25" fill="#fff"/>
<circle cx="274.6" cy="349.5" r="2.25" fill="#fff"/>
<circle cx="292.9" cy="343.9" r="2.25" fill="#fff"/>
<circle cx="300.0" cy="345.5" r="2.25" fill="#fff"/>
<circle cx="308.8" cy="339.9" r="2.25" fill="#fff"/>
<circle cx="308.0" cy="347.9" r="2.25" fill="#fff"/>
<circle cx="308.0" cy="354.3" r="2.25" fill="#fff"/>
<circle cx="295.3" cy="353.5" r="2.25" fill="#fff"/>
<circle cx="287.3" cy="354.3" r="2.25" fill="#fff"/>
<circle cx="225.3" cy="371.9" r="2.25" fill="#fff"/>
<circle cx="233.3" cy="360.7" r="2.25" fill="#fff"/>
<circle cx="238.0" cy="369.5" r="2.25" fill="#fff"/>
<circle cx="264.3" cy="353.5" r="2.25" fill="#fff"/>
<circle cx="276.2" cy="355.9" r="2.25" fill="#fff"/>
<circle cx="281.0" cy="367.1" r="2.25" fill="#fff"/>
<circle cx="287.3" cy="362.3" r="2.25" fill="#fff"/>
<circle cx="293.7" cy="359.9" r="2.25" fill="#fff"/>
<circle cx="298.4" cy="365.5" r="2.25" fill="#fff"/>
<circle cx="304.8" cy="362.3" r="2.25" fill="#fff"/>
<circle cx="301.6" cy="370.3" r="2.25" fill="#fff"/>
<circle cx="292.1" cy="368.7" r="2.25" fill="#fff"/>
<circle cx="279.4" cy="375.1" r="2.25" fill="#fff"/>
<circle cx="273.0" cy="370.3" r="2.25" fill="#fff"/>
<circle cx="263.5" cy="378.3" r="2.25" fill="#fff"/>
<circle cx="253.9" cy="378.3" r="2.25" fill="#fff"/>
<circle cx="243.6" cy="370.3" r="2.25" fill="#fff"/>
<circle cx="233.3" cy="378.3" r="2.25" fill="#fff"/>
<circle cx="228.5" cy="381.5" r="2.25" fill="#fff"/>
<circle cx="203.1" cy="377.5" r="2.25" fill="#fff"/>
<circle cx="215.8" cy="383.9" r="2.25" fill="#fff"/>
<circle cx="311.1" cy="377.5" r="2.25" fill="#fff"/>
<circle cx="317.5" cy="381.5" r="2.25" fill="#fff"/>
<circle cx="295.3" cy="378.3" r="2.25" fill="#fff"/>
<circle cx="287.3" cy="376.7" r="2.25" fill="#fff"/>
<circle cx="247.6" cy="343.1" r="2.25" fill="#fff"/>
<circle cx="260.3" cy="347.9" r="2.25" fill="#fff"/>
<circle cx="241.2" cy="359.1" r="2.25" fill="#fff"/>
<circle cx="266.6" cy="362.3" r="2.25" fill="#fff"/>
<circle cx="252.3" cy="368.7" r="2.25" fill="#fff"/>
<circle cx="231.7" cy="365.5" r="2.25" fill="#fff"/>
<circle cx="271.4" cy="383.1" r="2.25" fill="#fff"/>
<circle cx="282.5" cy="383.1" r="2.25" fill="#fff"/>
<circle cx="223.7" cy="359.1" r="2.25" fill="#fff"/>
<circle cx="203.1" cy="379.0" r="2.25" fill="#fff"/>
<circle cx="215.0" cy="387.0" r="2.25" fill="#fff"/>
<circle cx="215.0" cy="394.2" r="2.25" fill="#fff"/>
<circle cx="222.1" cy="391.0" r="2.25" fill="#fff"/>
<circle cx="228.5" cy="381.4" r="2.25" fill="#fff"/>
<circle cx="234.9" cy="378.2" r="2.25" fill="#fff"/>
<circle cx="242.8" cy="381.4" r="2.25" fill="#fff"/>
<circle cx="252.3" cy="378.2" r="2.25" fill="#fff"/>
<circle cx="263.5" cy="379.8" r="2.25" fill="#fff"/>
<circle cx="273.0" cy="381.4" r="2.25" fill="#fff"/>
<circle cx="284.1" cy="377.4" r="2.25" fill="#fff"/>
<circle cx="293.7" cy="379.0" r="2.25" fill="#fff"/>
<circle cx="301.6" cy="376.6" r="2.25" fill="#fff"/>
<circle cx="311.1" cy="378.2" r="2.25" fill="#fff"/>
<circle cx="314.3" cy="383.0" r="2.25" fill="#fff"/>
<circle cx="255.5" cy="395.8" r="2.25" fill="#fff"/>
<circle cx="262.7" cy="388.6" r="2.25" fill="#fff"/>
<circle cx="253.9" cy="387.0" r="2.25" fill="#fff"/>
<circle cx="274.6" cy="390.2" r="2.25" fill="#fff"/>
<circle cx="282.5" cy="389.4" r="2.25" fill="#fff"/>
<circle cx="293.7" cy="388.6" r="2.25" fill="#fff"/>
<circle cx="314.3" cy="391.8" r="2.25" fill="#fff"/>
<circle cx="285.7" cy="399.8" r="2.25" fill="#fff"/>
<circle cx="296.8" cy="399.0" r="2.25" fill="#fff"/>
<circle cx="312.7" cy="402.2" r="2.25" fill="#fff"/>
<circle cx="277.8" cy="399.0" r="2.25" fill="#fff"/>
<circle cx="288.9" cy="405.4" r="2.25" fill="#fff"/>
<circle cx="293.7" cy="412.6" r="2.25" fill="#fff"/>
<circle cx="306.4" cy="409.4" r="2.25" fill="#fff"/>
<circle cx="278.6" cy="411.8" r="2.25" fill="#fff"/>
<circle cx="286.5" cy="412.6" r="2.25" fill="#fff"/>
<circle cx="286.5" cy="420.7" r="2.25" fill="#fff"/>
<circle cx="295.3" cy="417.5" r="2.25" fill="#fff"/>
<circle cx="207.1" cy="410.2" r="2.25" fill="#fff"/>
<circle cx="215.8" cy="407.8" r="2.25" fill="#fff"/>
<circle cx="214.2" cy="414.3" r="2.25" fill="#fff"/>
<circle cx="226.1" cy="415.9" r="2.25" fill="#fff"/>
<circle cx="234.9" cy="416.7" r="2.25" fill="#fff"/>
<circle cx="239.6" cy="414.3" r="2.25" fill="#fff"/>
<circle cx="247.6" cy="416.7" r="2.25" fill="#fff"/>
<circle cx="256.3" cy="416.7" r="2.25" fill="#fff"/>
<circle cx="219.8" cy="420.7" r="2.25" fill="#fff"/>
<circle cx="223.7" cy="424.7" r="2.25" fill="#fff"/>
<circle cx="231.7" cy="425.5" r="2.25" fill="#fff"/>
<circle cx="238.0" cy="423.9" r="2.25" fill="#fff"/>
<circle cx="246.0" cy="425.5" r="2.25" fill="#fff"/>
<circle cx="252.3" cy="427.9" r="2.25" fill="#fff"/>
<circle cx="249.2" cy="431.9" r="2.25" fill="#fff"/>
<circle cx="252.3" cy="438.3" r="2.25" fill="#fff"/>
<circle cx="257.9" cy="437.5" r="2.25" fill="#fff"/>
<circle cx="253.9" cy="444.7" r="2.25" fill="#fff"/>
<circle cx="277.0" cy="426.3" r="2.25" fill="#fff"/>
<circle cx="273.8" cy="435.1" r="2.25" fill="#fff"/>
<circle cx="279.4" cy="435.9" r="2.25" fill="#fff"/>
<circle cx="284.1" cy="433.5" r="2.25" fill="#fff"/>
<circle cx="287.3" cy="440.7" r="2.25" fill="#fff"/>
<circle cx="308.0" cy="438.3" r="2.25" fill="#fff"/>
<circle cx="269.8" cy="455.9" r="2.25" fill="#fff"/>
<circle cx="274.6" cy="451.9" r="2.25" fill="#fff"/>
<circle cx="277.8" cy="456.7" r="2.25" fill="#fff"/>
<circle cx="259.5" cy="461.5" r="2.25" fill="#fff"/>
<circle cx="297.6" cy="457.5" r="2.25" fill="#fff"/>
<circle cx="308.8" cy="459.9" r="2.25" fill="#fff"/>
<circle cx="312.7" cy="458.3" r="2.25" fill="#fff"/>
<circle cx="272.2" cy="462.3" r="2.25" fill="#fff"/>
<circle cx="225.3" cy="383.0" r="2.25" fill="#fff"/>
<circle cx="239.6" cy="386.2" r="2.25" fill="#fff"/>
<circle cx="253.5" cy="444.8" r="2.25" fill="#fff"/>
<circle cx="251.9" cy="440.0" r="2.25" fill="#fff"/>
<circle cx="258.3" cy="440.0" r="2.25" fill="#fff"/>
<circle cx="274.2" cy="440.0" r="2.25" fill="#fff"/>
<circle cx="286.9" cy="441.6" r="2.25" fill="#fff"/>
<circle cx="308.3" cy="440.0" r="2.25" fill="#fff"/>
<circle cx="259.1" cy="462.4" r="2.25" fill="#fff"/>
<circle cx="269.4" cy="456.0" r="2.25" fill="#fff"/>
<circle cx="274.2" cy="452.0" r="2.25" fill="#fff"/>
<circle cx="278.1" cy="456.0" r="2.25" fill="#fff"/>
<circle cx="269.4" cy="464.0" r="2.25" fill="#fff"/>
<circle cx="279.7" cy="466.4" r="2.25" fill="#fff"/>
<circle cx="277.3" cy="472.8" r="2.25" fill="#fff"/>
<circle cx="268.6" cy="471.2" r="2.25" fill="#fff"/>
<circle cx="259.9" cy="479.3" r="2.25" fill="#fff"/>
<circle cx="264.6" cy="479.3" r="2.25" fill="#fff"/>
<circle cx="270.2" cy="479.3" r="2.25" fill="#fff"/>
<circle cx="274.2" cy="476.8" r="2.25" fill="#fff"/>
<circle cx="298.0" cy="457.3" r="2.25" fill="#fff"/>
<circle cx="308.3" cy="460.0" r="2.25" fill="#fff"/>
<circle cx="312.3" cy="459.2" r="2.25" fill="#fff"/>
<circle cx="349.2" cy="305.9" r="2.25" fill="#fff"/>
<circle cx="322.5" cy="315.5" r="2.25" fill="#fff"/>
<circle cx="335.3" cy="317.1" r="2.25" fill="#fff"/>
<circle cx="331.2" cy="331.0" r="2.25" fill="#fff"/>
<circle cx="335.7" cy="332.2" r="2.25" fill="#fff"/>
<circle cx="403.7" cy="329.0" r="2.25" fill="#fff"/>
<circle cx="308.6" cy="339.9" r="2.25" fill="#fff"/>
<circle cx="321.0" cy="341.5" r="2.25" fill="#fff"/>
<circle cx="301.5" cy="344.7" r="2.25" fill="#fff"/>
<circle cx="308.6" cy="347.9" r="2.25" fill="#fff"/>
<circle cx="302.3" cy="351.1" r="2.25" fill="#fff"/>
<circle cx="308.6" cy="354.3" r="2.25" fill="#fff"/>
<circle cx="303.9" cy="362.3" r="2.25" fill="#fff"/>
<circle cx="302.3" cy="369.5" r="2.25" fill="#fff"/>
<circle cx="301.5" cy="375.1" r="2.25" fill="#fff"/>
<circle cx="311.8" cy="378.3" r="2.25" fill="#fff"/>
<circle cx="315.0" cy="381.5" r="2.25" fill="#fff"/>
<circle cx="330.9" cy="346.6" r="2.25" fill="#fff"/>
<circle cx="329.0" cy="355.6" r="2.25" fill="#fff"/>
<circle cx="342.8" cy="347.1" r="2.25" fill="#fff"/>
<circle cx="346.5" cy="343.4" r="2.25" fill="#fff"/>
<circle cx="355.8" cy="344.2" r="2.25" fill="#fff"/>
<circle cx="390.8" cy="359.1" r="2.25" fill="#fff"/>
<circle cx="332.5" cy="369.5" r="2.25" fill="#fff"/>
<circle cx="341.2" cy="369.0" r="2.25" fill="#fff"/>
<circle cx="340.1" cy="373.5" r="2.25" fill="#fff"/>
<circle cx="334.4" cy="376.7" r="2.25" fill="#fff"/>
<circle cx="339.6" cy="380.7" r="2.25" fill="#fff"/>
<circle cx="330.1" cy="381.5" r="2.25" fill="#fff"/>
<circle cx="322.9" cy="379.9" r="2.25" fill="#fff"/>
<circle cx="349.2" cy="369.0" r="2.25" fill="#fff"/>
<circle cx="347.6" cy="373.5" r="2.25" fill="#fff"/>
<circle cx="363.5" cy="375.9" r="2.25" fill="#fff"/>
<circle cx="367.8" cy="381.5" r="2.25" fill="#fff"/>
<circle cx="373.8" cy="375.9" r="2.25" fill="#fff"/>
<circle cx="378.6" cy="378.3" r="2.25" fill="#fff"/>
<circle cx="384.9" cy="374.3" r="2.25" fill="#fff"/>
<circle cx="388.1" cy="378.3" r="2.25" fill="#fff"/>
<circle cx="400.0" cy="378.3" r="2.25" fill="#fff"/>
<circle cx="416.7" cy="371.9" r="2.25" fill="#fff"/>
<circle cx="410.3" cy="381.5" r="2.25" fill="#fff"/>
<circle cx="311.8" cy="377.4" r="2.25" fill="#fff"/>
<circle cx="314.2" cy="382.2" r="2.25" fill="#fff"/>
<circle cx="315.0" cy="392.6" r="2.25" fill="#fff"/>
<circle cx="312.6" cy="401.4" r="2.25" fill="#fff"/>
<circle cx="306.3" cy="410.2" r="2.25" fill="#fff"/>
<circle cx="305.5" cy="391.0" r="2.25" fill="#fff"/>
<circle cx="319.8" cy="379.8" r="2.25" fill="#fff"/>
<circle cx="326.1" cy="376.6" r="2.25" fill="#fff"/>
<circle cx="326.1" cy="384.6" r="2.25" fill="#fff"/>
<circle cx="333.3" cy="385.4" r="2.25" fill="#fff"/>
<circle cx="330.9" cy="399.0" r="2.25" fill="#fff"/>
<circle cx="337.2" cy="391.0" r="2.25" fill="#fff"/>
<circle cx="343.6" cy="398.2" r="2.25" fill="#fff"/>
<circle cx="348.4" cy="396.6" r="2.25" fill="#fff"/>
<circle cx="351.5" cy="400.6" r="2.25" fill="#fff"/>
<circle cx="330.9" cy="408.6" r="2.25" fill="#fff"/>
<circle cx="340.4" cy="403.8" r="2.25" fill="#fff"/>
<circle cx="343.6" cy="409.4" r="2.25" fill="#fff"/>
<circle cx="346.8" cy="405.4" r="2.25" fill="#fff"/>
<circle cx="337.2" cy="418.3" r="2.25" fill="#fff"/>
<circle cx="334.1" cy="423.1" r="2.25" fill="#fff"/>
<circle cx="330.9" cy="427.1" r="2.25" fill="#fff"/>
<circle cx="338.8" cy="380.6" r="2.25" fill="#fff"/>
<circle cx="334.9" cy="376.6" r="2.25" fill="#fff"/>
<circle cx="356.3" cy="405.4" r="2.25" fill="#fff"/>
<circle cx="358.7" cy="403.8" r="2.25" fill="#fff"/>
<circle cx="355.5" cy="417.5" r="2.25" fill="#fff"/>
<circle cx="362.7" cy="415.1" r="2.25" fill="#fff"/>
<circle cx="372.2" cy="413.4" r="2.25" fill="#fff"/>
<circle cx="358.7" cy="376.6" r="2.25" fill="#fff"/>
<circle cx="367.4" cy="381.4" r="2.25" fill="#fff"/>
<circle cx="373.8" cy="376.6" r="2.25" fill="#fff"/>
<circle cx="378.6" cy="379.0" r="2.25" fill="#fff"/>
<circle cx="387.3" cy="376.6" r="2.25" fill="#fff"/>
<circle cx="413.5" cy="381.4" r="2.25" fill="#fff"/>
<circle cx="416.7" cy="384.6" r="2.25" fill="#fff"/>
<circle cx="370.6" cy="387.8" r="2.25" fill="#fff"/>
<circle cx="377.0" cy="386.2" r="2.25" fill="#fff"/>
<circle cx="396.0" cy="390.2" r="2.25" fill="#fff"/>
<circle cx="394.5" cy="399.0" r="2.25" fill="#fff"/>
<circle cx="381.7" cy="399.0" r="2.25" fill="#fff"/>
<circle cx="377.0" cy="395.8" r="2.25" fill="#fff"/>
<circle cx="370.6" cy="394.2" r="2.25" fill="#fff"/>
<circle cx="365.8" cy="397.4" r="2.25" fill="#fff"/>
<circle cx="363.5" cy="399.0" r="2.25" fill="#fff"/>
<circle cx="375.4" cy="404.6" r="2.25" fill="#fff"/>
<circle cx="382.5" cy="403.8" r="2.25" fill="#fff"/>
<circle cx="391.3" cy="403.8" r="2.25" fill="#fff"/>
<circle cx="396.0" cy="415.1" r="2.25" fill="#fff"/>
<circle cx="394.5" cy="419.9" r="2.25" fill="#fff"/>
<circle cx="399.2" cy="421.5" r="2.25" fill="#fff"/>
<circle cx="378.6" cy="423.1" r="2.25" fill="#fff"/>
<circle cx="397.6" cy="427.9" r="2.25" fill="#fff"/>
<circle cx="400.8" cy="431.1" r="2.25" fill="#fff"/>
<circle cx="394.5" cy="431.1" r="2.25" fill="#fff"/>
<circle cx="394.5" cy="436.7" r="2.25" fill="#fff"/>
<circle cx="400.8" cy="436.7" r="2.25" fill="#fff"/>
<circle cx="378.6" cy="439.1" r="2.25" fill="#fff"/>
<circle cx="377.0" cy="443.9" r="2.25" fill="#fff"/>
<circle cx="396.0" cy="445.5" r="2.25" fill="#fff"/>
<circle cx="404.8" cy="448.7" r="2.25" fill="#fff"/>
<circle cx="416.7" cy="435.9" r="2.25" fill="#fff"/>
<circle cx="415.9" cy="459.1" r="2.25" fill="#fff"/>
<circle cx="307.8" cy="438.3" r="2.25" fill="#fff"/>
<circle cx="310.2" cy="458.3" r="2.25" fill="#fff"/>
<circle cx="307.0" cy="459.9" r="2.25" fill="#fff"/>
<circle cx="300.7" cy="456.7" r="2.25" fill="#fff"/>
<circle cx="388.1" cy="458.3" r="2.25" fill="#fff"/>
<circle cx="394.5" cy="455.9" r="2.25" fill="#fff"/>
<circle cx="391.3" cy="463.1" r="2.25" fill="#fff"/>
<circle cx="384.9" cy="459.9" r="2.25" fill="#fff"/>
<circle cx="408.8" cy="462.3" r="2.25" fill="#fff"/>
<circle cx="403.6" cy="329.0" r="2.25" fill="#fff"/>
<circle cx="430.4" cy="334.8" r="2.25" fill="#fff"/>
<circle cx="440.4" cy="350.8" r="2.25" fill="#fff"/>
<circle cx="390.8" cy="359.1" r="2.25" fill="#fff"/>
<circle cx="402.3" cy="371.1" r="2.25" fill="#fff"/>
<circle cx="380.4" cy="374.4" r="2.25" fill="#fff"/>
<circle cx="387.7" cy="377.1" r="2.25" fill="#fff"/>
<circle cx="399.7" cy="378.4" r="2.25" fill="#fff"/>
<circle cx="413.6" cy="380.4" r="2.25" fill="#fff"/>
<circle cx="418.2" cy="374.4" r="2.25" fill="#fff"/>
<circle cx="418.9" cy="382.4" r="2.25" fill="#fff"/>
<circle cx="380.4" cy="374.0" r="2.25" fill="#fff"/>
<circle cx="387.1" cy="376.7" r="2.25" fill="#fff"/>
<circle cx="399.7" cy="378.0" r="2.25" fill="#fff"/>
<circle cx="413.6" cy="381.3" r="2.25" fill="#fff"/>
<circle cx="418.2" cy="383.4" r="2.25" fill="#fff"/>
<circle cx="404.9" cy="387.4" r="2.25" fill="#fff"/>
<circle cx="386.4" cy="384.7" r="2.25" fill="#fff"/>
<circle cx="391.0" cy="392.7" r="2.25" fill="#fff"/>
<circle cx="382.4" cy="403.4" r="2.25" fill="#fff"/>
<circle cx="394.4" cy="398.7" r="2.25" fill="#fff"/>
<circle cx="391.7" cy="407.4" r="2.25" fill="#fff"/>
<circle cx="395.7" cy="416.7" r="2.25" fill="#fff"/>
<circle cx="398.3" cy="424.7" r="2.25" fill="#fff"/>
<circle cx="397.0" cy="430.1" r="2.25" fill="#fff"/>
<circle cx="400.3" cy="431.4" r="2.25" fill="#fff"/>
<circle cx="386.4" cy="438.8" r="2.25" fill="#fff"/>
<circle cx="395.0" cy="438.1" r="2.25" fill="#fff"/>
<circle cx="401.6" cy="437.4" r="2.25" fill="#fff"/>
<circle cx="395.7" cy="445.4" r="2.25" fill="#fff"/>
<circle cx="422.8" cy="415.4" r="2.25" fill="#fff"/>
<circle cx="417.5" cy="435.7" r="2.25" fill="#fff"/>
<circle cx="425.5" cy="440.1" r="2.25" fill="#fff"/>
<circle cx="404.9" cy="448.8" r="2.25" fill="#fff"/>
<circle cx="391.0" cy="455.4" r="2.25" fill="#fff"/>
<circle cx="395.0" cy="455.4" r="2.25" fill="#fff"/>
<circle cx="385.7" cy="458.1" r="2.25" fill="#fff"/>
<circle cx="426.8" cy="457.4" r="2.25" fill="#fff"/>
<circle cx="416.2" cy="458.8" r="2.25" fill="#fff"/>
<circle cx="453.3" cy="455.4" r="2.25" fill="#fff"/>
<circle cx="395.5" cy="445.9" r="2.25" fill="#fff"/>
<circle cx="405.0" cy="448.5" r="2.25" fill="#fff"/>
<circle cx="386.0" cy="459.1" r="2.25" fill="#fff"/>
<circle cx="389.7" cy="458.4" r="2.25" fill="#fff"/>
<circle cx="394.5" cy="455.9" r="2.25" fill="#fff"/>
<circle cx="390.7" cy="463.5" r="2.25" fill="#fff"/>
<circle cx="393.3" cy="474.5" r="2.25" fill="#fff"/>
<circle cx="408.9" cy="464.2" r="2.25" fill="#fff"/>
<circle cx="416.2" cy="459.5" r="2.25" fill="#fff"/>
<circle cx="425.4" cy="458.4" r="2.25" fill="#fff"/>
<circle cx="428.3" cy="460.6" r="2.25" fill="#fff"/>
<circle cx="430.5" cy="463.5" r="2.25" fill="#fff"/>
<circle cx="426.8" cy="462.8" r="2.25" fill="#fff"/>
<circle cx="435.6" cy="473.8" r="2.25" fill="#fff"/>
<circle cx="428.3" cy="481.9" r="2.25" fill="#fff"/>
<circle cx="414.9" cy="480.8" r="2.25" fill="#fff"/>
<circle cx="422.7" cy="485.2" r="2.25" fill="#fff"/>
<circle cx="426.1" cy="491.4" r="2.25" fill="#fff"/>
<circle cx="426.8" cy="495.1" r="2.25" fill="#fff"/>
<circle cx="453.0" cy="455.4" r="2.25" fill="#fff"/>
<circle cx="460.3" cy="487.0" r="2.25" fill="#fff"/>
<circle cx="464.7" cy="487.7" r="2.25" fill="#fff"/>
<circle cx="461.8" cy="491.4" r="2.25" fill="#fff"/>
<circle cx="458.1" cy="495.5" r="2.25" fill="#fff"/>
<circle cx="454.5" cy="498.0" r="2.25" fill="#fff"/>
<circle cx="111.9" cy="357.4" r="2.25" fill="#fff"/>
<circle cx="121.9" cy="360.1" r="2.25" fill="#fff"/>
<circle cx="127.8" cy="364.1" r="2.25" fill="#fff"/>
<circle cx="133.1" cy="362.7" r="2.25" fill="#fff"/>
<circle cx="142.4" cy="366.1" r="2.25" fill="#fff"/>
<circle cx="146.4" cy="362.7" r="2.25" fill="#fff"/>
<circle cx="147.0" cy="370.7" r="2.25" fill="#fff"/>
<circle cx="153.7" cy="364.7" r="2.25" fill="#fff"/>
<circle cx="156.3" cy="368.1" r="2.25" fill="#fff"/>
<circle cx="141.1" cy="376.1" r="2.25" fill="#fff"/>
<circle cx="137.1" cy="380.1" r="2.25" fill="#fff"/>
<circle cx="130.5" cy="375.4" r="2.25" fill="#fff"/>
<circle cx="125.9" cy="372.7" r="2.25" fill="#fff"/>
<circle cx="120.6" cy="377.4" r="2.25" fill="#fff"/>
<circle cx="111.9" cy="362.7" r="2.25" fill="#fff"/>
<circle cx="113.3" cy="373.4" r="2.25" fill="#fff"/>
<circle cx="115.9" cy="382.1" r="2.25" fill="#fff"/>
<circle cx="121.2" cy="384.1" r="2.25" fill="#fff"/>
<circle cx="126.5" cy="378.7" r="2.25" fill="#fff"/>
<circle cx="128.5" cy="382.8" r="2.25" fill="#fff"/>
<circle cx="132.5" cy="387.4" r="2.25" fill="#fff"/>
<circle cx="125.2" cy="390.8" r="2.25" fill="#fff"/>
<circle cx="116.6" cy="388.1" r="2.25" fill="#fff"/>
<circle cx="131.1" cy="394.1" r="2.25" fill="#fff"/>
<circle cx="138.4" cy="397.4" r="2.25" fill="#fff"/>
<circle cx="112.6" cy="394.8" r="2.25" fill="#fff"/>
<circle cx="168.9" cy="362.1" r="2.25" fill="#fff"/>
<circle cx="153.7" cy="387.8" r="2.25" fill="#fff"/>
<circle cx="202.0" cy="377.4" r="2.25" fill="#fff"/>
<circle cx="205.3" cy="380.7" r="2.25" fill="#fff"/>
<circle cx="208.6" cy="323.3" r="2.25" fill="#fff"/>
<circle cx="46.8" cy="320.8" r="2.25" fill="#fff"/>
<circle cx="43.9" cy="331.6" r="2.25" fill="#fff"/>
<circle cx="78.9" cy="348.9" r="2.25" fill="#fff"/>
<circle cx="84.1" cy="346.1" r="2.25" fill="#fff"/>
<circle cx="94.0" cy="342.8" r="2.25" fill="#fff"/>
<circle cx="99.2" cy="352.5" r="2.25" fill="#fff"/>
<circle cx="102.4" cy="356.4" r="2.25" fill="#fff"/>
<circle cx="111.9" cy="357.2" r="2.25" fill="#fff"/>
<circle cx="121.8" cy="360.6" r="2.25" fill="#fff"/>
<circle cx="126.2" cy="367.3" r="2.25" fill="#fff"/>
<circle cx="77.0" cy="357.7" r="2.25" fill="#fff"/>
<circle cx="80.1" cy="364.1" r="2.25" fill="#fff"/>
<circle cx="77.0" cy="367.3" r="2.25" fill="#fff"/>
<circle cx="94.1" cy="342.4" r="2.25" fill="#fff"/>
<circle cx="84.4" cy="345.6" r="2.25" fill="#fff"/>
<circle cx="79.2" cy="348.8" r="2.25" fill="#fff"/>
<circle cx="169.3" cy="361.7" r="2.25" fill="#fff"/>
<circle cx="153.7" cy="387.3" r="2.25" fill="#fff"/>
<circle cx="100.1" cy="352.8" r="2.25" fill="#fff"/>
<circle cx="102.5" cy="356.0" r="2.25" fill="#fff"/>
<circle cx="107.3" cy="360.1" r="2.25" fill="#fff"/>
<circle cx="112.1" cy="356.8" r="2.25" fill="#fff"/>
<circle cx="122.5" cy="359.3" r="2.25" fill="#fff"/>
<circle cx="128.1" cy="363.3" r="2.25" fill="#fff"/>
<circle cx="133.7" cy="362.5" r="2.25" fill="#fff"/>
<circle cx="145.7" cy="363.3" r="2.25" fill="#fff"/>
<circle cx="153.7" cy="364.1" r="2.25" fill="#fff"/>
<circle cx="156.1" cy="367.3" r="2.25" fill="#fff"/>
<circle cx="85.6" cy="385.4" r="2.25" fill="#fff"/>
<circle cx="146.5" cy="406.2" r="2.25" fill="#fff"/>
<circle cx="416.9" cy="434.4" r="2.25" fill="#fff"/>
<circle cx="400.9" cy="436.0" r="2.25" fill="#fff"/>
<circle cx="395.2" cy="444.0" r="2.25" fill="#fff"/>
<circle cx="404.9" cy="447.2" r="2.25" fill="#fff"/>
<circle cx="393.6" cy="454.4" r="2.25" fill="#fff"/>
<circle cx="385.6" cy="458.4" r="2.25" fill="#fff"/>
<circle cx="390.4" cy="462.5" r="2.25" fill="#fff"/>
<circle cx="408.1" cy="462.9" r="2.25" fill="#fff"/>
<circle cx="415.8" cy="458.4" r="2.25" fill="#fff"/>
<circle cx="424.9" cy="456.0" r="2.25" fill="#fff"/>
<circle cx="427.3" cy="460.1" r="2.25" fill="#fff"/>
<circle cx="429.7" cy="462.5" r="2.25" fill="#fff"/>
<circle cx="392.8" cy="472.9" r="2.25" fill="#fff"/>
<circle cx="414.5" cy="479.3" r="2.25" fill="#fff"/>
<circle cx="422.5" cy="484.1" r="2.25" fill="#fff"/>
<circle cx="425.7" cy="489.7" r="2.25" fill="#fff"/>
<circle cx="425.7" cy="492.9" r="2.25" fill="#fff"/>
<circle cx="452.9" cy="454.4" r="2.25" fill="#fff"/>
<circle cx="462.5" cy="485.7" r="2.25" fill="#fff"/>
<circle cx="460.9" cy="489.7" r="2.25" fill="#fff"/>
<circle cx="458.5" cy="493.7" r="2.25" fill="#fff"/>
<circle cx="452.9" cy="496.1" r="2.25" fill="#fff"/>
<circle cx="455.3" cy="498.5" r="2.25" fill="#fff"/>
<circle cx="400.1" cy="430.4" r="2.25" fill="#fff"/>
<circle cx="396.8" cy="423.2" r="2.25" fill="#fff"/>
<circle cx="392.0" cy="426.4" r="2.25" fill="#fff"/>
<circle cx="382.4" cy="431.2" r="2.25" fill="#fff"/>
<circle cx="376.0" cy="434.4" r="2.25" fill="#fff"/>
<circle cx="372.0" cy="437.6" r="2.25" fill="#fff"/>
<circle cx="207.7" cy="323.7" r="2.25" fill="#fff"/>
<circle cx="255.3" cy="312.8" r="2.25" fill="#fff"/>
<circle cx="258.5" cy="308.8" r="2.25" fill="#fff"/>
<circle cx="261.7" cy="304.0" r="2.25" fill="#fff"/>
<circle cx="266.5" cy="303.2" r="2.25" fill="#fff"/>
<circle cx="288.9" cy="321.6" r="2.25" fill="#fff"/>
<circle cx="202.4" cy="377.7" r="2.25" fill="#fff"/>
<circle cx="204.8" cy="379.3" r="2.25" fill="#fff"/>
<circle cx="215.2" cy="386.5" r="2.25" fill="#fff"/>
<circle cx="216.0" cy="392.9" r="2.25" fill="#fff"/>
<circle cx="255.3" cy="395.3" r="2.25" fill="#fff"/>
<circle cx="403.4" cy="329.0" r="2.25" fill="#fff"/>
<circle cx="430.1" cy="334.7" r="2.25" fill="#fff"/>
<circle cx="440.1" cy="350.5" r="2.25" fill="#fff"/>
<circle cx="390.4" cy="358.4" r="2.25" fill="#fff"/>
<circle cx="393.4" cy="368.8" r="2.25" fill="#fff"/>
<circle cx="36.0" cy="404.0" r="2.25" fill="#fff"/>
<circle cx="85.7" cy="385.6" r="2.25" fill="#fff"/>
<circle cx="146.6" cy="405.5" r="2.25" fill="#fff"/>
<circle cx="338.5" cy="417.5" r="2.25" fill="#fff"/>
<circle cx="331.1" cy="425.5" r="2.25" fill="#fff"/>
<circle cx="307.6" cy="437.3" r="2.25" fill="#fff"/>
<circle cx="297.3" cy="455.6" r="2.25" fill="#fff"/>
<circle cx="308.4" cy="458.6" r="2.25" fill="#fff"/>
<circle cx="311.3" cy="457.8" r="2.25" fill="#fff"/>
<circle cx="392.8" cy="472.5" r="2.25" fill="#fff"/>
<circle cx="389.9" cy="457.8" r="2.25" fill="#fff"/>
<circle cx="393.5" cy="454.9" r="2.25" fill="#fff"/>
<circle cx="386.9" cy="458.6" r="2.25" fill="#fff"/>
<circle cx="260.4" cy="368.5" r="2.25" fill="#fff"/>
<circle cx="266.5" cy="371.2" r="2.25" fill="#fff"/>
<circle cx="268.7" cy="321.0" r="2.25" fill="#fff"/>
<circle cx="251.5" cy="358.4" r="2.25" fill="#fff"/>
<circle cx="238.8" cy="393.6" r="2.25" fill="#fff"/>
<circle cx="276.3" cy="343.2" r="2.25" fill="#fff"/>
<circle cx="279.4" cy="351.7" r="2.25" fill="#fff"/>
<circle cx="279.5" cy="362.3" r="2.25" fill="#fff"/>
<circle cx="244.6" cy="390.6" r="2.25" fill="#fff"/>
<circle cx="260.6" cy="317.7" r="2.25" fill="#fff"/>
<circle cx="262.9" cy="332.3" r="2.25" fill="#fff"/>
<circle cx="240.5" cy="348.2" r="2.25" fill="#fff"/>
<circle cx="272.5" cy="362.0" r="2.25" fill="#fff"/>
<circle cx="269.9" cy="354.6" r="2.25" fill="#fff"/>
<circle cx="271.2" cy="375.3" r="2.25" fill="#fff"/>
<circle cx="268.0" cy="388.0" r="2.25" fill="#fff"/>
<circle cx="290.0" cy="382.6" r="2.25" fill="#fff"/>
<circle cx="251.9" cy="331.2" r="2.25" fill="#fff"/>
<circle cx="223.2" cy="376.9" r="2.25" fill="#fff"/>
<circle cx="230.3" cy="353.6" r="2.25" fill="#fff"/>
<circle cx="253.0" cy="346.8" r="2.25" fill="#fff"/>
<circle cx="224.2" cy="366.4" r="2.25" fill="#fff"/>
<circle cx="237.4" cy="343.8" r="2.25" fill="#fff"/>
<circle cx="278.3" cy="406.1" r="2.25" fill="#fff"/>
<circle cx="238.5" cy="363.6" r="2.25" fill="#fff"/>
<circle cx="258.2" cy="374.0" r="2.25" fill="#fff"/>
<circle cx="232.5" cy="370.5" r="2.25" fill="#fff"/>
<circle cx="295.4" cy="373.2" r="2.25" fill="#fff"/>
<circle cx="266.6" cy="341.1" r="2.25" fill="#fff"/>
<circle cx="246.3" cy="376.1" r="2.25" fill="#fff"/>
<circle cx="277.6" cy="384.9" r="2.25" fill="#fff"/>
<circle cx="220.4" cy="381.3" r="2.25" fill="#fff"/>
<circle cx="258.7" cy="355.4" r="2.25" fill="#fff"/>
<circle cx="250.1" cy="394.2" r="2.25" fill="#fff"/>
<circle cx="233.7" cy="389.6" r="2.25" fill="#fff"/>
<circle cx="283.8" cy="406.5" r="2.25" fill="#fff"/>
<circle cx="278.9" cy="393.4" r="2.25" fill="#fff"/>
<circle cx="258.1" cy="383.2" r="2.25" fill="#fff"/>
<circle cx="246.3" cy="357.0" r="2.25" fill="#fff"/>
<circle cx="257.0" cy="333.5" r="2.25" fill="#fff"/>
<circle cx="273.2" cy="395.2" r="2.25" fill="#fff"/>
<circle cx="261.6" cy="322.6" r="2.25" fill="#fff"/>
<circle cx="234.1" cy="349.3" r="2.25" fill="#fff"/>
<circle cx="248.7" cy="387.0" r="2.25" fill="#fff"/>
<circle cx="240.4" cy="327.7" r="2.25" fill="#fff"/>
<circle cx="221.6" cy="354.4" r="2.25" fill="#fff"/>
<circle cx="255.3" cy="320.5" r="2.25" fill="#fff"/>
<circle cx="271.8" cy="340.8" r="2.25" fill="#fff"/>
<circle cx="263.0" cy="358.8" r="2.25" fill="#fff"/>
<circle cx="269.3" cy="366.6" r="2.25" fill="#fff"/>
<circle cx="227.9" cy="362.0" r="2.25" fill="#fff"/>
<circle cx="260.5" cy="393.3" r="2.25" fill="#fff"/>
<circle cx="253.5" cy="363.3" r="2.25" fill="#fff"/>
<circle cx="279.3" cy="339.2" r="2.25" fill="#fff"/>
<circle cx="242.5" cy="343.4" r="2.25" fill="#fff"/>
<circle cx="276.0" cy="366.2" r="2.25" fill="#fff"/>
<circle cx="302.7" cy="403.2" r="2.25" fill="#fff"/>
<circle cx="328.6" cy="418.3" r="2.25" fill="#fff"/>
<circle cx="322.1" cy="406.4" r="2.25" fill="#fff"/>
<circle cx="346.3" cy="387.8" r="2.25" fill="#fff"/>
<circle cx="321.9" cy="390.6" r="2.25" fill="#fff"/>
<circle cx="329.4" cy="391.8" r="2.25" fill="#fff"/>
<circle cx="361.2" cy="429.0" r="2.25" fill="#fff"/>
<circle cx="365.3" cy="391.7" r="2.25" fill="#fff"/>
<circle cx="359.0" cy="421.8" r="2.25" fill="#fff"/>
<circle cx="357.0" cy="397.9" r="2.25" fill="#fff"/>
<circle cx="364.2" cy="404.7" r="2.25" fill="#fff"/>
<circle cx="354.1" cy="411.5" r="2.25" fill="#fff"/>
<circle cx="141.1" cy="403.6" r="2.25" fill="#fff"/>
<circle cx="108.5" cy="377.1" r="2.25" fill="#fff"/>
<circle cx="84.7" cy="373.5" r="2.25" fill="#fff"/>
<circle cx="119.9" cy="393.8" r="2.25" fill="#fff"/>
<circle cx="95.3" cy="356.6" r="2.25" fill="#fff"/>
<circle cx="137.7" cy="389.3" r="2.25" fill="#fff"/>
<circle cx="116.7" cy="399.6" r="2.25" fill="#fff"/>
<circle cx="126.0" cy="400.2" r="2.25" fill="#fff"/>
<circle cx="84.0" cy="351.6" r="2.25" fill="#fff"/>
<circle cx="116.3" cy="359.7" r="2.25" fill="#fff"/>
<circle cx="152.1" cy="425.5" r="2.25" fill="#fff"/>
<circle cx="147.4" cy="375.9" r="2.25" fill="#fff"/>
<circle cx="139.1" cy="362.0" r="2.25" fill="#fff"/>
<circle cx="152.7" cy="372.0" r="2.25" fill="#fff"/>
<circle cx="145.6" cy="412.2" r="2.25" fill="#fff"/>
<circle cx="109.4" cy="367.9" r="2.25" fill="#fff"/>
<circle cx="98.4" cy="370.7" r="2.25" fill="#fff"/>
<circle cx="140.2" cy="384.4" r="2.25" fill="#fff"/>
<circle cx="103.0" cy="363.6" r="2.25" fill="#fff"/>
<circle cx="150.5" cy="410.7" r="2.25" fill="#fff"/>
<circle cx="88.1" cy="390.5" r="2.25" fill="#fff"/>
<circle cx="129.1" cy="410.9" r="2.25" fill="#fff"/>
<circle cx="136.2" cy="403.2" r="2.25" fill="#fff"/>
<circle cx="133.6" cy="398.6" r="2.25" fill="#fff"/>
<circle cx="95.9" cy="348.6" r="2.25" fill="#fff"/>
<circle cx="98.9" cy="360.0" r="2.25" fill="#fff"/>
<circle cx="160.9" cy="424.4" r="2.25" fill="#fff"/>
<circle cx="110.6" cy="382.1" r="2.25" fill="#fff"/>
<circle cx="33.1" cy="402.4" r="6.35" fill="#1b649d"/>
<circle cx="80.8" cy="377.7" r="5.65" fill="#1b649d"/>
<circle cx="325.2" cy="373.0" r="5.65" fill="#1b649d"/>
<circle cx="385.5" cy="474.0" r="5.65" fill="#1b649d"/>
<circle cx="272.9" cy="466.0" r="5.65" fill="#1b649d"/>
<circle cx="44.8" cy="454.0" r="5.45" fill="#1b649d"/>
<circle cx="415.3" cy="355.0" r="5.23" fill="#1b649d"/>
<circle cx="146.5" cy="404.9" r="5.15" fill="#1b649d"/>
<circle cx="370.7" cy="352.1" r="5.15" fill="#1b649d"/>
<circle cx="385.4" cy="368.3" r="5.15" fill="#1b649d"/>
<circle cx="407.5" cy="382.3" r="5.15" fill="#1b649d"/>
<circle cx="380.4" cy="389.8" r="5.15" fill="#1b649d"/>
<circle cx="387.9" cy="399.2" r="5.15" fill="#1b649d"/>
<circle cx="357.9" cy="373.9" r="5.15" fill="#1b649d"/>
<circle cx="368.2" cy="408.5" r="5.15" fill="#1b649d"/>
<circle cx="363.6" cy="417.9" r="5.15" fill="#1b649d"/>
<circle cx="369.2" cy="429.1" r="5.15" fill="#1b649d"/>
<circle cx="423.4" cy="412.2" r="5.15" fill="#1b649d"/>
<circle cx="425.7" cy="443.2" r="5.15" fill="#1b649d"/>
<circle cx="433.7" cy="468.1" r="5.15" fill="#1b649d"/>
<circle cx="430.5" cy="477.7" r="5.15" fill="#1b649d"/>
<circle cx="449.7" cy="460.1" r="5.15" fill="#1b649d"/>
<circle cx="464.1" cy="454.4" r="5.15" fill="#1b649d"/>
<circle cx="385.3" cy="474.5" r="5.15" fill="#1b649d"/>
<circle cx="247.3" cy="360.9" r="5.15" fill="#1b649d"/>
<circle cx="257.7" cy="360.1" r="5.15" fill="#1b649d"/>
<circle cx="410.0" cy="359.4" r="5.15" fill="#1b649d"/>
<circle cx="420.1" cy="362.8" r="5.15" fill="#1b649d"/>
<circle cx="82.5" cy="384.0" r="5.15" fill="#1b649d"/>
<circle cx="322.3" cy="397.6" r="5.15" fill="#1b649d"/>
<circle cx="359.8" cy="408.6" r="5.15" fill="#1b649d"/>
<circle cx="368.6" cy="407.9" r="5.15" fill="#1b649d"/>
<circle cx="364.9" cy="418.9" r="5.15" fill="#1b649d"/>
<circle cx="370.0" cy="429.9" r="5.15" fill="#1b649d"/>
<circle cx="389.9" cy="438.0" r="5.15" fill="#1b649d"/>
<circle cx="379.6" cy="389.5" r="5.15" fill="#1b649d"/>
<circle cx="388.4" cy="398.4" r="5.15" fill="#1b649d"/>
<circle cx="396.4" cy="362.1" r="5.14" fill="#1b649d"/>
<circle cx="388.3" cy="426.8" r="5.06" fill="#1b649d"/>
<circle cx="405.0" cy="361.0" r="5.01" fill="#1b649d"/>
<circle cx="406.7" cy="353.6" r="5.00" fill="#1b649d"/>
<circle cx="80.0" cy="360.9" r="4.95" fill="#1b649d"/>
<circle cx="284.1" cy="344.1" r="4.95" fill="#1b649d"/>
<circle cx="261.7" cy="371.3" r="4.95" fill="#1b649d"/>
<circle cx="392.8" cy="395.3" r="4.91" fill="#1b649d"/>
<circle cx="383.4" cy="435.5" r="4.89" fill="#1b649d"/>
<circle cx="376.9" cy="430.7" r="4.88" fill="#1b649d"/>
<circle cx="392.5" cy="371.6" r="4.86" fill="#1b649d"/>
<circle cx="358.8" cy="414.2" r="4.86" fill="#1b649d"/>
<circle cx="416.1" cy="368.2" r="4.81" fill="#1b649d"/>
<circle cx="399.0" cy="353.0" r="4.80" fill="#4f8fc6"/>
<circle cx="411.6" cy="365.3" r="4.70" fill="#1b649d"/>
<circle cx="380.2" cy="441.0" r="4.68" fill="#1b649d"/>
<circle cx="373.8" cy="361.4" r="4.65" fill="#1b649d"/>
<circle cx="410.3" cy="359.0" r="4.65" fill="#1b649d"/>
<circle cx="419.6" cy="362.7" r="4.65" fill="#1b649d"/>
<circle cx="322.4" cy="397.3" r="4.65" fill="#1b649d"/>
<circle cx="339.3" cy="414.1" r="4.65" fill="#1b649d"/>
<circle cx="423.3" cy="452.8" r="4.65" fill="#1b649d"/>
<circle cx="460.9" cy="481.7" r="4.65" fill="#1b649d"/>
<circle cx="389.6" cy="437.6" r="4.65" fill="#1b649d"/>
<circle cx="366.4" cy="429.6" r="4.65" fill="#1b649d"/>
<circle cx="385.3" cy="367.4" r="4.65" fill="#1b649d"/>
<circle cx="406.0" cy="368.8" r="4.65" fill="#4f8fc6"/>
<circle cx="339.2" cy="414.5" r="4.65" fill="#1b649d"/>
<circle cx="374.4" cy="417.5" r="4.65" fill="#1b649d"/>
<circle cx="392.1" cy="410.8" r="4.65" fill="#1b649d"/>
<circle cx="385.5" cy="418.2" r="4.65" fill="#1b649d"/>
<circle cx="409.5" cy="390.9" r="4.64" fill="#1b649d"/>
<circle cx="410.6" cy="378.0" r="4.63" fill="#4f8fc6"/>
<circle cx="379.7" cy="366.0" r="4.50" fill="#1b649d"/>
<circle cx="382.2" cy="384.4" r="4.48" fill="#4f8fc6"/>
<circle cx="364.8" cy="402.2" r="4.45" fill="#1b649d"/>
<circle cx="421.2" cy="379.0" r="4.37" fill="#1b649d"/>
<circle cx="390.6" cy="364.1" r="4.36" fill="#1b649d"/>
<circle cx="270.5" cy="332.0" r="4.35" fill="#1b649d"/>
<circle cx="369.0" cy="436.6" r="4.33" fill="#1b649d"/>
<circle cx="393.2" cy="422.5" r="4.25" fill="#1b649d"/>
<circle cx="386.9" cy="358.4" r="4.24" fill="#4f8fc6"/>
<circle cx="387.7" cy="373.9" r="4.17" fill="#1b649d"/>
<circle cx="375.4" cy="409.1" r="4.17" fill="#1b649d"/>
<circle cx="64.8" cy="338.4" r="4.15" fill="#4f8fc6"/>
<circle cx="84.0" cy="385.7" r="4.15" fill="#1b649d"/>
<circle cx="134.8" cy="368.4" r="4.15" fill="#4f8fc6"/>
<circle cx="422.4" cy="369.3" r="4.15" fill="#1b649d"/>
<circle cx="400.9" cy="365.5" r="4.15" fill="#1b649d"/>
<circle cx="397.2" cy="376.7" r="4.15" fill="#1b649d"/>
<circle cx="415.9" cy="378.6" r="4.15" fill="#1b649d"/>
<circle cx="389.7" cy="380.5" r="4.15" fill="#1b649d"/>
<circle cx="389.7" cy="386.1" r="4.15" fill="#1b649d"/>
<circle cx="400.9" cy="395.4" r="4.15" fill="#1b649d"/>
<circle cx="302.8" cy="382.3" r="4.15" fill="#1b649d"/>
<circle cx="302.8" cy="397.3" r="4.15" fill="#1b649d"/>
<circle cx="359.8" cy="408.5" r="4.15" fill="#1b649d"/>
<circle cx="374.8" cy="416.0" r="4.15" fill="#1b649d"/>
<circle cx="391.6" cy="410.4" r="4.15" fill="#1b649d"/>
<circle cx="387.9" cy="419.7" r="4.15" fill="#1b649d"/>
<circle cx="363.6" cy="427.2" r="4.15" fill="#1b649d"/>
<circle cx="389.7" cy="434.7" r="4.15" fill="#1b649d"/>
<circle cx="412.1" cy="373.0" r="4.15" fill="#1b649d"/>
<circle cx="404.7" cy="373.0" r="4.15" fill="#1b649d"/>
<circle cx="414.0" cy="386.1" r="4.15" fill="#1b649d"/>
<circle cx="397.2" cy="386.1" r="4.15" fill="#1b649d"/>
<circle cx="384.1" cy="391.7" r="4.15" fill="#1b649d"/>
<circle cx="378.5" cy="401.0" r="4.15" fill="#1b649d"/>
<circle cx="371.0" cy="401.0" r="4.15" fill="#1b649d"/>
<circle cx="365.4" cy="408.5" r="4.15" fill="#1b649d"/>
<circle cx="382.2" cy="408.5" r="4.15" fill="#1b649d"/>
<circle cx="378.5" cy="417.9" r="4.15" fill="#1b649d"/>
<circle cx="374.8" cy="425.3" r="4.15" fill="#1b649d"/>
<circle cx="382.2" cy="427.2" r="4.15" fill="#1b649d"/>
<circle cx="364.8" cy="421.6" r="4.15" fill="#1b649d"/>
<circle cx="373.6" cy="423.2" r="4.15" fill="#1b649d"/>
<circle cx="374.4" cy="442.4" r="4.15" fill="#1b649d"/>
<circle cx="385.6" cy="444.0" r="4.15" fill="#1b649d"/>
<circle cx="301.7" cy="382.5" r="4.15" fill="#1b649d"/>
<circle cx="422.7" cy="370.1" r="4.15" fill="#1b649d"/>
<circle cx="303.2" cy="382.9" r="4.15" fill="#1b649d"/>
<circle cx="302.5" cy="397.6" r="4.15" fill="#1b649d"/>
<circle cx="362.0" cy="425.5" r="4.15" fill="#1b649d"/>
<circle cx="374.4" cy="439.5" r="4.15" fill="#1b649d"/>
<circle cx="385.5" cy="443.2" r="4.15" fill="#1b649d"/>
<circle cx="391.3" cy="386.6" r="4.15" fill="#1b649d"/>
<circle cx="372.2" cy="384.4" r="4.15" fill="#1b649d"/>
<circle cx="402.4" cy="384.3" r="4.02" fill="#1b649d"/>
<circle cx="380.1" cy="358.2" r="3.97" fill="#1b649d"/>
<circle cx="275.3" cy="372.9" r="3.95" fill="#1b649d"/>
<circle cx="379.2" cy="371.6" r="3.89" fill="#1b649d"/>
<circle cx="422.4" cy="356.7" r="3.81" fill="#1b649d"/>
<circle cx="387.0" cy="405.7" r="3.77" fill="#1b649d"/>
<circle cx="393.0" cy="355.2" r="3.76" fill="#1b649d"/>
<circle cx="253.7" cy="339.3" r="3.75" fill="#1b649d"/>
<circle cx="234.4" cy="354.5" r="3.75" fill="#1b649d"/>
<circle cx="243.3" cy="349.7" r="3.75" fill="#1b649d"/>
<circle cx="406.5" cy="369.3" r="3.65" fill="#4f8fc6"/>
<circle cx="327.5" cy="405.7" r="3.65" fill="#1b649d"/>
<circle cx="353.2" cy="396.2" r="3.65" fill="#1b649d"/>
<circle cx="117.4" cy="366.5" r="3.45" fill="#8fbfe4"/>
<circle cx="255.3" cy="325.6" r="3.45" fill="#8fbfe4"/>
<circle cx="91.2" cy="349.6" r="3.35" fill="#8fbfe4"/>
<circle cx="314.5" cy="342.5" r="3.35" fill="#8fbfe4"/>
<circle cx="253.7" cy="351.3" r="3.35" fill="#8fbfe4"/>
<circle cx="88.0" cy="368.9" r="3.15" fill="#8fbfe4"/>
<circle cx="374.8" cy="382.3" r="3.15" fill="#1b649d"/>
<circle cx="352.3" cy="397.3" r="3.15" fill="#1b649d"/>
<circle cx="335.5" cy="369.3" r="3.15" fill="#8fbfe4"/>
<circle cx="314.6" cy="342.1" r="3.15" fill="#8fbfe4"/>
<circle cx="302.5" cy="392.9" r="3.15" fill="#1b649d"/>
<circle cx="318.6" cy="392.9" r="3.15" fill="#1b649d"/>
<circle cx="307.6" cy="399.1" r="3.15" fill="#1b649d"/>
<circle cx="144.9" cy="376.9" r="2.65" fill="#1b649d"/>
<circle cx="67.7" cy="345.6" r="2.55" fill="#8fbfe4"/>
<circle cx="278.5" cy="307.2" r="2.35" fill="#8fbfe4"/>
<circle cx="90.4" cy="354.4" r="2.15" fill="#8fbfe4"/>
<circle cx="129.7" cy="401.7" r="2.15" fill="#4f8fc6"/>
<circle cx="354.2" cy="394.5" r="2.15" fill="#8fbfe4"/>
<circle cx="339.3" cy="422.5" r="2.15" fill="#8fbfe4"/>
<circle cx="382.2" cy="377.7" r="2.15" fill="#8fbfe4"/>
<circle cx="392.5" cy="378.6" r="2.15" fill="#8fbfe4"/>
<circle cx="248.9" cy="380.9" r="2.15" fill="#8fbfe4"/>
<circle cx="339.9" cy="422.6" r="2.15" fill="#8fbfe4"/>
<circle cx="232.0" cy="375.3" r="1.65" fill="#8fbfe4"/>
<circle cx="355.4" cy="394.7" r="1.65" fill="#8fbfe4"/>
<circle cx="269.0" cy="336.7" r="2.25" fill="#fff"/>
<circle cx="237.2" cy="353.5" r="2.25" fill="#fff"/>
<circle cx="272.2" cy="462.3" r="2.25" fill="#fff"/>
<circle cx="269.4" cy="464.0" r="2.25" fill="#fff"/>
<circle cx="315.0" cy="392.6" r="2.25" fill="#fff"/>
<circle cx="356.3" cy="405.4" r="2.25" fill="#fff"/>
<circle cx="355.5" cy="417.5" r="2.25" fill="#fff"/>
<circle cx="362.7" cy="415.1" r="2.25" fill="#fff"/>
<circle cx="372.2" cy="413.4" r="2.25" fill="#fff"/>
<circle cx="394.5" cy="399.0" r="2.25" fill="#fff"/>
<circle cx="363.5" cy="399.0" r="2.25" fill="#fff"/>
<circle cx="394.5" cy="419.9" r="2.25" fill="#fff"/>
<circle cx="394.5" cy="436.7" r="2.25" fill="#fff"/>
<circle cx="378.6" cy="439.1" r="2.25" fill="#fff"/>
<circle cx="377.0" cy="443.9" r="2.25" fill="#fff"/>
<circle cx="380.4" cy="374.4" r="2.25" fill="#fff"/>
<circle cx="387.7" cy="377.1" r="2.25" fill="#fff"/>
<circle cx="413.6" cy="380.4" r="2.25" fill="#fff"/>
<circle cx="418.2" cy="374.4" r="2.25" fill="#fff"/>
<circle cx="418.9" cy="382.4" r="2.25" fill="#fff"/>
<circle cx="413.6" cy="381.3" r="2.25" fill="#fff"/>
<circle cx="386.4" cy="384.7" r="2.25" fill="#fff"/>
<circle cx="394.4" cy="398.7" r="2.25" fill="#fff"/>
<circle cx="386.4" cy="438.8" r="2.25" fill="#fff"/>
<circle cx="395.0" cy="438.1" r="2.25" fill="#fff"/>
<circle cx="422.8" cy="415.4" r="2.25" fill="#fff"/>
<circle cx="453.3" cy="455.4" r="2.25" fill="#fff"/>
<circle cx="428.3" cy="481.9" r="2.25" fill="#fff"/>
<circle cx="453.0" cy="455.4" r="2.25" fill="#fff"/>
<circle cx="424.9" cy="456.0" r="2.25" fill="#fff"/>
<circle cx="462.5" cy="485.7" r="2.25" fill="#fff"/>
<circle cx="392.0" cy="426.4" r="2.25" fill="#fff"/>
<circle cx="382.4" cy="431.2" r="2.25" fill="#fff"/>
<circle cx="376.0" cy="434.4" r="2.25" fill="#fff"/>
<circle cx="393.4" cy="368.8" r="2.25" fill="#fff"/>
<circle cx="338.5" cy="417.5" r="2.25" fill="#fff"/>
<circle cx="260.4" cy="368.5" r="2.25" fill="#fff"/>
<circle cx="266.5" cy="371.2" r="2.25" fill="#fff"/>
<circle cx="251.5" cy="358.4" r="2.25" fill="#fff"/>
<circle cx="240.5" cy="348.2" r="2.25" fill="#fff"/>
<circle cx="230.3" cy="353.6" r="2.25" fill="#fff"/>
<circle cx="258.2" cy="374.0" r="2.25" fill="#fff"/>
<circle cx="364.2" cy="404.7" r="2.25" fill="#fff"/>
<circle cx="36.0" cy="404.0" r="1.8" fill="#fff"/>
<circle cx="85.7" cy="385.6" r="1.8" fill="#fff"/>
<circle cx="78.8" cy="361.5" r="1.8" fill="#fff"/>
<circle cx="81.8" cy="388.6" r="1.8" fill="#fff"/>
<circle cx="369.0" cy="357.0" r="1.8" fill="#fff"/>
<circle cx="311.0" cy="400.0" r="1.8" fill="#fff"/>
<circle cx="301.0" cy="387.0" r="1.8" fill="#fff"/>
<circle cx="146.6" cy="405.5" r="1.8" fill="#fff"/>
</g>
<polyline points="207.3,837.2 321.5,654.1 446.4,611 495.8,603.6 542.6,602.2 691.8,602.2" fill="none" stroke="#000" stroke-width="5.6" stroke-linejoin="round" stroke-linecap="round"/>
<rect x="163.4" y="590" width="572.3000000000001" height="272.29999999999995" fill="none" stroke="#1e1e1e" stroke-width="2.2"/>
<line x1="176.9" y1="862.3" x2="176.9" y2="858.3" stroke="#1e1e1e" stroke-width="1.6"/>
<line x1="176.9" y1="590" x2="176.9" y2="594" stroke="#1e1e1e" stroke-width="1.6"/>
<line x1="188.4" y1="862.3" x2="188.4" y2="855.3" stroke="#1e1e1e" stroke-width="1.6"/>
<line x1="188.4" y1="590" x2="188.4" y2="597" stroke="#1e1e1e" stroke-width="1.6"/>
<line x1="264.2" y1="862.3" x2="264.2" y2="858.3" stroke="#1e1e1e" stroke-width="1.6"/>
<line x1="264.2" y1="590" x2="264.2" y2="594" stroke="#1e1e1e" stroke-width="1.6"/>
<line x1="308.5" y1="862.3" x2="308.5" y2="858.3" stroke="#1e1e1e" stroke-width="1.6"/>
<line x1="308.5" y1="590" x2="308.5" y2="594" stroke="#1e1e1e" stroke-width="1.6"/>
<line x1="339.9" y1="862.3" x2="339.9" y2="858.3" stroke="#1e1e1e" stroke-width="1.6"/>
<line x1="339.9" y1="590" x2="339.9" y2="594" stroke="#1e1e1e" stroke-width="1.6"/>
<line x1="364.3" y1="862.3" x2="364.3" y2="858.3" stroke="#1e1e1e" stroke-width="1.6"/>
<line x1="364.3" y1="590" x2="364.3" y2="594" stroke="#1e1e1e" stroke-width="1.6"/>
<line x1="384.3" y1="862.3" x2="384.3" y2="858.3" stroke="#1e1e1e" stroke-width="1.6"/>
<line x1="384.3" y1="590" x2="384.3" y2="594" stroke="#1e1e1e" stroke-width="1.6"/>
<line x1="401.1" y1="862.3" x2="401.1" y2="858.3" stroke="#1e1e1e" stroke-width="1.6"/>
<line x1="401.1" y1="590" x2="401.1" y2="594" stroke="#1e1e1e" stroke-width="1.6"/>
<line x1="415.7" y1="862.3" x2="415.7" y2="858.3" stroke="#1e1e1e" stroke-width="1.6"/>
<line x1="415.7" y1="590" x2="415.7" y2="594" stroke="#1e1e1e" stroke-width="1.6"/>
<line x1="428.6" y1="862.3" x2="428.6" y2="858.3" stroke="#1e1e1e" stroke-width="1.6"/>
<line x1="428.6" y1="590" x2="428.6" y2="594" stroke="#1e1e1e" stroke-width="1.6"/>
<line x1="440.1" y1="862.3" x2="440.1" y2="855.3" stroke="#1e1e1e" stroke-width="1.6"/>
<line x1="440.1" y1="590" x2="440.1" y2="597" stroke="#1e1e1e" stroke-width="1.6"/>
<line x1="515.9" y1="862.3" x2="515.9" y2="858.3" stroke="#1e1e1e" stroke-width="1.6"/>
<line x1="515.9" y1="590" x2="515.9" y2="594" stroke="#1e1e1e" stroke-width="1.6"/>
<line x1="560.2" y1="862.3" x2="560.2" y2="858.3" stroke="#1e1e1e" stroke-width="1.6"/>
<line x1="560.2" y1="590" x2="560.2" y2="594" stroke="#1e1e1e" stroke-width="1.6"/>
<line x1="591.6" y1="862.3" x2="591.6" y2="858.3" stroke="#1e1e1e" stroke-width="1.6"/>
<line x1="591.6" y1="590" x2="591.6" y2="594" stroke="#1e1e1e" stroke-width="1.6"/>
<line x1="616.0" y1="862.3" x2="616.0" y2="858.3" stroke="#1e1e1e" stroke-width="1.6"/>
<line x1="616.0" y1="590" x2="616.0" y2="594" stroke="#1e1e1e" stroke-width="1.6"/>
<line x1="636.0" y1="862.3" x2="636.0" y2="858.3" stroke="#1e1e1e" stroke-width="1.6"/>
<line x1="636.0" y1="590" x2="636.0" y2="594" stroke="#1e1e1e" stroke-width="1.6"/>
<line x1="652.8" y1="862.3" x2="652.8" y2="858.3" stroke="#1e1e1e" stroke-width="1.6"/>
<line x1="652.8" y1="590" x2="652.8" y2="594" stroke="#1e1e1e" stroke-width="1.6"/>
<line x1="667.4" y1="862.3" x2="667.4" y2="858.3" stroke="#1e1e1e" stroke-width="1.6"/>
<line x1="667.4" y1="590" x2="667.4" y2="594" stroke="#1e1e1e" stroke-width="1.6"/>
<line x1="680.3" y1="862.3" x2="680.3" y2="858.3" stroke="#1e1e1e" stroke-width="1.6"/>
<line x1="680.3" y1="590" x2="680.3" y2="594" stroke="#1e1e1e" stroke-width="1.6"/>
<line x1="163.4" y1="849.8" x2="170.4" y2="849.8" stroke="#1e1e1e" stroke-width="1.6"/>
<line x1="735.7" y1="849.8" x2="728.7" y2="849.8" stroke="#1e1e1e" stroke-width="1.6"/>
<line x1="163.4" y1="825.0" x2="170.4" y2="825.0" stroke="#1e1e1e" stroke-width="1.6"/>
<line x1="735.7" y1="825.0" x2="728.7" y2="825.0" stroke="#1e1e1e" stroke-width="1.6"/>
<line x1="163.4" y1="800.3" x2="170.4" y2="800.3" stroke="#1e1e1e" stroke-width="1.6"/>
<line x1="735.7" y1="800.3" x2="728.7" y2="800.3" stroke="#1e1e1e" stroke-width="1.6"/>
<line x1="163.4" y1="775.5" x2="170.4" y2="775.5" stroke="#1e1e1e" stroke-width="1.6"/>
<line x1="735.7" y1="775.5" x2="728.7" y2="775.5" stroke="#1e1e1e" stroke-width="1.6"/>
<line x1="163.4" y1="750.8" x2="170.4" y2="750.8" stroke="#1e1e1e" stroke-width="1.6"/>
<line x1="735.7" y1="750.8" x2="728.7" y2="750.8" stroke="#1e1e1e" stroke-width="1.6"/>
<line x1="163.4" y1="726.0" x2="170.4" y2="726.0" stroke="#1e1e1e" stroke-width="1.6"/>
<line x1="735.7" y1="726.0" x2="728.7" y2="726.0" stroke="#1e1e1e" stroke-width="1.6"/>
<line x1="163.4" y1="701.3" x2="170.4" y2="701.3" stroke="#1e1e1e" stroke-width="1.6"/>
<line x1="735.7" y1="701.3" x2="728.7" y2="701.3" stroke="#1e1e1e" stroke-width="1.6"/>
<line x1="163.4" y1="676.5" x2="170.4" y2="676.5" stroke="#1e1e1e" stroke-width="1.6"/>
<line x1="735.7" y1="676.5" x2="728.7" y2="676.5" stroke="#1e1e1e" stroke-width="1.6"/>
<line x1="163.4" y1="651.8" x2="170.4" y2="651.8" stroke="#1e1e1e" stroke-width="1.6"/>
<line x1="735.7" y1="651.8" x2="728.7" y2="651.8" stroke="#1e1e1e" stroke-width="1.6"/>
<line x1="163.4" y1="627.0" x2="170.4" y2="627.0" stroke="#1e1e1e" stroke-width="1.6"/>
<line x1="735.7" y1="627.0" x2="728.7" y2="627.0" stroke="#1e1e1e" stroke-width="1.6"/>
<line x1="163.4" y1="602.3" x2="170.4" y2="602.3" stroke="#1e1e1e" stroke-width="1.6"/>
<line x1="735.7" y1="602.3" x2="728.7" y2="602.3" stroke="#1e1e1e" stroke-width="1.6"/>
<text x="158.2" y="608.5" font-family='"Liberation Sans", sans-serif' font-weight="bold" fill="#2a2a2a" font-size="17.5" text-anchor="end">1</text>
<text x="158.2" y="658.0" font-family='"Liberation Sans", sans-serif' font-weight="bold" fill="#2a2a2a" font-size="17.5" text-anchor="end">0.8</text>
<text x="158.2" y="707.5" font-family='"Liberation Sans", sans-serif' font-weight="bold" fill="#2a2a2a" font-size="17.5" text-anchor="end">0.6</text>
<text x="158.2" y="757.0" font-family='"Liberation Sans", sans-serif' font-weight="bold" fill="#2a2a2a" font-size="17.5" text-anchor="end">0.4</text>
<text x="158.2" y="806.5" font-family='"Liberation Sans", sans-serif' font-weight="bold" fill="#2a2a2a" font-size="17.5" text-anchor="end">0.2</text>
<text x="158.2" y="856.0" font-family='"Liberation Sans", sans-serif' font-weight="bold" fill="#2a2a2a" font-size="17.5" text-anchor="end">0</text>
<text x="176" y="885.5" font-family='"Liberation Sans", sans-serif' font-weight="bold" fill="#2a2a2a" font-size="17">10<tspan font-size="13" dy="-8.5">-2</tspan></text>
<text x="429" y="885.5" font-family='"Liberation Sans", sans-serif' font-weight="bold" fill="#2a2a2a" font-size="17">10<tspan font-size="13" dy="-8.5">-1</tspan></text>
<text x="681.5" y="885.5" font-family='"Liberation Sans", sans-serif' font-weight="bold" fill="#2a2a2a" font-size="17">10<tspan font-size="13" dy="-8.5">0</tspan></text>
<text x="425.5" y="925.3" font-family='"Liberation Serif", serif' font-size="38" fill="#e6e6e6" stroke="#333" stroke-width="0.85">S</text>
<text x="446.6" y="932.6" font-family='"Liberation Sans", sans-serif' font-size="21" fill="#222">n</text>
<text transform="translate(114.5,744) rotate(-90)" font-family='"Liberation Serif", serif' font-size="36" fill="#333" font-style="italic">E<tspan font-size="23" dy="5">n</tspan></text>
<text transform="translate(196.5,728.5) rotate(-52)" font-family='"Liberation Sans", sans-serif' font-size="25" fill="#111">80%</text>
</svg></body></html>
